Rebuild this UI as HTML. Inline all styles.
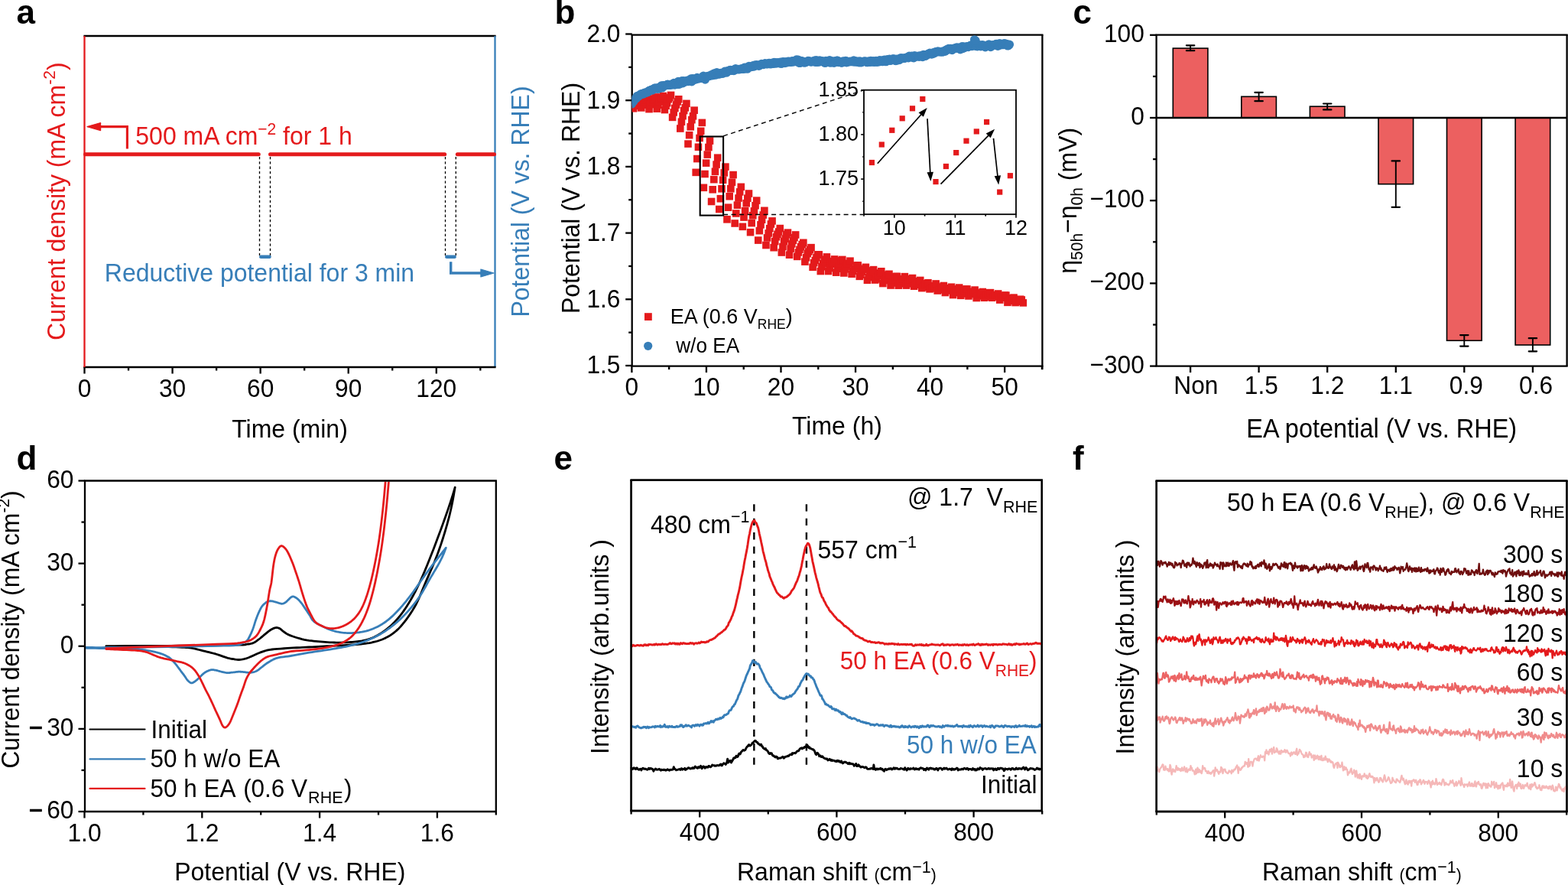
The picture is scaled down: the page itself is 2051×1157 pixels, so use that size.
<!DOCTYPE html>
<html><head><meta charset="utf-8"><title>Figure</title>
<style>html,body{margin:0;padding:0;background:#fff;}svg{display:block;}
text{font-family:'Liberation Sans', Arial, Helvetica, sans-serif;}</style></head>
<body>
<svg width="2051" height="1157" viewBox="0 0 2051 1157">
<rect x="0" y="0" width="2051" height="1157" fill="#fff"/>
<text x="21.5" y="31" font-size="44" font-weight="bold" >a</text>
<text x="725.5" y="31" font-size="44" font-weight="bold" >b</text>
<text x="1403.5" y="31" font-size="44" font-weight="bold" >c</text>
<text x="21.5" y="614" font-size="44" font-weight="bold" >d</text>
<text x="724.5" y="614" font-size="44" font-weight="bold" >e</text>
<text x="1403" y="614" font-size="44" font-weight="bold" >f</text>
<line x1="109.4" y1="47" x2="648.6" y2="47" stroke="#000" stroke-width="2.3" />
<line x1="647.5" y1="47" x2="647.5" y2="480" stroke="#377EB8" stroke-width="2.3" />
<line x1="109.4" y1="480" x2="648.6" y2="480" stroke="#000" stroke-width="2.3" />
<line x1="110.5" y1="47" x2="110.5" y2="480" stroke="#E41A1C" stroke-width="2.3" />
<line x1="110.5" y1="480" x2="110.5" y2="488.5" stroke="#000" stroke-width="2.3" />
<text transform="translate(110.5,519.4) scale(1,1.055)" font-size="31.7" text-anchor="middle" >0</text>
<line x1="168.04" y1="480" x2="168.04" y2="484.5" stroke="#000" stroke-width="2.3" />
<line x1="225.57" y1="480" x2="225.57" y2="488.5" stroke="#000" stroke-width="2.3" />
<text transform="translate(225.57,519.4) scale(1,1.055)" font-size="31.7" text-anchor="middle" >30</text>
<line x1="283.11" y1="480" x2="283.11" y2="484.5" stroke="#000" stroke-width="2.3" />
<line x1="340.64" y1="480" x2="340.64" y2="488.5" stroke="#000" stroke-width="2.3" />
<text transform="translate(340.64,519.4) scale(1,1.055)" font-size="31.7" text-anchor="middle" >60</text>
<line x1="398.18" y1="480" x2="398.18" y2="484.5" stroke="#000" stroke-width="2.3" />
<line x1="455.71" y1="480" x2="455.71" y2="488.5" stroke="#000" stroke-width="2.3" />
<text transform="translate(455.71,519.4) scale(1,1.055)" font-size="31.7" text-anchor="middle" >90</text>
<line x1="513.25" y1="480" x2="513.25" y2="484.5" stroke="#000" stroke-width="2.3" />
<line x1="570.79" y1="480" x2="570.79" y2="488.5" stroke="#000" stroke-width="2.3" />
<text transform="translate(570.79,519.4) scale(1,1.055)" font-size="31.7" text-anchor="middle" >120</text>
<line x1="628.32" y1="480" x2="628.32" y2="484.5" stroke="#000" stroke-width="2.3" />
<line x1="111.5" y1="201.7" x2="338.3" y2="201.7" stroke="#E41A1C" stroke-width="5" stroke-linecap="round"/>
<line x1="353.5" y1="201.7" x2="581.7" y2="201.7" stroke="#E41A1C" stroke-width="5" stroke-linecap="round"/>
<line x1="598.3" y1="201.7" x2="646.5" y2="201.7" stroke="#E41A1C" stroke-width="5" stroke-linecap="round"/>
<line x1="339.5" y1="205" x2="339.5" y2="334" stroke="#000" stroke-width="1.3" stroke-dasharray="3.3 3"/>
<line x1="353.5" y1="205" x2="353.5" y2="334" stroke="#000" stroke-width="1.3" stroke-dasharray="3.3 3"/>
<line x1="582.5" y1="205" x2="582.5" y2="334" stroke="#000" stroke-width="1.3" stroke-dasharray="3.3 3"/>
<line x1="596.3" y1="205" x2="596.3" y2="334" stroke="#000" stroke-width="1.3" stroke-dasharray="3.3 3"/>
<line x1="341.3" y1="335.8" x2="352.5" y2="335.8" stroke="#377EB8" stroke-width="4.6" stroke-linecap="round"/>
<line x1="584.3" y1="335.8" x2="594.6" y2="335.8" stroke="#377EB8" stroke-width="4.6" stroke-linecap="round"/>
<polyline points="166.4,194.5 166.4,165.6 128,165.6" fill="none" stroke="#E41A1C" stroke-width="3.1"/>
<polygon points="114,165.6 131.6,160.6 131.6,170.6" fill="#E41A1C" stroke="#E41A1C" stroke-width="1.2" stroke-linejoin="round"/>
<polyline points="589.7,342.3 589.7,357 632,357" fill="none" stroke="#377EB8" stroke-width="3.4"/>
<polygon points="646,357 628.9,352 628.9,362" fill="#377EB8" stroke="#377EB8" stroke-width="1.2" stroke-linejoin="round"/>
<text transform="translate(177.3,189.1) scale(1,1.055)" font-size="32" fill="#E41A1C" >500 mA cm<tspan dy="-12" font-size="21">−2</tspan><tspan dy="12"> for 1 h</tspan></text>
<text transform="translate(136.8,368.2) scale(1,1.055)" font-size="32" fill="#377EB8" >Reductive potential for 3 min</text>
<text transform="translate(379,571.6) scale(1,1.055)" font-size="32" text-anchor="middle" >Time (min)</text>
<text transform="translate(85,263.2) rotate(-90) scale(1,1.055)" text-anchor="middle" font-size="32" fill="#E41A1C">Current density (mA cm<tspan dy="-12" font-size="21">-2</tspan><tspan dy="12">)</tspan></text>
<text transform="translate(691.5,263.5) rotate(-90) scale(1,1.055)" text-anchor="middle" font-size="32" fill="#377EB8">Potential (V vs. RHE)</text>
<line x1="825.6" y1="45.6" x2="1364.5" y2="45.6" stroke="#000" stroke-width="2.3" />
<line x1="1363.4" y1="45.6" x2="1363.4" y2="478.6" stroke="#000" stroke-width="2.3" />
<line x1="825.6" y1="478.6" x2="1364.5" y2="478.6" stroke="#000" stroke-width="2.3" />
<line x1="826.7" y1="45.6" x2="826.7" y2="478.6" stroke="#000" stroke-width="2.3" />
<line x1="826.4" y1="478.6" x2="826.4" y2="487.1" stroke="#000" stroke-width="2.3" />
<text transform="translate(826.4,517.1) scale(1,1.055)" font-size="31.7" text-anchor="middle" >0</text>
<line x1="875.17" y1="478.6" x2="875.17" y2="483.1" stroke="#000" stroke-width="2.3" />
<line x1="923.95" y1="478.6" x2="923.95" y2="487.1" stroke="#000" stroke-width="2.3" />
<text transform="translate(923.95,517.1) scale(1,1.055)" font-size="31.7" text-anchor="middle" >10</text>
<line x1="972.73" y1="478.6" x2="972.73" y2="483.1" stroke="#000" stroke-width="2.3" />
<line x1="1021.5" y1="478.6" x2="1021.5" y2="487.1" stroke="#000" stroke-width="2.3" />
<text transform="translate(1021.5,517.1) scale(1,1.055)" font-size="31.7" text-anchor="middle" >20</text>
<line x1="1070.28" y1="478.6" x2="1070.28" y2="483.1" stroke="#000" stroke-width="2.3" />
<line x1="1119.05" y1="478.6" x2="1119.05" y2="487.1" stroke="#000" stroke-width="2.3" />
<text transform="translate(1119.05,517.1) scale(1,1.055)" font-size="31.7" text-anchor="middle" >30</text>
<line x1="1167.83" y1="478.6" x2="1167.83" y2="483.1" stroke="#000" stroke-width="2.3" />
<line x1="1216.6" y1="478.6" x2="1216.6" y2="487.1" stroke="#000" stroke-width="2.3" />
<text transform="translate(1216.6,517.1) scale(1,1.055)" font-size="31.7" text-anchor="middle" >40</text>
<line x1="1265.38" y1="478.6" x2="1265.38" y2="483.1" stroke="#000" stroke-width="2.3" />
<line x1="1314.15" y1="478.6" x2="1314.15" y2="487.1" stroke="#000" stroke-width="2.3" />
<text transform="translate(1314.15,517.1) scale(1,1.055)" font-size="31.7" text-anchor="middle" >50</text>
<line x1="1362.93" y1="478.6" x2="1362.93" y2="483.1" stroke="#000" stroke-width="2.3" />
<line x1="1363.4" y1="478.6" x2="1363.4" y2="483.1" stroke="#000" stroke-width="2.3" />
<line x1="818.2" y1="478" x2="826.7" y2="478" stroke="#000" stroke-width="2.3" />
<text transform="translate(811.5,488.4) scale(1,1.055)" font-size="31.7" text-anchor="end" >1.5</text>
<line x1="822.2" y1="434.65" x2="826.7" y2="434.65" stroke="#000" stroke-width="2.3" />
<line x1="818.2" y1="391.3" x2="826.7" y2="391.3" stroke="#000" stroke-width="2.3" />
<text transform="translate(811.5,401.7) scale(1,1.055)" font-size="31.7" text-anchor="end" >1.6</text>
<line x1="822.2" y1="347.95" x2="826.7" y2="347.95" stroke="#000" stroke-width="2.3" />
<line x1="818.2" y1="304.6" x2="826.7" y2="304.6" stroke="#000" stroke-width="2.3" />
<text transform="translate(811.5,315) scale(1,1.055)" font-size="31.7" text-anchor="end" >1.7</text>
<line x1="822.2" y1="261.25" x2="826.7" y2="261.25" stroke="#000" stroke-width="2.3" />
<line x1="818.2" y1="217.9" x2="826.7" y2="217.9" stroke="#000" stroke-width="2.3" />
<text transform="translate(811.5,228.3) scale(1,1.055)" font-size="31.7" text-anchor="end" >1.8</text>
<line x1="822.2" y1="174.55" x2="826.7" y2="174.55" stroke="#000" stroke-width="2.3" />
<line x1="818.2" y1="131.2" x2="826.7" y2="131.2" stroke="#000" stroke-width="2.3" />
<text transform="translate(811.5,141.6) scale(1,1.055)" font-size="31.7" text-anchor="end" >1.9</text>
<line x1="822.2" y1="87.85" x2="826.7" y2="87.85" stroke="#000" stroke-width="2.3" />
<line x1="818.2" y1="44.5" x2="826.7" y2="44.5" stroke="#000" stroke-width="2.3" />
<text transform="translate(811.5,54.9) scale(1,1.055)" font-size="31.7" text-anchor="end" >2.0</text>
<defs><clipPath id="clipb"><rect x="826.7" y="45.6" width="536.7" height="433.0"/></clipPath></defs>
<g fill="#E41A1C" clip-path="url(#clipb)">
<rect x="823.84" y="136.96" width="9.6" height="9.6"/><rect x="825.47" y="133.67" width="9.6" height="9.6"/><rect x="827.1" y="131.87" width="9.6" height="9.6"/><rect x="828.72" y="130.05" width="9.6" height="9.6"/><rect x="830.35" y="128.87" width="9.6" height="9.6"/><rect x="831.97" y="126.95" width="9.6" height="9.6"/><rect x="834.04" y="136.13" width="9.6" height="9.6"/><rect x="835.66" y="132.35" width="9.6" height="9.6"/><rect x="837.29" y="128.64" width="9.6" height="9.6"/><rect x="838.92" y="126.33" width="9.6" height="9.6"/><rect x="840.54" y="123.94" width="9.6" height="9.6"/><rect x="842.17" y="121.86" width="9.6" height="9.6"/><rect x="844.23" y="137.82" width="9.6" height="9.6"/><rect x="845.86" y="131.83" width="9.6" height="9.6"/><rect x="847.48" y="128.5" width="9.6" height="9.6"/><rect x="849.11" y="125.55" width="9.6" height="9.6"/><rect x="850.73" y="124.44" width="9.6" height="9.6"/><rect x="852.36" y="122.13" width="9.6" height="9.6"/><rect x="854.43" y="137.34" width="9.6" height="9.6"/><rect x="856.05" y="132.43" width="9.6" height="9.6"/><rect x="857.68" y="128.25" width="9.6" height="9.6"/><rect x="859.3" y="125.37" width="9.6" height="9.6"/><rect x="860.93" y="122.47" width="9.6" height="9.6"/><rect x="862.55" y="120.72" width="9.6" height="9.6"/><rect x="864.62" y="138.75" width="9.6" height="9.6"/><rect x="866.25" y="133.43" width="9.6" height="9.6"/><rect x="867.87" y="129.89" width="9.6" height="9.6"/><rect x="869.5" y="124.94" width="9.6" height="9.6"/><rect x="871.12" y="122.77" width="9.6" height="9.6"/><rect x="872.75" y="119.6" width="9.6" height="9.6"/><rect x="874.81" y="148.58" width="9.6" height="9.6"/><rect x="876.44" y="142.11" width="9.6" height="9.6"/><rect x="878.07" y="136.67" width="9.6" height="9.6"/><rect x="879.69" y="132.19" width="9.6" height="9.6"/><rect x="881.32" y="128.15" width="9.6" height="9.6"/><rect x="882.94" y="124.94" width="9.6" height="9.6"/><rect x="885.01" y="163.24" width="9.6" height="9.6"/><rect x="886.63" y="154.42" width="9.6" height="9.6"/><rect x="888.26" y="146.9" width="9.6" height="9.6"/><rect x="889.88" y="139.78" width="9.6" height="9.6"/><rect x="891.51" y="136.01" width="9.6" height="9.6"/><rect x="893.14" y="130.57" width="9.6" height="9.6"/><rect x="895.2" y="183.29" width="9.6" height="9.6"/><rect x="896.83" y="171.9" width="9.6" height="9.6"/><rect x="898.45" y="160.98" width="9.6" height="9.6"/><rect x="900.08" y="151.88" width="9.6" height="9.6"/><rect x="901.7" y="147.02" width="9.6" height="9.6"/><rect x="903.33" y="139.38" width="9.6" height="9.6"/><rect x="905.4" y="220.56" width="9.6" height="9.6"/><rect x="907.02" y="202.76" width="9.6" height="9.6"/><rect x="908.65" y="187.47" width="9.6" height="9.6"/><rect x="910.27" y="175.69" width="9.6" height="9.6"/><rect x="911.9" y="166.56" width="9.6" height="9.6"/><rect x="913.52" y="155.57" width="9.6" height="9.6"/><rect x="915.59" y="240.52" width="9.6" height="9.6"/><rect x="917.22" y="222.7" width="9.6" height="9.6"/><rect x="918.84" y="208.36" width="9.6" height="9.6"/><rect x="920.47" y="197.28" width="9.6" height="9.6"/><rect x="922.09" y="187.75" width="9.6" height="9.6"/><rect x="923.72" y="179.32" width="9.6" height="9.6"/><rect x="925.78" y="258.68" width="9.6" height="9.6"/><rect x="927.41" y="243.02" width="9.6" height="9.6"/><rect x="929.04" y="229.88" width="9.6" height="9.6"/><rect x="930.66" y="219.47" width="9.6" height="9.6"/><rect x="932.29" y="210.31" width="9.6" height="9.6"/><rect x="933.91" y="201.41" width="9.6" height="9.6"/><rect x="935.98" y="268.73" width="9.6" height="9.6"/><rect x="937.6" y="254.94" width="9.6" height="9.6"/><rect x="939.23" y="242.02" width="9.6" height="9.6"/><rect x="940.85" y="230.5" width="9.6" height="9.6"/><rect x="942.48" y="221.11" width="9.6" height="9.6"/><rect x="944.11" y="213.31" width="9.6" height="9.6"/><rect x="946.17" y="282.02" width="9.6" height="9.6"/><rect x="947.8" y="266.4" width="9.6" height="9.6"/><rect x="949.42" y="251.95" width="9.6" height="9.6"/><rect x="951.05" y="241.99" width="9.6" height="9.6"/><rect x="952.67" y="233.47" width="9.6" height="9.6"/><rect x="954.3" y="223.78" width="9.6" height="9.6"/><rect x="956.37" y="287.2" width="9.6" height="9.6"/><rect x="957.99" y="274.2" width="9.6" height="9.6"/><rect x="959.62" y="263.36" width="9.6" height="9.6"/><rect x="961.24" y="254.23" width="9.6" height="9.6"/><rect x="962.87" y="246.09" width="9.6" height="9.6"/><rect x="964.49" y="239.54" width="9.6" height="9.6"/><rect x="966.56" y="291.53" width="9.6" height="9.6"/><rect x="968.19" y="279.26" width="9.6" height="9.6"/><rect x="969.81" y="270.81" width="9.6" height="9.6"/><rect x="971.44" y="260.94" width="9.6" height="9.6"/><rect x="973.06" y="254.43" width="9.6" height="9.6"/><rect x="974.69" y="248.24" width="9.6" height="9.6"/><rect x="976.75" y="298.88" width="9.6" height="9.6"/><rect x="978.38" y="286.82" width="9.6" height="9.6"/><rect x="980" y="276.99" width="9.6" height="9.6"/><rect x="981.63" y="271.13" width="9.6" height="9.6"/><rect x="983.26" y="263.98" width="9.6" height="9.6"/><rect x="984.88" y="257.33" width="9.6" height="9.6"/><rect x="986.95" y="309.27" width="9.6" height="9.6"/><rect x="988.57" y="296.86" width="9.6" height="9.6"/><rect x="990.2" y="289.05" width="9.6" height="9.6"/><rect x="991.82" y="282.41" width="9.6" height="9.6"/><rect x="993.45" y="276.29" width="9.6" height="9.6"/><rect x="995.08" y="270.5" width="9.6" height="9.6"/><rect x="997.14" y="315.74" width="9.6" height="9.6"/><rect x="998.77" y="306.15" width="9.6" height="9.6"/><rect x="1000.39" y="300.11" width="9.6" height="9.6"/><rect x="1002.02" y="294" width="9.6" height="9.6"/><rect x="1003.64" y="288.2" width="9.6" height="9.6"/><rect x="1005.27" y="284.1" width="9.6" height="9.6"/><rect x="1007.34" y="318.91" width="9.6" height="9.6"/><rect x="1008.96" y="310.82" width="9.6" height="9.6"/><rect x="1010.59" y="304.95" width="9.6" height="9.6"/><rect x="1012.21" y="301.47" width="9.6" height="9.6"/><rect x="1013.84" y="298.22" width="9.6" height="9.6"/><rect x="1015.46" y="293.78" width="9.6" height="9.6"/><rect x="1017.53" y="325.22" width="9.6" height="9.6"/><rect x="1019.16" y="317.8" width="9.6" height="9.6"/><rect x="1020.78" y="310.79" width="9.6" height="9.6"/><rect x="1022.41" y="307.28" width="9.6" height="9.6"/><rect x="1024.03" y="301.78" width="9.6" height="9.6"/><rect x="1025.66" y="299.36" width="9.6" height="9.6"/><rect x="1027.72" y="328.39" width="9.6" height="9.6"/><rect x="1029.35" y="320.27" width="9.6" height="9.6"/><rect x="1030.97" y="314.2" width="9.6" height="9.6"/><rect x="1032.6" y="309.54" width="9.6" height="9.6"/><rect x="1034.23" y="305.87" width="9.6" height="9.6"/><rect x="1035.85" y="302.18" width="9.6" height="9.6"/><rect x="1037.92" y="330.58" width="9.6" height="9.6"/><rect x="1039.54" y="325.18" width="9.6" height="9.6"/><rect x="1041.17" y="321.54" width="9.6" height="9.6"/><rect x="1042.79" y="317.85" width="9.6" height="9.6"/><rect x="1044.42" y="314.85" width="9.6" height="9.6"/><rect x="1046.05" y="312.49" width="9.6" height="9.6"/><rect x="1048.11" y="337.33" width="9.6" height="9.6"/><rect x="1049.74" y="332.02" width="9.6" height="9.6"/><rect x="1051.36" y="326.83" width="9.6" height="9.6"/><rect x="1052.99" y="324.25" width="9.6" height="9.6"/><rect x="1054.61" y="321.74" width="9.6" height="9.6"/><rect x="1056.24" y="318.85" width="9.6" height="9.6"/><rect x="1058.31" y="344.5" width="9.6" height="9.6"/><rect x="1059.93" y="338.84" width="9.6" height="9.6"/><rect x="1061.56" y="335.57" width="9.6" height="9.6"/><rect x="1063.18" y="331.75" width="9.6" height="9.6"/><rect x="1064.81" y="328.08" width="9.6" height="9.6"/><rect x="1066.43" y="328.08" width="9.6" height="9.6"/><rect x="1068.5" y="349.73" width="9.6" height="9.6"/><rect x="1070.12" y="343.94" width="9.6" height="9.6"/><rect x="1071.75" y="339.9" width="9.6" height="9.6"/><rect x="1073.38" y="336.7" width="9.6" height="9.6"/><rect x="1075" y="334.39" width="9.6" height="9.6"/><rect x="1076.63" y="331.12" width="9.6" height="9.6"/><rect x="1078.69" y="349.73" width="9.6" height="9.6"/><rect x="1080.32" y="345.73" width="9.6" height="9.6"/><rect x="1081.94" y="340.38" width="9.6" height="9.6"/><rect x="1083.57" y="338.66" width="9.6" height="9.6"/><rect x="1085.2" y="336.76" width="9.6" height="9.6"/><rect x="1086.82" y="334.13" width="9.6" height="9.6"/><rect x="1088.89" y="351.35" width="9.6" height="9.6"/><rect x="1090.51" y="346.35" width="9.6" height="9.6"/><rect x="1092.14" y="344.08" width="9.6" height="9.6"/><rect x="1093.76" y="339.46" width="9.6" height="9.6"/><rect x="1095.39" y="335.87" width="9.6" height="9.6"/><rect x="1097.02" y="334.61" width="9.6" height="9.6"/><rect x="1099.08" y="352.15" width="9.6" height="9.6"/><rect x="1100.71" y="347.02" width="9.6" height="9.6"/><rect x="1102.33" y="343.5" width="9.6" height="9.6"/><rect x="1103.96" y="340.12" width="9.6" height="9.6"/><rect x="1105.58" y="339.58" width="9.6" height="9.6"/><rect x="1107.21" y="336.39" width="9.6" height="9.6"/><rect x="1109.27" y="353.39" width="9.6" height="9.6"/><rect x="1110.9" y="349.41" width="9.6" height="9.6"/><rect x="1112.53" y="346.42" width="9.6" height="9.6"/><rect x="1114.15" y="346.46" width="9.6" height="9.6"/><rect x="1115.78" y="342.31" width="9.6" height="9.6"/><rect x="1117.4" y="342.07" width="9.6" height="9.6"/><rect x="1119.47" y="356.53" width="9.6" height="9.6"/><rect x="1121.09" y="354.37" width="9.6" height="9.6"/><rect x="1122.72" y="350.6" width="9.6" height="9.6"/><rect x="1124.35" y="347.67" width="9.6" height="9.6"/><rect x="1125.97" y="346.58" width="9.6" height="9.6"/><rect x="1127.6" y="344.54" width="9.6" height="9.6"/><rect x="1129.66" y="361.46" width="9.6" height="9.6"/><rect x="1131.29" y="357.81" width="9.6" height="9.6"/><rect x="1132.91" y="354.73" width="9.6" height="9.6"/><rect x="1134.54" y="351.06" width="9.6" height="9.6"/><rect x="1136.17" y="349.13" width="9.6" height="9.6"/><rect x="1137.79" y="347.82" width="9.6" height="9.6"/><rect x="1139.86" y="361.24" width="9.6" height="9.6"/><rect x="1141.48" y="360.06" width="9.6" height="9.6"/><rect x="1143.11" y="356" width="9.6" height="9.6"/><rect x="1144.73" y="354.36" width="9.6" height="9.6"/><rect x="1146.36" y="352.18" width="9.6" height="9.6"/><rect x="1147.99" y="349.97" width="9.6" height="9.6"/><rect x="1150.05" y="365.76" width="9.6" height="9.6"/><rect x="1151.68" y="361.83" width="9.6" height="9.6"/><rect x="1153.3" y="360.22" width="9.6" height="9.6"/><rect x="1154.93" y="357.77" width="9.6" height="9.6"/><rect x="1156.55" y="354.47" width="9.6" height="9.6"/><rect x="1158.18" y="353.49" width="9.6" height="9.6"/><rect x="1160.24" y="368.23" width="9.6" height="9.6"/><rect x="1161.87" y="365.21" width="9.6" height="9.6"/><rect x="1163.5" y="360.93" width="9.6" height="9.6"/><rect x="1165.12" y="359.06" width="9.6" height="9.6"/><rect x="1166.75" y="356.82" width="9.6" height="9.6"/><rect x="1168.37" y="356.55" width="9.6" height="9.6"/><rect x="1170.44" y="368.35" width="9.6" height="9.6"/><rect x="1172.06" y="366.05" width="9.6" height="9.6"/><rect x="1173.69" y="362.52" width="9.6" height="9.6"/><rect x="1175.32" y="360.04" width="9.6" height="9.6"/><rect x="1176.94" y="359.9" width="9.6" height="9.6"/><rect x="1178.57" y="356.84" width="9.6" height="9.6"/><rect x="1180.63" y="368.3" width="9.6" height="9.6"/><rect x="1182.26" y="366.04" width="9.6" height="9.6"/><rect x="1183.88" y="364.76" width="9.6" height="9.6"/><rect x="1185.51" y="360.73" width="9.6" height="9.6"/><rect x="1187.14" y="360.02" width="9.6" height="9.6"/><rect x="1188.76" y="358.76" width="9.6" height="9.6"/><rect x="1190.83" y="369.4" width="9.6" height="9.6"/><rect x="1192.45" y="367.39" width="9.6" height="9.6"/><rect x="1194.08" y="365.13" width="9.6" height="9.6"/><rect x="1195.7" y="365.33" width="9.6" height="9.6"/><rect x="1197.33" y="362.92" width="9.6" height="9.6"/><rect x="1198.96" y="361.65" width="9.6" height="9.6"/><rect x="1201.02" y="371.82" width="9.6" height="9.6"/><rect x="1202.65" y="370.62" width="9.6" height="9.6"/><rect x="1204.27" y="369.22" width="9.6" height="9.6"/><rect x="1205.9" y="366.7" width="9.6" height="9.6"/><rect x="1207.52" y="366.05" width="9.6" height="9.6"/><rect x="1209.15" y="364.89" width="9.6" height="9.6"/><rect x="1211.21" y="373.05" width="9.6" height="9.6"/><rect x="1212.84" y="372.02" width="9.6" height="9.6"/><rect x="1214.47" y="371.63" width="9.6" height="9.6"/><rect x="1216.09" y="369.1" width="9.6" height="9.6"/><rect x="1217.72" y="368.87" width="9.6" height="9.6"/><rect x="1219.34" y="366.17" width="9.6" height="9.6"/><rect x="1221.41" y="375.22" width="9.6" height="9.6"/><rect x="1223.03" y="374.11" width="9.6" height="9.6"/><rect x="1224.66" y="372.41" width="9.6" height="9.6"/><rect x="1226.29" y="370.79" width="9.6" height="9.6"/><rect x="1227.91" y="370.33" width="9.6" height="9.6"/><rect x="1229.54" y="368.69" width="9.6" height="9.6"/><rect x="1231.6" y="377.72" width="9.6" height="9.6"/><rect x="1233.23" y="375.15" width="9.6" height="9.6"/><rect x="1234.85" y="373.36" width="9.6" height="9.6"/><rect x="1236.48" y="372.03" width="9.6" height="9.6"/><rect x="1238.11" y="372.38" width="9.6" height="9.6"/><rect x="1239.73" y="370.44" width="9.6" height="9.6"/><rect x="1241.8" y="380.75" width="9.6" height="9.6"/><rect x="1243.42" y="377.91" width="9.6" height="9.6"/><rect x="1245.05" y="376.56" width="9.6" height="9.6"/><rect x="1246.67" y="373.16" width="9.6" height="9.6"/><rect x="1248.3" y="373.26" width="9.6" height="9.6"/><rect x="1249.93" y="371.28" width="9.6" height="9.6"/><rect x="1251.99" y="381.52" width="9.6" height="9.6"/><rect x="1253.62" y="379.09" width="9.6" height="9.6"/><rect x="1255.24" y="377.58" width="9.6" height="9.6"/><rect x="1256.87" y="375.53" width="9.6" height="9.6"/><rect x="1258.49" y="373.31" width="9.6" height="9.6"/><rect x="1260.12" y="373.14" width="9.6" height="9.6"/><rect x="1262.18" y="382.14" width="9.6" height="9.6"/><rect x="1263.81" y="379.73" width="9.6" height="9.6"/><rect x="1265.44" y="378.77" width="9.6" height="9.6"/><rect x="1267.06" y="378" width="9.6" height="9.6"/><rect x="1268.69" y="376.41" width="9.6" height="9.6"/><rect x="1270.31" y="374.3" width="9.6" height="9.6"/><rect x="1272.38" y="384.7" width="9.6" height="9.6"/><rect x="1274" y="382.23" width="9.6" height="9.6"/><rect x="1275.63" y="379.79" width="9.6" height="9.6"/><rect x="1277.26" y="378.69" width="9.6" height="9.6"/><rect x="1278.88" y="378.16" width="9.6" height="9.6"/><rect x="1280.51" y="376.71" width="9.6" height="9.6"/><rect x="1282.57" y="384.46" width="9.6" height="9.6"/><rect x="1284.2" y="383.27" width="9.6" height="9.6"/><rect x="1285.82" y="381.92" width="9.6" height="9.6"/><rect x="1287.45" y="380.03" width="9.6" height="9.6"/><rect x="1289.08" y="377.98" width="9.6" height="9.6"/><rect x="1290.7" y="377.83" width="9.6" height="9.6"/><rect x="1292.77" y="384.45" width="9.6" height="9.6"/><rect x="1294.39" y="383.11" width="9.6" height="9.6"/><rect x="1296.02" y="382.57" width="9.6" height="9.6"/><rect x="1297.64" y="380.88" width="9.6" height="9.6"/><rect x="1299.27" y="380.83" width="9.6" height="9.6"/><rect x="1300.9" y="379.23" width="9.6" height="9.6"/><rect x="1302.96" y="387.27" width="9.6" height="9.6"/><rect x="1304.59" y="384.31" width="9.6" height="9.6"/><rect x="1306.21" y="383.83" width="9.6" height="9.6"/><rect x="1307.84" y="383.74" width="9.6" height="9.6"/><rect x="1309.46" y="381.39" width="9.6" height="9.6"/><rect x="1311.09" y="381.29" width="9.6" height="9.6"/><rect x="1313.15" y="390.55" width="9.6" height="9.6"/><rect x="1314.78" y="388.48" width="9.6" height="9.6"/><rect x="1316.41" y="386.78" width="9.6" height="9.6"/><rect x="1318.03" y="386.4" width="9.6" height="9.6"/><rect x="1319.66" y="384.97" width="9.6" height="9.6"/><rect x="1321.28" y="384.33" width="9.6" height="9.6"/><rect x="1323.35" y="390.77" width="9.6" height="9.6"/><rect x="1324.97" y="389.49" width="9.6" height="9.6"/><rect x="1326.6" y="387.71" width="9.6" height="9.6"/><rect x="1328.23" y="387.13" width="9.6" height="9.6"/><rect x="1329.85" y="386.45" width="9.6" height="9.6"/><rect x="1331.48" y="387.2" width="9.6" height="9.6"/><rect x="1333.54" y="391.12" width="9.6" height="9.6"/>
</g>
<g fill="#377EB8" clip-path="url(#clipb)">
<circle cx="826.4" cy="135.88" r="5.7"/><circle cx="827.57" cy="132.7" r="5.7"/><circle cx="828.74" cy="132.7" r="5.7"/><circle cx="829.91" cy="129.34" r="5.7"/><circle cx="831.08" cy="129.56" r="5.7"/><circle cx="832.25" cy="128.6" r="5.7"/><circle cx="833.42" cy="125.57" r="5.7"/><circle cx="834.59" cy="126.27" r="5.7"/><circle cx="835.76" cy="125.49" r="5.7"/><circle cx="836.94" cy="123.98" r="5.7"/><circle cx="838.11" cy="122.93" r="5.7"/><circle cx="839.28" cy="123.36" r="5.7"/><circle cx="840.45" cy="122.09" r="5.7"/><circle cx="841.62" cy="122.9" r="5.7"/><circle cx="842.79" cy="121.65" r="5.7"/><circle cx="843.96" cy="121.04" r="5.7"/><circle cx="845.13" cy="121.22" r="5.7"/><circle cx="846.3" cy="120.79" r="5.7"/><circle cx="847.47" cy="120.48" r="5.7"/><circle cx="848.64" cy="118.74" r="5.7"/><circle cx="849.81" cy="118.25" r="5.7"/><circle cx="850.98" cy="117.97" r="5.7"/><circle cx="852.15" cy="117.18" r="5.7"/><circle cx="853.32" cy="118.09" r="5.7"/><circle cx="854.49" cy="116.47" r="5.7"/><circle cx="855.66" cy="115.75" r="5.7"/><circle cx="856.84" cy="114.83" r="5.7"/><circle cx="858.01" cy="115.94" r="5.7"/><circle cx="859.18" cy="115.09" r="5.7"/><circle cx="860.35" cy="116.2" r="5.7"/><circle cx="861.52" cy="114.34" r="5.7"/><circle cx="862.69" cy="115.69" r="5.7"/><circle cx="863.86" cy="114.69" r="5.7"/><circle cx="865.03" cy="112.03" r="5.7"/><circle cx="866.2" cy="114.92" r="5.7"/><circle cx="867.37" cy="111.8" r="5.7"/><circle cx="868.54" cy="111.99" r="5.7"/><circle cx="869.71" cy="112.34" r="5.7"/><circle cx="870.88" cy="111.34" r="5.7"/><circle cx="872.05" cy="111.02" r="5.7"/><circle cx="873.22" cy="110.26" r="5.7"/><circle cx="874.39" cy="111.22" r="5.7"/><circle cx="875.57" cy="111.3" r="5.7"/><circle cx="876.74" cy="111.06" r="5.7"/><circle cx="877.91" cy="111.16" r="5.7"/><circle cx="879.08" cy="110" r="5.7"/><circle cx="880.25" cy="110.45" r="5.7"/><circle cx="881.42" cy="108.42" r="5.7"/><circle cx="882.59" cy="110.96" r="5.7"/><circle cx="883.76" cy="109.96" r="5.7"/><circle cx="884.93" cy="109.57" r="5.7"/><circle cx="886.1" cy="110.41" r="5.7"/><circle cx="887.27" cy="106.36" r="5.7"/><circle cx="888.44" cy="110.22" r="5.7"/><circle cx="889.61" cy="107.95" r="5.7"/><circle cx="890.78" cy="107.94" r="5.7"/><circle cx="891.95" cy="105.62" r="5.7"/><circle cx="893.12" cy="108.84" r="5.7"/><circle cx="894.29" cy="105.69" r="5.7"/><circle cx="895.47" cy="107.16" r="5.7"/><circle cx="896.64" cy="106.37" r="5.7"/><circle cx="897.81" cy="106.62" r="5.7"/><circle cx="898.98" cy="105.12" r="5.7"/><circle cx="900.15" cy="106.57" r="5.7"/><circle cx="901.32" cy="105.32" r="5.7"/><circle cx="902.49" cy="104.66" r="5.7"/><circle cx="903.66" cy="103" r="5.7"/><circle cx="904.83" cy="106.81" r="5.7"/><circle cx="906" cy="102.81" r="5.7"/><circle cx="907.17" cy="103.12" r="5.7"/><circle cx="908.34" cy="104.24" r="5.7"/><circle cx="909.51" cy="103.25" r="5.7"/><circle cx="910.68" cy="103.74" r="5.7"/><circle cx="911.85" cy="101.48" r="5.7"/><circle cx="913.02" cy="102.61" r="5.7"/><circle cx="914.19" cy="102.77" r="5.7"/><circle cx="915.37" cy="102.54" r="5.7"/><circle cx="916.54" cy="102.25" r="5.7"/><circle cx="917.71" cy="101.94" r="5.7"/><circle cx="918.88" cy="102.32" r="5.7"/><circle cx="920.05" cy="99.23" r="5.7"/><circle cx="921.22" cy="102.72" r="5.7"/><circle cx="922.39" cy="104.05" r="5.7"/><circle cx="923.56" cy="100.44" r="5.7"/><circle cx="924.73" cy="100.17" r="5.7"/><circle cx="925.9" cy="99.39" r="5.7"/><circle cx="927.07" cy="99.65" r="5.7"/><circle cx="928.24" cy="99.3" r="5.7"/><circle cx="929.41" cy="98.55" r="5.7"/><circle cx="930.58" cy="97.66" r="5.7"/><circle cx="931.75" cy="98.72" r="5.7"/><circle cx="932.92" cy="98.36" r="5.7"/><circle cx="934.1" cy="95.86" r="5.7"/><circle cx="935.27" cy="96.92" r="5.7"/><circle cx="936.44" cy="98.07" r="5.7"/><circle cx="937.61" cy="94.63" r="5.7"/><circle cx="938.78" cy="95.81" r="5.7"/><circle cx="939.95" cy="96.82" r="5.7"/><circle cx="941.12" cy="97.09" r="5.7"/><circle cx="942.29" cy="95.4" r="5.7"/><circle cx="943.46" cy="96.19" r="5.7"/><circle cx="944.63" cy="96.11" r="5.7"/><circle cx="945.8" cy="96.05" r="5.7"/><circle cx="946.97" cy="95.01" r="5.7"/><circle cx="948.14" cy="93.18" r="5.7"/><circle cx="949.31" cy="94.36" r="5.7"/><circle cx="950.48" cy="95.04" r="5.7"/><circle cx="951.65" cy="92.73" r="5.7"/><circle cx="952.82" cy="93.01" r="5.7"/><circle cx="954" cy="91.98" r="5.7"/><circle cx="955.17" cy="91.35" r="5.7"/><circle cx="956.34" cy="92.37" r="5.7"/><circle cx="957.51" cy="92.07" r="5.7"/><circle cx="958.68" cy="91.74" r="5.7"/><circle cx="959.85" cy="92.54" r="5.7"/><circle cx="961.02" cy="90.59" r="5.7"/><circle cx="962.19" cy="89.68" r="5.7"/><circle cx="963.36" cy="90.59" r="5.7"/><circle cx="964.53" cy="90.74" r="5.7"/><circle cx="965.7" cy="90.53" r="5.7"/><circle cx="966.87" cy="90.79" r="5.7"/><circle cx="968.04" cy="90.58" r="5.7"/><circle cx="969.21" cy="89.96" r="5.7"/><circle cx="970.38" cy="90.14" r="5.7"/><circle cx="971.55" cy="89.52" r="5.7"/><circle cx="972.72" cy="90.37" r="5.7"/><circle cx="973.9" cy="88.3" r="5.7"/><circle cx="975.07" cy="88.35" r="5.7"/><circle cx="976.24" cy="89.26" r="5.7"/><circle cx="977.41" cy="90.11" r="5.7"/><circle cx="978.58" cy="87.69" r="5.7"/><circle cx="979.75" cy="86.4" r="5.7"/><circle cx="980.92" cy="87.91" r="5.7"/><circle cx="982.09" cy="87.44" r="5.7"/><circle cx="983.26" cy="87.28" r="5.7"/><circle cx="984.43" cy="85.88" r="5.7"/><circle cx="985.6" cy="87.14" r="5.7"/><circle cx="986.77" cy="85.09" r="5.7"/><circle cx="987.94" cy="86.09" r="5.7"/><circle cx="989.11" cy="84.68" r="5.7"/><circle cx="990.28" cy="85.29" r="5.7"/><circle cx="991.45" cy="85.31" r="5.7"/><circle cx="992.63" cy="86.26" r="5.7"/><circle cx="993.8" cy="85.27" r="5.7"/><circle cx="994.97" cy="84.63" r="5.7"/><circle cx="996.14" cy="83.52" r="5.7"/><circle cx="997.31" cy="83.7" r="5.7"/><circle cx="998.48" cy="84.49" r="5.7"/><circle cx="999.65" cy="83.33" r="5.7"/><circle cx="1000.82" cy="82.67" r="5.7"/><circle cx="1001.99" cy="83.65" r="5.7"/><circle cx="1003.16" cy="83.82" r="5.7"/><circle cx="1004.33" cy="83.67" r="5.7"/><circle cx="1005.5" cy="82.41" r="5.7"/><circle cx="1006.67" cy="82.57" r="5.7"/><circle cx="1007.84" cy="83.86" r="5.7"/><circle cx="1009.01" cy="82.51" r="5.7"/><circle cx="1010.18" cy="83.22" r="5.7"/><circle cx="1011.35" cy="83.37" r="5.7"/><circle cx="1012.53" cy="81.36" r="5.7"/><circle cx="1013.7" cy="81.66" r="5.7"/><circle cx="1014.87" cy="83.02" r="5.7"/><circle cx="1016.04" cy="82.15" r="5.7"/><circle cx="1017.21" cy="81.64" r="5.7"/><circle cx="1018.38" cy="82.62" r="5.7"/><circle cx="1019.55" cy="82.02" r="5.7"/><circle cx="1020.72" cy="81.16" r="5.7"/><circle cx="1021.89" cy="83.4" r="5.7"/><circle cx="1023.06" cy="81.28" r="5.7"/><circle cx="1024.23" cy="80.78" r="5.7"/><circle cx="1025.4" cy="80.89" r="5.7"/><circle cx="1026.57" cy="82.55" r="5.7"/><circle cx="1027.74" cy="80.86" r="5.7"/><circle cx="1028.91" cy="81.88" r="5.7"/><circle cx="1030.08" cy="80.4" r="5.7"/><circle cx="1031.25" cy="80.27" r="5.7"/><circle cx="1032.43" cy="80.53" r="5.7"/><circle cx="1033.6" cy="81.36" r="5.7"/><circle cx="1034.77" cy="81.09" r="5.7"/><circle cx="1035.94" cy="79.6" r="5.7"/><circle cx="1037.11" cy="81.17" r="5.7"/><circle cx="1038.28" cy="79.75" r="5.7"/><circle cx="1039.45" cy="79.74" r="5.7"/><circle cx="1040.62" cy="80.5" r="5.7"/><circle cx="1041.79" cy="77.96" r="5.7"/><circle cx="1042.96" cy="80.18" r="5.7"/><circle cx="1044.13" cy="78.21" r="5.7"/><circle cx="1045.3" cy="82.19" r="5.7"/><circle cx="1046.47" cy="82.41" r="5.7"/><circle cx="1047.64" cy="79.34" r="5.7"/><circle cx="1048.81" cy="79.68" r="5.7"/><circle cx="1049.98" cy="80.59" r="5.7"/><circle cx="1051.16" cy="80.35" r="5.7"/><circle cx="1052.33" cy="82.13" r="5.7"/><circle cx="1053.5" cy="80.92" r="5.7"/><circle cx="1054.67" cy="81.31" r="5.7"/><circle cx="1055.84" cy="80.54" r="5.7"/><circle cx="1057.01" cy="79.5" r="5.7"/><circle cx="1058.18" cy="80.3" r="5.7"/><circle cx="1059.35" cy="80" r="5.7"/><circle cx="1060.52" cy="81.03" r="5.7"/><circle cx="1061.69" cy="80.79" r="5.7"/><circle cx="1062.86" cy="80.27" r="5.7"/><circle cx="1064.03" cy="80.65" r="5.7"/><circle cx="1065.2" cy="79.19" r="5.7"/><circle cx="1066.37" cy="81.24" r="5.7"/><circle cx="1067.54" cy="78.6" r="5.7"/><circle cx="1068.71" cy="81.35" r="5.7"/><circle cx="1069.88" cy="79.41" r="5.7"/><circle cx="1071.06" cy="81.17" r="5.7"/><circle cx="1072.23" cy="78.87" r="5.7"/><circle cx="1073.4" cy="80.31" r="5.7"/><circle cx="1074.57" cy="80.07" r="5.7"/><circle cx="1075.74" cy="79.75" r="5.7"/><circle cx="1076.91" cy="81.07" r="5.7"/><circle cx="1078.08" cy="81.47" r="5.7"/><circle cx="1079.25" cy="82.41" r="5.7"/><circle cx="1080.42" cy="79.33" r="5.7"/><circle cx="1081.59" cy="81.16" r="5.7"/><circle cx="1082.76" cy="81.07" r="5.7"/><circle cx="1083.93" cy="80.54" r="5.7"/><circle cx="1085.1" cy="78.62" r="5.7"/><circle cx="1086.27" cy="82.17" r="5.7"/><circle cx="1087.44" cy="80.3" r="5.7"/><circle cx="1088.61" cy="80.92" r="5.7"/><circle cx="1089.79" cy="80.04" r="5.7"/><circle cx="1090.96" cy="82.27" r="5.7"/><circle cx="1092.13" cy="80.94" r="5.7"/><circle cx="1093.3" cy="79.77" r="5.7"/><circle cx="1094.47" cy="79.1" r="5.7"/><circle cx="1095.64" cy="79.08" r="5.7"/><circle cx="1096.81" cy="81.43" r="5.7"/><circle cx="1097.98" cy="80.58" r="5.7"/><circle cx="1099.15" cy="80.75" r="5.7"/><circle cx="1100.32" cy="81.97" r="5.7"/><circle cx="1101.49" cy="82.04" r="5.7"/><circle cx="1102.66" cy="79.96" r="5.7"/><circle cx="1103.83" cy="80.46" r="5.7"/><circle cx="1105" cy="80.84" r="5.7"/><circle cx="1106.17" cy="79.56" r="5.7"/><circle cx="1107.34" cy="81.69" r="5.7"/><circle cx="1108.51" cy="80.25" r="5.7"/><circle cx="1109.69" cy="80.75" r="5.7"/><circle cx="1110.86" cy="80.83" r="5.7"/><circle cx="1112.03" cy="80.32" r="5.7"/><circle cx="1113.2" cy="80.63" r="5.7"/><circle cx="1114.37" cy="80.56" r="5.7"/><circle cx="1115.54" cy="80.57" r="5.7"/><circle cx="1116.71" cy="78.99" r="5.7"/><circle cx="1117.88" cy="81.15" r="5.7"/><circle cx="1119.05" cy="79.9" r="5.7"/><circle cx="1120.22" cy="80.3" r="5.7"/><circle cx="1121.39" cy="81.23" r="5.7"/><circle cx="1122.56" cy="80.15" r="5.7"/><circle cx="1123.73" cy="81.74" r="5.7"/><circle cx="1124.9" cy="79.83" r="5.7"/><circle cx="1126.07" cy="81.72" r="5.7"/><circle cx="1127.24" cy="81.43" r="5.7"/><circle cx="1128.41" cy="80.67" r="5.7"/><circle cx="1129.59" cy="80.19" r="5.7"/><circle cx="1130.76" cy="80.14" r="5.7"/><circle cx="1131.93" cy="80.06" r="5.7"/><circle cx="1133.1" cy="81.02" r="5.7"/><circle cx="1134.27" cy="81.64" r="5.7"/><circle cx="1135.44" cy="80.12" r="5.7"/><circle cx="1136.61" cy="80.27" r="5.7"/><circle cx="1137.78" cy="81.37" r="5.7"/><circle cx="1138.95" cy="79.45" r="5.7"/><circle cx="1140.12" cy="80.1" r="5.7"/><circle cx="1141.29" cy="81.11" r="5.7"/><circle cx="1142.46" cy="79.69" r="5.7"/><circle cx="1143.63" cy="81.28" r="5.7"/><circle cx="1144.8" cy="80.77" r="5.7"/><circle cx="1145.97" cy="79.46" r="5.7"/><circle cx="1147.14" cy="81.24" r="5.7"/><circle cx="1148.32" cy="79.63" r="5.7"/><circle cx="1149.49" cy="80.86" r="5.7"/><circle cx="1150.66" cy="78.78" r="5.7"/><circle cx="1151.83" cy="80.09" r="5.7"/><circle cx="1153" cy="79.13" r="5.7"/><circle cx="1154.17" cy="80.65" r="5.7"/><circle cx="1155.34" cy="79.46" r="5.7"/><circle cx="1156.51" cy="78.14" r="5.7"/><circle cx="1157.68" cy="78.51" r="5.7"/><circle cx="1158.85" cy="80.61" r="5.7"/><circle cx="1160.02" cy="77.89" r="5.7"/><circle cx="1161.19" cy="77.83" r="5.7"/><circle cx="1162.36" cy="78.95" r="5.7"/><circle cx="1163.53" cy="77.15" r="5.7"/><circle cx="1164.7" cy="79.42" r="5.7"/><circle cx="1165.87" cy="78.41" r="5.7"/><circle cx="1167.04" cy="77.17" r="5.7"/><circle cx="1168.22" cy="76.9" r="5.7"/><circle cx="1169.39" cy="76.84" r="5.7"/><circle cx="1170.56" cy="79.01" r="5.7"/><circle cx="1171.73" cy="79.58" r="5.7"/><circle cx="1172.9" cy="77.32" r="5.7"/><circle cx="1174.07" cy="78.87" r="5.7"/><circle cx="1175.24" cy="77.45" r="5.7"/><circle cx="1176.41" cy="78.36" r="5.7"/><circle cx="1177.58" cy="75.94" r="5.7"/><circle cx="1178.75" cy="76" r="5.7"/><circle cx="1179.92" cy="76.05" r="5.7"/><circle cx="1181.09" cy="76.38" r="5.7"/><circle cx="1182.26" cy="76.16" r="5.7"/><circle cx="1183.43" cy="76.31" r="5.7"/><circle cx="1184.6" cy="75.47" r="5.7"/><circle cx="1185.77" cy="75.41" r="5.7"/><circle cx="1186.94" cy="75.03" r="5.7"/><circle cx="1188.12" cy="75.69" r="5.7"/><circle cx="1189.29" cy="73.28" r="5.7"/><circle cx="1190.46" cy="74.64" r="5.7"/><circle cx="1191.63" cy="73.39" r="5.7"/><circle cx="1192.8" cy="73.27" r="5.7"/><circle cx="1193.97" cy="75.19" r="5.7"/><circle cx="1195.14" cy="75.77" r="5.7"/><circle cx="1196.31" cy="72.78" r="5.7"/><circle cx="1197.48" cy="74.16" r="5.7"/><circle cx="1198.65" cy="73.53" r="5.7"/><circle cx="1199.82" cy="73.67" r="5.7"/><circle cx="1200.99" cy="73.11" r="5.7"/><circle cx="1202.16" cy="74.18" r="5.7"/><circle cx="1203.33" cy="72.96" r="5.7"/><circle cx="1204.5" cy="73.12" r="5.7"/><circle cx="1205.67" cy="72.51" r="5.7"/><circle cx="1206.84" cy="74.53" r="5.7"/><circle cx="1208.02" cy="71.34" r="5.7"/><circle cx="1209.19" cy="71.62" r="5.7"/><circle cx="1210.36" cy="73.4" r="5.7"/><circle cx="1211.53" cy="72.26" r="5.7"/><circle cx="1212.7" cy="71.35" r="5.7"/><circle cx="1213.87" cy="70.5" r="5.7"/><circle cx="1215.04" cy="70.82" r="5.7"/><circle cx="1216.21" cy="69.22" r="5.7"/><circle cx="1217.38" cy="70.24" r="5.7"/><circle cx="1218.55" cy="70.94" r="5.7"/><circle cx="1219.72" cy="70.35" r="5.7"/><circle cx="1220.89" cy="68.72" r="5.7"/><circle cx="1222.06" cy="69.73" r="5.7"/><circle cx="1223.23" cy="68.07" r="5.7"/><circle cx="1224.4" cy="67.62" r="5.7"/><circle cx="1225.57" cy="67.75" r="5.7"/><circle cx="1226.75" cy="67.06" r="5.7"/><circle cx="1227.92" cy="67.92" r="5.7"/><circle cx="1229.09" cy="67.48" r="5.7"/><circle cx="1230.26" cy="67.76" r="5.7"/><circle cx="1231.43" cy="67.5" r="5.7"/><circle cx="1232.6" cy="68.13" r="5.7"/><circle cx="1233.77" cy="66.89" r="5.7"/><circle cx="1234.94" cy="67.1" r="5.7"/><circle cx="1236.11" cy="67.17" r="5.7"/><circle cx="1237.28" cy="65.38" r="5.7"/><circle cx="1238.45" cy="64.81" r="5.7"/><circle cx="1239.62" cy="65.29" r="5.7"/><circle cx="1240.79" cy="63.45" r="5.7"/><circle cx="1241.96" cy="63.69" r="5.7"/><circle cx="1243.13" cy="63.42" r="5.7"/><circle cx="1244.3" cy="64.81" r="5.7"/><circle cx="1245.47" cy="65.49" r="5.7"/><circle cx="1246.65" cy="63.36" r="5.7"/><circle cx="1247.82" cy="63.42" r="5.7"/><circle cx="1248.99" cy="62.85" r="5.7"/><circle cx="1250.16" cy="62.97" r="5.7"/><circle cx="1251.33" cy="62" r="5.7"/><circle cx="1252.5" cy="63.3" r="5.7"/><circle cx="1253.67" cy="62.21" r="5.7"/><circle cx="1254.84" cy="63.53" r="5.7"/><circle cx="1256.01" cy="64.71" r="5.7"/><circle cx="1257.18" cy="62.76" r="5.7"/><circle cx="1258.35" cy="60.73" r="5.7"/><circle cx="1259.52" cy="63.58" r="5.7"/><circle cx="1260.69" cy="60.83" r="5.7"/><circle cx="1261.86" cy="62.22" r="5.7"/><circle cx="1263.03" cy="61.73" r="5.7"/><circle cx="1264.2" cy="61.07" r="5.7"/><circle cx="1265.37" cy="60.68" r="5.7"/><circle cx="1266.55" cy="61.59" r="5.7"/><circle cx="1267.72" cy="60.31" r="5.7"/><circle cx="1268.89" cy="59.78" r="5.7"/><circle cx="1270.06" cy="59.17" r="5.7"/><circle cx="1271.23" cy="60.46" r="5.7"/><circle cx="1272.4" cy="58.03" r="5.7"/><circle cx="1273.57" cy="57.47" r="5.7"/><circle cx="1274.74" cy="56.75" r="5.7"/><circle cx="1275.91" cy="60.28" r="5.7"/><circle cx="1277.08" cy="58.87" r="5.7"/><circle cx="1278.25" cy="60.84" r="5.7"/><circle cx="1279.42" cy="58.73" r="5.7"/><circle cx="1280.59" cy="58.6" r="5.7"/><circle cx="1281.76" cy="60.25" r="5.7"/><circle cx="1282.93" cy="60.7" r="5.7"/><circle cx="1284.1" cy="59.04" r="5.7"/><circle cx="1285.28" cy="58.65" r="5.7"/><circle cx="1286.45" cy="60.04" r="5.7"/><circle cx="1287.62" cy="59.56" r="5.7"/><circle cx="1288.79" cy="61.75" r="5.7"/><circle cx="1289.96" cy="60.05" r="5.7"/><circle cx="1291.13" cy="59.27" r="5.7"/><circle cx="1292.3" cy="59.29" r="5.7"/><circle cx="1293.47" cy="57.96" r="5.7"/><circle cx="1294.64" cy="60.59" r="5.7"/><circle cx="1295.81" cy="61.56" r="5.7"/><circle cx="1296.98" cy="58.9" r="5.7"/><circle cx="1298.15" cy="59.81" r="5.7"/><circle cx="1299.32" cy="58.89" r="5.7"/><circle cx="1300.49" cy="58.39" r="5.7"/><circle cx="1301.66" cy="58.42" r="5.7"/><circle cx="1302.83" cy="57.53" r="5.7"/><circle cx="1304" cy="57.54" r="5.7"/><circle cx="1305.18" cy="60.33" r="5.7"/><circle cx="1306.35" cy="58.72" r="5.7"/><circle cx="1307.52" cy="56.66" r="5.7"/><circle cx="1308.69" cy="58.88" r="5.7"/><circle cx="1309.86" cy="57.48" r="5.7"/><circle cx="1311.03" cy="58.37" r="5.7"/><circle cx="1312.2" cy="58.64" r="5.7"/><circle cx="1313.37" cy="56.64" r="5.7"/><circle cx="1314.54" cy="57.07" r="5.7"/><circle cx="1315.71" cy="58.38" r="5.7"/><circle cx="1316.88" cy="57.52" r="5.7"/><circle cx="1318.05" cy="59.88" r="5.7"/><circle cx="1319.22" cy="59.57" r="5.7"/><circle cx="1320.39" cy="58.26" r="5.7"/><circle cx="1274.64" cy="51.87" r="5.7"/><circle cx="1276.11" cy="53.17" r="5.7"/>
</g>
<rect x="843" y="409.2" width="9.8" height="9.8" fill="#E41A1C"/>
<circle cx="847.7" cy="452.3" r="5.6" fill="#377EB8"/>
<text transform="translate(876.8,422.8) scale(1,1.055)" font-size="27" >EA (0.6 V<tspan dy="7" font-size="17.5">RHE</tspan><tspan dy="-7">)</tspan></text>
<text transform="translate(884.2,461.4) scale(1,1.055)" font-size="27" textLength="83" lengthAdjust="spacingAndGlyphs">w/o EA</text>
<rect x="915.7" y="178.5" width="30.4" height="103.1" fill="none" stroke="#000" stroke-width="2.1"/>
<line x1="946.1" y1="177.8" x2="1130" y2="117.8" stroke="#000" stroke-width="1.4" stroke-dasharray="6 4.5"/>
<line x1="946.1" y1="280.5" x2="1129" y2="280.5" stroke="#000" stroke-width="1.4" stroke-dasharray="6 4.5"/>
<rect x="1130" y="117.7" width="199" height="162.5" fill="#fff" stroke="#000" stroke-width="1.8"/>
<line x1="1126.2" y1="117.7" x2="1130" y2="117.7" stroke="#000" stroke-width="1.6" />
<text transform="translate(1123,125.5) scale(1,1.055)" font-size="27" text-anchor="end" >1.85</text>
<line x1="1128.2" y1="146.8" x2="1130" y2="146.8" stroke="#000" stroke-width="1.6" />
<line x1="1126.2" y1="175.9" x2="1130" y2="175.9" stroke="#000" stroke-width="1.6" />
<text transform="translate(1123,183.7) scale(1,1.055)" font-size="27" text-anchor="end" >1.80</text>
<line x1="1128.2" y1="205" x2="1130" y2="205" stroke="#000" stroke-width="1.6" />
<line x1="1126.2" y1="234.1" x2="1130" y2="234.1" stroke="#000" stroke-width="1.6" />
<text transform="translate(1123,241.9) scale(1,1.055)" font-size="27" text-anchor="end" >1.75</text>
<line x1="1128.2" y1="263.2" x2="1130" y2="263.2" stroke="#000" stroke-width="1.6" />
<line x1="1130" y1="280.2" x2="1130" y2="282.7" stroke="#000" stroke-width="1.6" />
<line x1="1169.8" y1="280.2" x2="1169.8" y2="284.7" stroke="#000" stroke-width="1.6" />
<text transform="translate(1169.8,307.3) scale(1,1.055)" font-size="27" text-anchor="middle" >10</text>
<line x1="1209.6" y1="280.2" x2="1209.6" y2="282.7" stroke="#000" stroke-width="1.6" />
<line x1="1249.4" y1="280.2" x2="1249.4" y2="284.7" stroke="#000" stroke-width="1.6" />
<text transform="translate(1249.4,307.3) scale(1,1.055)" font-size="27" text-anchor="middle" >11</text>
<line x1="1289.2" y1="280.2" x2="1289.2" y2="282.7" stroke="#000" stroke-width="1.6" />
<line x1="1329" y1="280.2" x2="1329" y2="284.7" stroke="#000" stroke-width="1.6" />
<text transform="translate(1329,307.3) scale(1,1.055)" font-size="27" text-anchor="middle" >12</text>
<g fill="#E41A1C">
<rect x="1136.8" y="208.9" width="7.2" height="7.2"/><rect x="1149.7" y="185.4" width="7.2" height="7.2"/><rect x="1163.2" y="166.7" width="7.2" height="7.2"/><rect x="1176.6" y="151.2" width="7.2" height="7.2"/><rect x="1189.9" y="138.2" width="7.2" height="7.2"/><rect x="1203.2" y="125.9" width="7.2" height="7.2"/><rect x="1220.4" y="234" width="7.2" height="7.2"/><rect x="1233.8" y="213.9" width="7.2" height="7.2"/><rect x="1247.1" y="196" width="7.2" height="7.2"/><rect x="1260.4" y="180.6" width="7.2" height="7.2"/><rect x="1273.7" y="168.3" width="7.2" height="7.2"/><rect x="1287" y="155.9" width="7.2" height="7.2"/><rect x="1304.1" y="247.5" width="7.2" height="7.2"/><rect x="1317.8" y="226.1" width="7.2" height="7.2"/>
</g>
<line x1="1147.8" y1="213.7" x2="1207.11" y2="147.27" stroke="#000" stroke-width="1.7" />
<polygon points="1212.7,141 1207.84,152.75 1201.58,147.15" fill="#000"/>
<line x1="1213" y1="155.1" x2="1216.95" y2="228.51" stroke="#000" stroke-width="1.7" />
<polygon points="1217.4,236.9 1212.56,225.14 1220.95,224.69" fill="#000"/>
<line x1="1230.5" y1="240.7" x2="1295.21" y2="174.79" stroke="#000" stroke-width="1.7" />
<polygon points="1301.1,168.8 1295.69,180.3 1289.7,174.42" fill="#000"/>
<line x1="1299.5" y1="180.8" x2="1305.28" y2="233.25" stroke="#000" stroke-width="1.7" />
<polygon points="1306.2,241.6 1300.71,230.13 1309.06,229.21" fill="#000"/>
<text transform="translate(1094.9,568) scale(1,1.055)" font-size="32" text-anchor="middle" >Time (h)</text>
<text transform="translate(757.6,259) rotate(-90) scale(1,1.055)" text-anchor="middle" font-size="32">Potential (V vs. RHE)</text>
<line x1="1511.5" y1="45.6" x2="2050.7" y2="45.6" stroke="#000" stroke-width="2.3" />
<line x1="2049.6" y1="45.6" x2="2049.6" y2="478.6" stroke="#000" stroke-width="2.3" />
<line x1="1511.5" y1="478.6" x2="2050.7" y2="478.6" stroke="#000" stroke-width="2.3" />
<line x1="1512.6" y1="45.6" x2="1512.6" y2="478.6" stroke="#000" stroke-width="2.3" />
<rect x="1534.3" y="63.11" width="45.6" height="90.89" fill="#EC6060" stroke="#000" stroke-width="1.6"/>
<rect x="1623.8" y="126.3" width="45.6" height="27.7" fill="#EC6060" stroke="#000" stroke-width="1.6"/>
<rect x="1713.4" y="139.18" width="45.6" height="14.82" fill="#EC6060" stroke="#000" stroke-width="1.6"/>
<rect x="1803" y="154" width="45.6" height="86.67" fill="#EC6060" stroke="#000" stroke-width="1.6"/>
<rect x="1892.5" y="154" width="45.6" height="291.27" fill="#EC6060" stroke="#000" stroke-width="1.6"/>
<rect x="1982.1" y="154" width="45.6" height="297.01" fill="#EC6060" stroke="#000" stroke-width="1.6"/>
<line x1="1512.6" y1="154" x2="2049.6" y2="154" stroke="#000" stroke-width="2.4" />
<line x1="1557.1" y1="59.3" x2="1557.1" y2="66.2" stroke="#000" stroke-width="1.9" />
<line x1="1551.9" y1="59.3" x2="1562.3" y2="59.3" stroke="#000" stroke-width="2.2" stroke-linecap="round"/>
<line x1="1551.9" y1="66.2" x2="1562.3" y2="66.2" stroke="#000" stroke-width="2.2" stroke-linecap="round"/>
<line x1="1557.1" y1="478.6" x2="1557.1" y2="487.1" stroke="#000" stroke-width="2.3" />
<line x1="1646.6" y1="120.8" x2="1646.6" y2="132.2" stroke="#000" stroke-width="1.9" />
<line x1="1641.4" y1="120.8" x2="1651.8" y2="120.8" stroke="#000" stroke-width="2.2" stroke-linecap="round"/>
<line x1="1641.4" y1="132.2" x2="1651.8" y2="132.2" stroke="#000" stroke-width="2.2" stroke-linecap="round"/>
<line x1="1646.6" y1="478.6" x2="1646.6" y2="487.1" stroke="#000" stroke-width="2.3" />
<line x1="1736.2" y1="135.5" x2="1736.2" y2="143.4" stroke="#000" stroke-width="1.9" />
<line x1="1731" y1="135.5" x2="1741.4" y2="135.5" stroke="#000" stroke-width="2.2" stroke-linecap="round"/>
<line x1="1731" y1="143.4" x2="1741.4" y2="143.4" stroke="#000" stroke-width="2.2" stroke-linecap="round"/>
<line x1="1736.2" y1="478.6" x2="1736.2" y2="487.1" stroke="#000" stroke-width="2.3" />
<line x1="1825.8" y1="210.4" x2="1825.8" y2="270.8" stroke="#000" stroke-width="1.9" />
<line x1="1820.6" y1="210.4" x2="1831" y2="210.4" stroke="#000" stroke-width="2.2" stroke-linecap="round"/>
<line x1="1820.6" y1="270.8" x2="1831" y2="270.8" stroke="#000" stroke-width="2.2" stroke-linecap="round"/>
<line x1="1825.8" y1="478.6" x2="1825.8" y2="487.1" stroke="#000" stroke-width="2.3" />
<line x1="1915.3" y1="438.1" x2="1915.3" y2="452.6" stroke="#000" stroke-width="1.9" />
<line x1="1910.1" y1="438.1" x2="1920.5" y2="438.1" stroke="#000" stroke-width="2.2" stroke-linecap="round"/>
<line x1="1910.1" y1="452.6" x2="1920.5" y2="452.6" stroke="#000" stroke-width="2.2" stroke-linecap="round"/>
<line x1="1915.3" y1="478.6" x2="1915.3" y2="487.1" stroke="#000" stroke-width="2.3" />
<line x1="2004.9" y1="442.2" x2="2004.9" y2="459.3" stroke="#000" stroke-width="1.9" />
<line x1="1999.7" y1="442.2" x2="2010.1" y2="442.2" stroke="#000" stroke-width="2.2" stroke-linecap="round"/>
<line x1="1999.7" y1="459.3" x2="2010.1" y2="459.3" stroke="#000" stroke-width="2.2" stroke-linecap="round"/>
<line x1="2004.9" y1="478.6" x2="2004.9" y2="487.1" stroke="#000" stroke-width="2.3" />
<line x1="1504.1" y1="478.6" x2="1512.6" y2="478.6" stroke="#000" stroke-width="2.3" />
<text transform="translate(1496.8,487.6) scale(1,1.055)" font-size="31.7" text-anchor="end" >−300</text>
<line x1="1508.1" y1="424.5" x2="1512.6" y2="424.5" stroke="#000" stroke-width="2.3" />
<line x1="1504.1" y1="370.4" x2="1512.6" y2="370.4" stroke="#000" stroke-width="2.3" />
<text transform="translate(1496.8,379.4) scale(1,1.055)" font-size="31.7" text-anchor="end" >−200</text>
<line x1="1508.1" y1="316.3" x2="1512.6" y2="316.3" stroke="#000" stroke-width="2.3" />
<line x1="1504.1" y1="262.2" x2="1512.6" y2="262.2" stroke="#000" stroke-width="2.3" />
<text transform="translate(1496.8,271.2) scale(1,1.055)" font-size="31.7" text-anchor="end" >−100</text>
<line x1="1508.1" y1="208.1" x2="1512.6" y2="208.1" stroke="#000" stroke-width="2.3" />
<line x1="1504.1" y1="154" x2="1512.6" y2="154" stroke="#000" stroke-width="2.3" />
<text transform="translate(1496.8,163) scale(1,1.055)" font-size="31.7" text-anchor="end" >0</text>
<line x1="1508.1" y1="99.9" x2="1512.6" y2="99.9" stroke="#000" stroke-width="2.3" />
<line x1="1504.1" y1="45.8" x2="1512.6" y2="45.8" stroke="#000" stroke-width="2.3" />
<text transform="translate(1496.8,54.8) scale(1,1.055)" font-size="31.7" text-anchor="end" >100</text>
<text transform="translate(1564.4,515.2) scale(1,1.055)" font-size="31.7" text-anchor="middle" >Non</text>
<text transform="translate(1649.8,515.2) scale(1,1.055)" font-size="31.7" text-anchor="middle" >1.5</text>
<text transform="translate(1736.4,515.2) scale(1,1.055)" font-size="31.7" text-anchor="middle" >1.2</text>
<text transform="translate(1825.8,515.2) scale(1,1.055)" font-size="31.7" text-anchor="middle" >1.1</text>
<text transform="translate(1917.8,515.2) scale(1,1.055)" font-size="31.7" text-anchor="middle" >0.9</text>
<text transform="translate(2009.1,515.2) scale(1,1.055)" font-size="31.7" text-anchor="middle" >0.6</text>
<text transform="translate(1630.3,571.8) scale(1,1.055)" font-size="32.5" >EA potential (V vs. RHE)</text>
<text transform="translate(1407.7,262.3) rotate(-90) scale(1,1.055)" text-anchor="middle" font-size="32">η<tspan dy="8" font-size="21">50h</tspan><tspan dy="-8">−η</tspan><tspan dy="8" font-size="21">0h</tspan><tspan dy="-8"> (mV)</tspan></text>
<defs><clipPath id="clipd"><rect x="111.0" y="629.5" width="537.8" height="431.5"/></clipPath></defs>
<polyline points="138.8,844.6 149.42,844.56 164.28,844.52 181.79,844.46 200.39,844.39 218.48,844.31 234.5,844.2 249.28,844.07 264.25,843.9 278.72,843.73 292,843.54 303.39,843.36 312.2,843.2 317.77,843.07 320.52,842.96 321.39,842.85 321.3,842.73 321.19,842.59 322,842.4 323.57,842.2 325.13,842 326.67,841.77 328.18,841.48 329.66,841.1 331.1,840.6 332.49,839.96 333.83,839.19 335.14,838.34 336.43,837.42 337.71,836.46 339,835.5 340.3,834.5 341.6,833.43 342.89,832.33 344.17,831.22 345.44,830.14 346.7,829.1 347.95,828.09 349.19,827.07 350.41,826.08 351.63,825.14 352.82,824.27 354,823.5 355.17,822.81 356.33,822.18 357.47,821.62 358.59,821.16 359.67,820.81 360.7,820.6 361.66,820.52 362.54,820.57 363.39,820.72 364.23,820.99 365.09,821.35 366,821.8 366.94,822.38 367.87,823.12 368.83,823.95 369.83,824.83 370.88,825.69 372,826.5 373.1,827.24 374.14,827.95 375.24,828.66 376.51,829.37 378.06,830.11 380,830.9 382.43,831.78 385.28,832.74 388.41,833.73 391.69,834.69 394.96,835.57 398.1,836.3 401.13,836.88 404.16,837.34 407.19,837.72 410.22,838.04 413.25,838.33 416.27,838.62 419.29,838.92 422.32,839.19 425.34,839.43 428.34,839.64 431.31,839.81 434.24,839.94 437.14,840.02 440.03,840.06 442.89,840.06 445.69,840.03 448.43,839.97 451.07,839.89 453.64,839.79 456.13,839.66 458.55,839.5 460.9,839.31 463.17,839.1 465.37,838.88 467.47,838.63 469.48,838.38 471.41,838.1 473.29,837.8 475.14,837.45 476.98,837.04 478.78,836.6 480.53,836.13 482.26,835.61 483.96,835.04 485.67,834.41 487.39,833.71 489.13,832.94 490.87,832.11 492.61,831.21 494.35,830.26 496.08,829.25 497.81,828.19 499.54,827.07 501.27,825.88 503,824.64 504.72,823.36 506.4,822.04 508.05,820.7 509.66,819.33 511.25,817.93 512.81,816.49 514.33,815.02 515.82,813.54 517.26,812.04 518.66,810.52 520.01,808.99 521.33,807.43 522.61,805.85 523.88,804.25 525.12,802.62 526.35,800.99 527.54,799.34 528.71,797.67 529.87,795.96 531.03,794.21 532.2,792.41 533.38,790.58 534.54,788.73 535.71,786.83 536.89,784.86 538.09,782.8 539.31,780.62 540.57,778.34 541.84,775.96 543.13,773.49 544.44,770.92 545.77,768.24 547.12,765.45 548.49,762.52 549.89,759.46 551.31,756.3 552.74,753.05 554.16,749.76 555.57,746.46 556.98,743.11 558.39,739.7 559.79,736.24 561.19,732.76 562.57,729.27 563.94,725.81 565.3,722.35 566.64,718.9 567.97,715.44 569.28,711.98 570.59,708.52 571.89,705.06 573.19,701.6 574.49,698.11 575.77,694.63 577.04,691.18 578.29,687.76 579.51,684.39 580.7,681.06 581.89,677.74 583.05,674.46 584.18,671.24 585.27,668.13 586.29,665.14 587.27,662.28 588.19,659.53 589.07,656.87 589.91,654.3 590.71,651.83 591.47,649.45 592.22,647.06 592.96,644.63 593.66,642.29 594.29,640.18 594.81,638.4 595.2,637.1 594.86,639.08 594.41,641.81 593.86,645.05 593.26,648.54 592.64,652.03 592.03,655.26 591.43,658.27 590.8,661.27 590.16,664.27 589.49,667.27 588.79,670.28 588.06,673.3 587.29,676.34 586.49,679.39 585.66,682.46 584.81,685.53 583.93,688.6 583.04,691.66 582.14,694.74 581.21,697.82 580.26,700.91 579.29,703.99 578.31,707.05 577.31,710.08 576.3,713.08 575.27,716.07 574.22,719.04 573.16,721.98 572.09,724.89 571,727.76 569.89,730.59 568.76,733.4 567.61,736.18 566.46,738.92 565.32,741.59 564.21,744.21 563.12,746.76 562.02,749.25 560.94,751.69 559.88,754.07 558.85,756.4 557.86,758.67 556.92,760.87 556.02,763.01 555.15,765.08 554.31,767.12 553.48,769.11 552.65,771.09 551.84,773.03 551.06,774.94 550.3,776.82 549.53,778.66 548.76,780.47 547.96,782.26 547.15,784.01 546.34,785.73 545.51,787.42 544.67,789.08 543.81,790.73 542.92,792.37 542,793.99 541.07,795.57 540.12,797.14 539.14,798.71 538.12,800.29 537.08,801.88 535.99,803.5 534.89,805.13 533.75,806.77 532.57,808.42 531.36,810.06 530.11,811.69 528.81,813.33 527.49,814.98 526.12,816.63 524.71,818.26 523.26,819.86 521.76,821.39 520.22,822.89 518.64,824.35 517.02,825.77 515.34,827.15 513.62,828.47 511.83,829.72 509.99,830.9 508.1,832.03 506.16,833.1 504.16,834.11 502.1,835.07 499.97,835.96 497.77,836.78 495.52,837.54 493.2,838.24 490.82,838.89 488.37,839.48 485.85,840.03 483.27,840.52 480.62,840.95 477.91,841.33 475.12,841.67 472.26,841.99 469.32,842.29 466.3,842.56 463.2,842.8 460.03,843.01 456.78,843.2 453.45,843.39 450.04,843.59 446.55,843.79 442.96,843.98 439.29,844.17 435.56,844.36 431.78,844.55 427.98,844.75 424.12,844.95 420.19,845.16 416.22,845.37 412.22,845.58 408.21,845.79 404.2,846 400.19,846.2 396.16,846.38 392.11,846.57 388.07,846.76 384.03,846.97 380,847.2 375.82,847.46 371.44,847.75 367.07,848.06 362.9,848.37 359.15,848.69 356,849 353.59,849.3 351.79,849.58 350.39,849.87 349.21,850.17 348.05,850.51 346.7,850.9 345.19,851.35 343.69,851.84 342.2,852.37 340.74,852.92 339.34,853.47 338,854 336.77,854.51 335.65,855.01 334.58,855.51 333.5,856.02 332.36,856.55 331.1,857.1 329.71,857.71 328.23,858.36 326.68,859.04 325.11,859.69 323.54,860.29 322,860.8 320.49,861.23 318.99,861.61 317.49,861.94 316,862.21 314.5,862.4 313,862.5 311.48,862.5 309.94,862.39 308.39,862.21 306.87,861.99 305.4,861.74 304,861.5 302.78,861.3 301.75,861.11 300.76,860.91 299.69,860.64 298.38,860.29 296.7,859.8 294.58,859.13 292.11,858.31 289.41,857.39 286.6,856.44 283.79,855.52 281.1,854.7 278.51,853.98 275.93,853.3 273.35,852.66 270.77,852.03 268.19,851.42 265.6,850.8 263,850.15 260.4,849.49 257.8,848.82 255.2,848.2 252.6,847.65 250,847.2 247.63,846.87 245.53,846.64 243.43,846.48 241.07,846.35 238.18,846.24 234.5,846.1 230.16,845.95 225.4,845.8 220.11,845.66 214.18,845.53 207.52,845.41 200,845.3 190.64,845.19 179.31,845.09 167.24,845 155.66,844.92 145.77,844.85 138.8,844.8" fill="none" stroke="#000" stroke-width="2.8" stroke-linejoin="round" stroke-linecap="round" clip-path="url(#clipd)"/>
<polyline points="111.2,846.3 113.72,846.34 116.6,846.4 120.31,846.47 125.32,846.53 132.1,846.55 141.1,846.5 153.31,846.38 168.56,846.21 185.57,845.99 203.08,845.76 219.81,845.52 234.5,845.3 247.65,845.09 260.37,844.87 272.33,844.65 283.15,844.43 292.49,844.21 300,844 305.19,843.81 308.25,843.63 309.83,843.46 310.58,843.28 311.15,843.06 312.2,842.8 313.55,842.49 314.63,842.14 315.54,841.76 316.36,841.35 317.15,840.93 318,840.5 318.9,840.09 319.8,839.71 320.67,839.32 321.51,838.86 322.33,838.3 323.1,837.6 323.82,836.74 324.49,835.76 325.12,834.68 325.74,833.51 326.36,832.28 327,831 327.65,829.67 328.3,828.29 328.95,826.84 329.6,825.31 330.25,823.7 330.9,822 331.55,820.15 332.2,818.14 332.85,816.05 333.5,813.95 334.15,811.91 334.8,810 335.45,808.21 336.1,806.47 336.76,804.8 337.41,803.19 338.06,801.66 338.7,800.2 339.33,798.82 339.96,797.5 340.58,796.26 341.21,795.09 341.84,794 342.5,793 343.18,792.09 343.89,791.28 344.6,790.55 345.31,789.89 346.02,789.27 346.7,788.7 347.35,788.17 347.97,787.69 348.58,787.26 349.2,786.89 349.83,786.57 350.5,786.3 351.18,786.08 351.86,785.91 352.55,785.79 353.29,785.73 354.1,785.73 355,785.8 356.02,785.95 357.16,786.2 358.36,786.51 359.59,786.84 360.82,787.19 362,787.5 363.16,787.84 364.34,788.24 365.51,788.64 366.66,788.99 367.76,789.23 368.8,789.3 369.73,789.22 370.56,789.04 371.34,788.74 372.13,788.33 373,787.78 374,787.1 375.17,786.12 376.47,784.83 377.85,783.41 379.24,782.04 380.57,780.91 381.8,780.2 382.9,779.93 383.93,779.97 384.91,780.24 385.86,780.69 386.82,781.26 387.8,781.9 388.82,782.64 389.84,783.54 390.88,784.56 391.9,785.66 392.91,786.82 393.9,788 394.86,789.22 395.8,790.51 396.73,791.86 397.65,793.23 398.57,794.62 399.5,796 400.44,797.38 401.39,798.8 402.33,800.22 403.27,801.64 404.2,803.04 405.1,804.4 405.9,805.73 406.58,807.05 407.24,808.34 408,809.61 408.95,810.87 410.2,812.1 411.81,813.32 413.71,814.54 415.81,815.74 418.01,816.91 420.2,818.02 422.3,819.06 424.32,820.05 426.33,820.99 428.35,821.88 430.37,822.7 432.38,823.47 434.4,824.16 436.42,824.77 438.44,825.31 440.46,825.78 442.48,826.2 444.49,826.55 446.5,826.86 448.5,827.11 450.51,827.3 452.51,827.44 454.5,827.53 456.47,827.57 458.43,827.58 460.35,827.54 462.27,827.46 464.16,827.34 466.04,827.18 467.9,826.98 469.74,826.75 471.55,826.48 473.33,826.18 475.09,825.84 476.85,825.46 478.59,825.04 480.33,824.57 482.07,824.06 483.8,823.51 485.52,822.92 487.23,822.29 488.95,821.59 490.67,820.84 492.41,820.04 494.14,819.18 495.87,818.28 497.61,817.31 499.34,816.28 501.07,815.17 502.81,814 504.55,812.76 506.28,811.45 508.02,810.09 509.75,808.66 511.47,807.17 513.19,805.62 514.91,803.98 516.63,802.29 518.33,800.56 520.01,798.8 521.67,797.03 523.3,795.24 524.93,793.42 526.53,791.56 528.1,789.7 529.65,787.85 531.15,786.02 532.61,784.22 534.03,782.43 535.42,780.65 536.78,778.86 538.13,777.07 539.47,775.27 540.8,773.46 542.09,771.66 543.37,769.84 544.65,768.01 545.95,766.14 547.29,764.23 548.66,762.27 550.05,760.26 551.46,758.23 552.89,756.16 554.35,754.09 555.84,752 557.37,749.89 558.94,747.75 560.54,745.59 562.14,743.43 563.75,741.3 565.34,739.2 566.92,737.14 568.5,735.09 570.08,733.07 571.65,731.07 573.2,729.1 574.71,727.17 576.29,725.15 577.95,723.03 579.59,720.93 581.1,719 582.37,717.38 583.3,716.2 582.89,717.28 582.33,718.77 581.67,720.54 580.93,722.46 580.14,724.42 579.34,726.28 578.52,728.07 577.65,729.89 576.73,731.75 575.77,733.63 574.77,735.53 573.75,737.42 572.68,739.34 571.55,741.29 570.38,743.25 569.21,745.21 568.04,747.15 566.91,749.06 565.8,750.94 564.69,752.8 563.6,754.65 562.52,756.48 561.47,758.29 560.44,760.07 559.45,761.83 558.5,763.56 557.57,765.27 556.65,766.97 555.7,768.66 554.73,770.35 553.74,772.04 552.74,773.73 551.72,775.41 550.68,777.09 549.6,778.77 548.48,780.46 547.31,782.15 546.09,783.84 544.83,785.54 543.55,787.23 542.25,788.9 540.94,790.56 539.61,792.19 538.26,793.82 536.9,795.43 535.52,797.02 534.12,798.6 532.73,800.14 531.32,801.67 529.92,803.16 528.5,804.64 527.07,806.1 525.61,807.54 524.12,808.96 522.61,810.38 521.07,811.77 519.52,813.16 517.93,814.52 516.33,815.86 514.71,817.17 513.07,818.47 511.41,819.75 509.72,821 508.02,822.23 506.3,823.43 504.57,824.6 502.83,825.73 501.09,826.84 499.33,827.91 497.54,828.96 495.71,829.98 493.84,830.99 491.93,831.99 489.99,832.95 488.02,833.9 486,834.83 483.9,835.75 481.73,836.64 479.48,837.53 477.17,838.4 474.8,839.26 472.35,840.09 469.8,840.91 467.15,841.69 464.4,842.45 461.56,843.19 458.63,843.9 455.6,844.6 452.48,845.28 449.25,845.94 445.91,846.59 442.45,847.22 438.9,847.83 435.27,848.43 431.57,849.02 427.83,849.62 424.03,850.22 420.14,850.8 416.19,851.37 412.2,851.96 408.2,852.56 404.2,853.2 400.13,853.89 395.94,854.64 391.74,855.4 387.61,856.15 383.67,856.86 380,857.5 376.6,858.01 373.39,858.42 370.35,858.78 367.48,859.17 364.77,859.65 362.2,860.3 359.79,861.14 357.56,862.12 355.49,863.2 353.55,864.32 351.73,865.44 350,866.5 348.41,867.53 346.96,868.56 345.64,869.59 344.39,870.6 343.19,871.58 342,872.5 340.86,873.39 339.8,874.26 338.79,875.09 337.78,875.87 336.73,876.58 335.6,877.2 334.38,877.74 333.1,878.23 331.79,878.64 330.45,878.97 329.12,879.23 327.8,879.4 326.5,879.45 325.2,879.37 323.9,879.22 322.6,879.03 321.3,878.84 320,878.7 318.7,878.59 317.41,878.47 316.13,878.35 314.83,878.26 313.52,878.2 312.2,878.2 310.85,878.27 309.46,878.41 308.07,878.59 306.68,878.78 305.32,878.96 304,879.1 302.74,879.23 301.52,879.37 300.33,879.51 299.14,879.6 297.94,879.64 296.7,879.6 295.42,879.46 294.1,879.23 292.77,878.94 291.45,878.63 290.15,878.3 288.9,878 287.68,877.7 286.48,877.37 285.31,877.03 284.16,876.71 283.06,876.43 282,876.2 281.01,876.01 280.08,875.84 279.19,875.71 278.32,875.63 277.43,875.62 276.5,875.7 275.52,875.89 274.5,876.16 273.46,876.51 272.44,876.91 271.44,877.35 270.5,877.8 269.64,878.25 268.84,878.7 268.07,879.19 267.3,879.74 266.48,880.37 265.6,881.1 264.62,881.99 263.57,883.03 262.48,884.14 261.38,885.27 260.31,886.35 259.3,887.3 258.34,888.15 257.41,888.96 256.51,889.71 255.63,890.39 254.8,890.99 254,891.5 253.26,891.94 252.59,892.32 251.95,892.62 251.32,892.81 250.68,892.88 250,892.8 249.28,892.56 248.55,892.17 247.8,891.66 247.04,891.03 246.27,890.31 245.5,889.5 244.72,888.56 243.92,887.47 243.11,886.28 242.3,885.05 241.5,883.84 240.7,882.7 239.91,881.63 239.13,880.59 238.34,879.57 237.56,878.55 236.78,877.53 236,876.5 235.22,875.45 234.44,874.39 233.66,873.32 232.87,872.26 232.09,871.22 231.3,870.2 230.5,869.2 229.7,868.21 228.89,867.23 228.08,866.28 227.28,865.37 226.5,864.5 225.74,863.68 225.01,862.89 224.29,862.14 223.56,861.42 222.8,860.74 222,860.1 221.14,859.5 220.24,858.94 219.31,858.42 218.36,857.93 217.42,857.46 216.5,857 215.63,856.57 214.79,856.17 213.96,855.8 213.1,855.44 212.16,855.07 211.1,854.7 209.9,854.31 208.57,853.91 207.18,853.51 205.75,853.11 204.34,852.74 203,852.4 201.77,852.09 200.64,851.81 199.52,851.55 198.35,851.3 197.07,851.05 195.6,850.8 193.91,850.54 192.05,850.27 190.07,850 188.04,849.74 185.99,849.51 184,849.3 182.27,849.13 180.8,848.98 179.32,848.86 177.57,848.74 175.29,848.63 172.2,848.5 168.12,848.36 163.2,848.22 157.76,848.08 152.06,847.94 146.41,847.82 141.1,847.7 135.75,847.59 130.06,847.49 124.41,847.4 119.19,847.32 114.79,847.25 111.6,847.2" fill="none" stroke="#377EB8" stroke-width="2.8" stroke-linejoin="round" stroke-linecap="round" clip-path="url(#clipd)"/>
<polyline points="138.8,847.7 149.56,847.28 164.73,846.69 182.56,846 201.29,845.27 219.19,844.58 234.5,844 247.78,843.51 260.54,843.05 272.47,842.62 283.23,842.24 292.52,841.9 300,841.6 305.13,841.38 308.06,841.24 309.5,841.14 310.19,841.04 310.85,840.91 312.2,840.7 314.16,840.42 316.14,840.09 318.09,839.73 319.97,839.34 321.72,838.93 323.3,838.5 324.68,838.07 325.89,837.63 326.98,837.16 328,836.66 328.99,836.11 330,835.5 331.03,834.84 332.04,834.14 333.03,833.39 333.98,832.58 334.91,831.69 335.8,830.7 336.65,829.62 337.45,828.47 338.23,827.24 338.98,825.92 339.74,824.51 340.5,823 341.28,821.45 342.06,819.87 342.84,818.21 343.61,816.38 344.36,814.33 345.1,812 345.82,809.32 346.53,806.33 347.23,803.12 347.9,799.78 348.56,796.38 349.2,793 349.82,789.5 350.42,785.77 351.01,781.99 351.57,778.32 352.1,774.93 352.6,772 353.06,769.73 353.47,768.04 353.85,766.64 354.22,765.22 354.6,763.51 355,761.2 355.42,758.13 355.85,754.48 356.29,750.54 356.73,746.56 357.16,742.83 357.6,739.6 358.02,736.88 358.44,734.47 358.85,732.29 359.27,730.29 359.72,728.41 360.2,726.6 360.71,724.86 361.24,723.25 361.79,721.76 362.36,720.39 362.97,719.14 363.6,718 364.27,716.93 364.96,715.93 365.69,715.04 366.44,714.33 367.21,713.83 368,713.6 368.83,713.69 369.71,714.06 370.61,714.64 371.5,715.39 372.38,716.23 373.2,717.1 373.96,717.99 374.67,718.96 375.35,720.01 376.03,721.19 376.74,722.51 377.5,724 378.33,725.72 379.2,727.65 380.1,729.72 381,731.87 381.88,734.02 382.7,736.1 383.47,738.11 384.2,740.1 384.91,742.09 385.6,744.1 386.29,746.13 387,748.2 387.72,750.29 388.43,752.4 389.15,754.54 389.87,756.71 390.58,758.92 391.3,761.2 392.01,763.54 392.7,765.94 393.39,768.39 394.1,770.88 394.83,773.38 395.6,775.9 396.41,778.48 397.26,781.16 398.13,783.86 399.01,786.51 399.91,789.04 400.8,791.4 401.69,793.55 402.59,795.54 403.49,797.42 404.4,799.23 405.34,801.01 406.3,802.8 407.27,804.66 408.26,806.55 409.26,808.41 410.29,810.19 411.37,811.8 412.5,813.2 413.7,814.34 414.97,815.28 416.28,816.05 417.62,816.73 418.96,817.35 420.27,817.98 421.57,818.61 422.87,819.21 424.17,819.75 425.47,820.23 426.8,820.65 428.14,820.99 429.49,821.26 430.86,821.47 432.24,821.6 433.64,821.67 435.06,821.67 436.53,821.59 438.03,821.45 439.56,821.24 441.12,820.95 442.71,820.59 444.3,820.15 445.91,819.63 447.55,819.03 449.21,818.35 450.89,817.59 452.57,816.75 454.23,815.82 455.86,814.8 457.46,813.7 459.05,812.54 460.62,811.28 462.17,809.93 463.68,808.46 465.15,806.87 466.57,805.19 467.95,803.43 469.3,801.57 470.62,799.55 471.92,797.35 473.21,794.91 474.49,792.28 475.74,789.49 476.97,786.52 478.2,783.31 479.43,779.84 480.66,776.06 481.91,771.96 483.17,767.58 484.43,762.94 485.69,758.03 486.93,752.89 488.14,747.51 489.35,741.86 490.56,735.93 491.76,729.75 492.93,723.37 494.05,716.83 495.13,710.16 496.16,703.34 497.14,696.32 498.08,689.14 498.99,681.82 499.86,674.4 500.7,666.91 501.54,658.76 502.39,649.81 503.2,640.75 503.93,632.3 504.55,625.15 505,620 508.85,625.22 508.22,632.48 507.48,641.07 506.68,650.22 505.85,659.22 505.05,667.32 504.27,674.67 503.48,681.87 502.66,688.92 501.83,695.78 500.97,702.44 500.1,708.88 499.2,715.08 498.28,721.07 497.34,726.86 496.38,732.45 495.42,737.87 494.45,743.12 493.48,748.2 492.49,753.09 491.5,757.8 490.5,762.34 489.49,766.72 488.47,770.96 487.44,775.03 486.42,778.92 485.38,782.66 484.33,786.25 483.26,789.72 482.16,793.06 481.03,796.28 479.89,799.34 478.73,802.28 477.54,805.1 476.33,807.82 475.07,810.46 473.78,813 472.47,815.44 471.13,817.78 469.75,820.02 468.32,822.17 466.84,824.24 465.32,826.22 463.77,828.1 462.17,829.9 460.5,831.6 458.74,833.22 456.88,834.75 454.91,836.19 452.88,837.54 450.75,838.79 448.52,839.97 446.15,841.07 443.64,842.1 440.97,843.05 438.15,843.9 435.21,844.68 432.15,845.4 428.99,846.07 425.74,846.71 422.39,847.3 418.93,847.83 415.36,848.31 411.71,848.76 407.99,849.18 404.2,849.6 400.25,849.98 396.09,850.29 391.87,850.59 387.69,850.9 383.69,851.26 380,851.7 376.6,852.26 373.39,852.9 370.35,853.59 367.48,854.3 364.77,854.98 362.2,855.6 359.79,856.13 357.56,856.6 355.49,857.04 353.55,857.49 351.73,858 350,858.6 348.41,859.29 346.96,860.05 345.64,860.86 344.39,861.71 343.19,862.6 342,863.5 340.82,864.45 339.68,865.46 338.59,866.49 337.54,867.53 336.54,868.55 335.6,869.5 334.73,870.38 333.94,871.21 333.2,872.01 332.48,872.81 331.76,873.63 331,874.5 330.2,875.4 329.39,876.3 328.57,877.23 327.76,878.2 326.97,879.21 326.2,880.3 325.46,881.44 324.73,882.63 324.02,883.88 323.33,885.18 322.65,886.55 322,888 321.38,889.55 320.8,891.19 320.24,892.91 319.68,894.66 319.1,896.44 318.5,898.2 317.86,899.96 317.2,901.75 316.52,903.55 315.84,905.36 315.16,907.18 314.5,909 313.87,910.81 313.25,912.61 312.64,914.42 312.03,916.25 311.38,918.11 310.7,920 309.97,921.95 309.2,923.95 308.41,925.98 307.6,928.01 306.79,930.03 306,932 305.2,933.99 304.38,936.04 303.56,938.08 302.76,940.01 302,941.78 301.3,943.3 300.67,944.55 300.11,945.58 299.59,946.44 299.08,947.19 298.56,947.85 298,948.5 297.4,949.14 296.78,949.75 296.15,950.29 295.52,950.71 294.9,951 294.3,951.1 293.73,951.03 293.19,950.83 292.65,950.48 292.11,949.98 291.57,949.32 291,948.5 290.42,947.47 289.84,946.23 289.24,944.82 288.63,943.32 287.98,941.76 287.3,940.2 286.56,938.61 285.77,936.93 284.95,935.21 284.12,933.46 283.3,931.71 282.5,930 281.73,928.32 280.98,926.63 280.23,924.96 279.49,923.29 278.75,921.64 278,920 277.25,918.38 276.51,916.79 275.77,915.2 275.02,913.63 274.27,912.06 273.5,910.5 272.72,908.96 271.92,907.43 271.11,905.92 270.3,904.4 269.5,902.86 268.7,901.3 267.91,899.69 267.13,898.04 266.34,896.38 265.56,894.71 264.78,893.08 264,891.5 263.22,889.95 262.44,888.41 261.66,886.91 260.87,885.44 260.09,884.03 259.3,882.7 258.5,881.43 257.7,880.22 256.89,879.06 256.08,877.97 255.28,876.95 254.5,876 253.74,875.14 253.01,874.38 252.29,873.69 251.56,873.04 250.8,872.42 250,871.8 249.14,871.19 248.24,870.59 247.31,870.02 246.36,869.49 245.42,868.98 244.5,868.5 243.63,868.07 242.79,867.67 241.96,867.31 241.1,866.96 240.16,866.63 239.1,866.3 237.92,865.98 236.63,865.68 235.27,865.39 233.87,865.1 232.43,864.81 231,864.5 229.54,864.17 228.03,863.84 226.49,863.49 224.96,863.15 223.45,862.82 222,862.5 220.6,862.21 219.24,861.93 217.91,861.66 216.59,861.39 215.29,861.11 214,860.8 212.73,860.47 211.48,860.14 210.25,859.8 209.02,859.43 207.77,859.04 206.5,858.6 205.19,858.11 203.86,857.57 202.51,857 201.16,856.42 199.82,855.85 198.5,855.3 197.25,854.77 196.06,854.23 194.88,853.71 193.66,853.2 192.35,852.73 190.9,852.3 189.24,851.92 187.4,851.56 185.46,851.24 183.53,850.96 181.68,850.71 180,850.5 178.69,850.35 177.7,850.26 176.81,850.2 175.75,850.16 174.3,850.1 172.2,850 169.21,849.86 165.46,849.69 161.31,849.5 157.12,849.31 153.23,849.14 150,849 147.37,848.88 145.04,848.78 143.01,848.69 141.3,848.61 139.89,848.55 138.8,848.5" fill="none" stroke="#E41A1C" stroke-width="2.8" stroke-linejoin="round" stroke-linecap="round" clip-path="url(#clipd)"/>
<line x1="109.9" y1="628.5" x2="649.9" y2="628.5" stroke="#000" stroke-width="2.3" />
<line x1="648.8" y1="628.5" x2="648.8" y2="1061" stroke="#000" stroke-width="2.3" />
<line x1="109.9" y1="1061" x2="649.9" y2="1061" stroke="#000" stroke-width="2.3" />
<line x1="111" y1="628.5" x2="111" y2="1061" stroke="#000" stroke-width="2.3" />
<line x1="110.5" y1="1061" x2="110.5" y2="1069.5" stroke="#000" stroke-width="2.3" />
<text transform="translate(110.5,1099.9) scale(1,1.055)" font-size="31.7" text-anchor="middle" >1.0</text>
<line x1="187.4" y1="1061" x2="187.4" y2="1065.5" stroke="#000" stroke-width="2.3" />
<line x1="264.3" y1="1061" x2="264.3" y2="1069.5" stroke="#000" stroke-width="2.3" />
<text transform="translate(264.3,1099.9) scale(1,1.055)" font-size="31.7" text-anchor="middle" >1.2</text>
<line x1="341.2" y1="1061" x2="341.2" y2="1065.5" stroke="#000" stroke-width="2.3" />
<line x1="418.1" y1="1061" x2="418.1" y2="1069.5" stroke="#000" stroke-width="2.3" />
<text transform="translate(418.1,1099.9) scale(1,1.055)" font-size="31.7" text-anchor="middle" >1.4</text>
<line x1="495" y1="1061" x2="495" y2="1065.5" stroke="#000" stroke-width="2.3" />
<line x1="571.9" y1="1061" x2="571.9" y2="1069.5" stroke="#000" stroke-width="2.3" />
<text transform="translate(571.9,1099.9) scale(1,1.055)" font-size="31.7" text-anchor="middle" >1.6</text>
<line x1="648.8" y1="1061" x2="648.8" y2="1065.5" stroke="#000" stroke-width="2.3" />
<line x1="102.5" y1="1060.99" x2="111" y2="1060.99" stroke="#000" stroke-width="2.3" />
<text transform="translate(96.5,1069.99) scale(1,1.055)" font-size="31.7" text-anchor="end" >60</text>
<text x="47" y="1069.99" font-size="31.7" text-anchor="middle" font-weight="bold" >−</text>
<line x1="106.5" y1="1006.93" x2="111" y2="1006.93" stroke="#000" stroke-width="2.3" />
<line x1="102.5" y1="952.87" x2="111" y2="952.87" stroke="#000" stroke-width="2.3" />
<text transform="translate(96.5,961.87) scale(1,1.055)" font-size="31.7" text-anchor="end" >30</text>
<text x="47" y="961.87" font-size="31.7" text-anchor="middle" font-weight="bold" >−</text>
<line x1="106.5" y1="898.81" x2="111" y2="898.81" stroke="#000" stroke-width="2.3" />
<line x1="102.5" y1="844.75" x2="111" y2="844.75" stroke="#000" stroke-width="2.3" />
<text transform="translate(96.5,853.75) scale(1,1.055)" font-size="31.7" text-anchor="end" >0</text>
<line x1="106.5" y1="790.69" x2="111" y2="790.69" stroke="#000" stroke-width="2.3" />
<line x1="102.5" y1="736.63" x2="111" y2="736.63" stroke="#000" stroke-width="2.3" />
<text transform="translate(96.5,745.63) scale(1,1.055)" font-size="31.7" text-anchor="end" >30</text>
<line x1="106.5" y1="682.57" x2="111" y2="682.57" stroke="#000" stroke-width="2.3" />
<line x1="102.5" y1="628.51" x2="111" y2="628.51" stroke="#000" stroke-width="2.3" />
<text transform="translate(96.5,637.51) scale(1,1.055)" font-size="31.7" text-anchor="end" >60</text>
<line x1="117.5" y1="953.5" x2="189.5" y2="953.5" stroke="#000" stroke-width="2.2" stroke-linecap="round"/>
<line x1="117.5" y1="992.4" x2="189.5" y2="992.4" stroke="#377EB8" stroke-width="2.2" stroke-linecap="round"/>
<line x1="117.5" y1="1030.9" x2="189.5" y2="1030.9" stroke="#E41A1C" stroke-width="2.2" stroke-linecap="round"/>
<text transform="translate(197.5,964.5) scale(1,1.055)" font-size="31.5" >Initial</text>
<text transform="translate(196.5,1003.1) scale(1,1.055)" font-size="31.5" >50 h w/o EA</text>
<text transform="translate(196.5,1041.7) scale(1,1.055)" font-size="31.5" >50 h EA <tspan dx="2.6">(0.6 V</tspan><tspan dy="8" dx="1" font-size="21.5">RHE</tspan><tspan dy="-8" dx="1.5">)</tspan></text>
<text transform="translate(379.3,1150.9) scale(1,1.055)" font-size="32" text-anchor="middle" >Potential (V vs. RHE)</text>
<text transform="translate(25,823) rotate(-90) scale(1,1.055)" text-anchor="middle" font-size="32">Current density (mA cm<tspan dy="-12" font-size="21">-2</tspan><tspan dy="12">)</tspan></text>
<line x1="824.5" y1="627.6" x2="1363.9" y2="627.6" stroke="#000" stroke-width="2.3" />
<line x1="1362.8" y1="627.6" x2="1362.8" y2="1060" stroke="#000" stroke-width="2.3" />
<line x1="824.5" y1="1060" x2="1363.9" y2="1060" stroke="#000" stroke-width="2.3" />
<line x1="825.6" y1="627.6" x2="825.6" y2="1060" stroke="#000" stroke-width="2.3" />
<line x1="825.6" y1="1060" x2="825.6" y2="1064.5" stroke="#000" stroke-width="2.3" />
<line x1="915.2" y1="1060" x2="915.2" y2="1068.5" stroke="#000" stroke-width="2.3" />
<text transform="translate(915.2,1099.4) scale(1,1.055)" font-size="31.7" text-anchor="middle" >400</text>
<line x1="1004.8" y1="1060" x2="1004.8" y2="1064.5" stroke="#000" stroke-width="2.3" />
<line x1="1094.4" y1="1060" x2="1094.4" y2="1068.5" stroke="#000" stroke-width="2.3" />
<text transform="translate(1094.4,1099.4) scale(1,1.055)" font-size="31.7" text-anchor="middle" >600</text>
<line x1="1184" y1="1060" x2="1184" y2="1064.5" stroke="#000" stroke-width="2.3" />
<line x1="1273.6" y1="1060" x2="1273.6" y2="1068.5" stroke="#000" stroke-width="2.3" />
<text transform="translate(1273.6,1099.4) scale(1,1.055)" font-size="31.7" text-anchor="middle" >800</text>
<line x1="1363.2" y1="1060" x2="1363.2" y2="1064.5" stroke="#000" stroke-width="2.3" />
<line x1="986.35" y1="999.8" x2="986.35" y2="659.3" stroke="#000" stroke-width="2.4" stroke-dasharray="9.3 9.1"/>
<line x1="1054.9" y1="999.8" x2="1054.9" y2="659.3" stroke="#000" stroke-width="2.4" stroke-dasharray="9.3 9.1"/>
<polyline points="826.1,1003.88 826.9,1004.98 827.7,1005.48 828.5,1004.37 829.3,1003.75 830.1,1004.67 830.9,1005.39 831.7,1005.59 832.5,1004 833.3,1003.92 834.1,1005.37 834.9,1005.71 835.7,1006.39 836.5,1006.01 837.3,1005.12 838.1,1005.3 838.9,1006.94 839.7,1005.23 840.5,1004.39 841.3,1004.27 842.1,1005.16 842.9,1005.34 843.7,1005.05 844.5,1005.26 845.3,1005.65 846.1,1006.1 846.9,1006.35 847.7,1005.47 848.5,1004.28 849.3,1005.49 850.1,1004.54 850.9,1004.95 851.7,1004.45 852.5,1005.24 853.3,1005.09 854.1,1006.21 854.9,1008.14 855.7,1006.34 856.5,1006.16 857.3,1004.91 858.1,1005.52 858.9,1006.3 859.7,1006 860.5,1006.21 861.3,1005.95 862.1,1005.37 862.9,1006.17 863.7,1005.86 864.5,1007.27 865.3,1006.15 866.1,1006.57 866.9,1006.43 867.7,1006.79 868.5,1006.06 869.3,1006.82 870.1,1006.47 870.9,1007.21 871.7,1006.88 872.5,1006.27 873.3,1005.74 874.1,1006.66 874.9,1006.84 875.7,1007.3 876.5,1006.11 877.3,1006.42 878.1,1006.45 878.9,1006.21 879.7,1006.06 880.5,1005.85 881.3,1002.64 882.1,1004.75 882.9,1005.22 883.7,1006.12 884.5,1006.8 885.3,1006.5 886.1,1006.36 886.9,1006.09 887.7,1005.84 888.5,1005.48 889.3,1005.93 890.1,1006.37 890.9,1004.87 891.7,1004.63 892.5,1006.2 893.3,1005.42 894.1,1005.61 894.9,1005.28 895.7,1004.3 896.5,1006.44 897.3,1006.22 898.1,1004.97 898.9,1004.99 899.7,1004.4 900.5,1003.62 901.3,1004.05 902.1,1004.58 902.9,1005.08 903.7,1004.73 904.5,1004.33 905.3,1004.78 906.1,1003.6 906.9,1004.39 907.7,1004.58 908.5,1003.29 909.3,1002.04 910.1,1002.56 910.9,1003.51 911.7,1003.99 912.5,1004.31 913.3,1002.68 914.1,1003.04 914.9,1003.47 915.7,1002.55 916.5,1001.22 917.3,1003.37 918.1,1004.69 918.9,1003.58 919.7,1001.96 920.5,1002.05 921.3,1002.87 922.1,1004.26 922.9,1003.08 923.7,1002.56 924.5,1003.2 925.3,1002.45 926.1,1003.14 926.9,1001.52 927.7,1001.39 928.5,1002.33 929.3,1002.84 930.1,1002.25 930.9,1001.46 931.7,999.94 932.5,1000.36 933.3,1000.54 934.1,1000.71 934.9,1001.31 935.7,1000.9 936.5,1001.38 937.3,1000.88 938.1,1000.43 938.9,1000.63 939.7,1000.88 940.5,1000.91 941.3,999.89 942.1,999.53 942.9,999.03 943.7,1000.83 944.5,1000.72 945.3,999.22 946.1,998.37 946.9,997.72 947.7,998.35 948.5,998.6 949.3,999.45 950.1,997.86 950.9,996.23 951.7,992.12 952.5,997.16 953.3,996.24 954.1,994.64 954.9,995.01 955.7,994.38 956.5,997.04 957.3,995.56 958.1,994.19 958.9,992.73 959.7,990.92 960.5,991.25 961.3,990.2 962.1,990.44 962.9,988.26 963.7,988.35 964.5,989.45 965.3,988.95 966.1,986.16 966.9,985.1 967.7,986.06 968.5,985.37 969.3,983.3 970.1,982.47 970.9,981.69 971.7,980.67 972.5,980.55 973.3,981.25 974.1,980.65 974.9,980.53 975.7,978.47 976.5,977.28 977.3,976.12 978.1,975.77 978.9,974.32 979.7,973.54 980.5,974.77 981.3,974.99 982.1,974.12 982.9,973.62 983.7,972.17 984.5,970.86 985.3,970.73 986.1,969.97 986.9,968.94 987.7,968.27 988.5,968.61 989.3,969.94 990.1,970.41 990.9,970.67 991.7,972.34 992.5,972.41 993.3,973.25 994.1,974.13 994.9,973.23 995.7,973.19 996.5,975.49 997.3,975.89 998.1,977.69 998.9,978.12 999.7,979.14 1000.5,979.35 1001.3,978.42 1002.1,980.59 1002.9,980.78 1003.7,981.34 1004.5,982.52 1005.3,984.23 1006.1,985.23 1006.9,985.58 1007.7,984.42 1008.5,985.09 1009.3,984.85 1010.1,986.86 1010.9,987.98 1011.7,987.67 1012.5,988.6 1013.3,989.25 1014.1,989.91 1014.9,989.05 1015.7,989.1 1016.5,989.85 1017.3,991.85 1018.1,991.77 1018.9,990.96 1019.7,991.08 1020.5,991.06 1021.3,990.98 1022.1,990.55 1022.9,990.1 1023.7,989.31 1024.5,989.77 1025.3,991.16 1026.1,990.41 1026.9,989.63 1027.7,989.18 1028.5,989.17 1029.3,989.05 1030.1,988.26 1030.9,988.49 1031.7,988.25 1032.5,987.26 1033.3,986.76 1034.1,986.29 1034.9,986.19 1035.7,986.75 1036.5,984.62 1037.3,985.17 1038.1,984.8 1038.9,984.38 1039.7,984.57 1040.5,984.77 1041.3,983.61 1042.1,982.69 1042.9,981.85 1043.7,981.78 1044.5,981.9 1045.3,980.49 1046.1,979.21 1046.9,978.52 1047.7,978.06 1048.5,977.75 1049.3,978.92 1050.1,978.19 1050.9,977.46 1051.7,977.86 1052.5,976.38 1053.3,976.7 1054.1,976.25 1054.9,974.31 1055.7,973.97 1056.5,974.89 1057.3,976.89 1058.1,977.71 1058.9,976.89 1059.7,978.53 1060.5,978.45 1061.3,978.82 1062.1,979.37 1062.9,979.92 1063.7,979.62 1064.5,980.58 1065.3,981.43 1066.1,983.54 1066.9,985.72 1067.7,986.59 1068.5,984.84 1069.3,984.17 1070.1,985.44 1070.9,986.3 1071.7,988.7 1072.5,988.45 1073.3,988.07 1074.1,989.54 1074.9,989.68 1075.7,988.69 1076.5,989.67 1077.3,990.54 1078.1,991.2 1078.9,991.61 1079.7,991.7 1080.5,992.19 1081.3,991.91 1082.1,992.18 1082.9,993.93 1083.7,993.67 1084.5,993.41 1085.3,992.32 1086.1,993.37 1086.9,994.15 1087.7,993.28 1088.5,994.58 1089.3,994.08 1090.1,994.41 1090.9,994.27 1091.7,994.68 1092.5,995.3 1093.3,994.7 1094.1,995.66 1094.9,994.37 1095.7,994.3 1096.5,995.35 1097.3,994.57 1098.1,995.16 1098.9,996.41 1099.7,996.53 1100.5,994.9 1101.3,996.49 1102.1,997.91 1102.9,997.57 1103.7,996.51 1104.5,996.24 1105.3,996.44 1106.1,996.18 1106.9,996.88 1107.7,997.26 1108.5,997.7 1109.3,998.64 1110.1,997.81 1110.9,997.28 1111.7,998.8 1112.5,997.94 1113.3,998.32 1114.1,998.83 1114.9,998.83 1115.7,998.65 1116.5,999.69 1117.3,1001.36 1118.1,999.97 1118.9,1000.27 1119.7,998.41 1120.5,1001.51 1121.3,1001.67 1122.1,1001.48 1122.9,999.77 1123.7,1000.47 1124.5,1001.63 1125.3,1002.38 1126.1,1003.1 1126.9,1002.72 1127.7,1002.32 1128.5,1002.58 1129.3,1002.72 1130.1,1003.29 1130.9,1003.71 1131.7,1003.15 1132.5,1002.82 1133.3,1003.21 1134.1,1004.83 1134.9,1005.39 1135.7,1005.34 1136.5,1005.33 1137.3,1005.3 1138.1,1004.91 1138.9,1005.12 1139.7,1004.2 1140.5,1004.57 1141.3,1004.64 1142.1,1005.49 1142.9,999.91 1143.7,1005.2 1144.5,1005.86 1145.3,1006.36 1146.1,1004.97 1146.9,1004.85 1147.7,1005.86 1148.5,1004.99 1149.3,1005.67 1150.1,1005.23 1150.9,1005.12 1151.7,1004.31 1152.5,1005.69 1153.3,1005.11 1154.1,1005.08 1154.9,1006.97 1155.7,1006.86 1156.5,1008.2 1157.3,1006.23 1158.1,1005.25 1158.9,1005.68 1159.7,1006.59 1160.5,1005.69 1161.3,1005.79 1162.1,1005.68 1162.9,1004.8 1163.7,1005.23 1164.5,1004.8 1165.3,1004.49 1166.1,1005.89 1166.9,1005.97 1167.7,1005.35 1168.5,1004.36 1169.3,1003.78 1170.1,1005.34 1170.9,1005.05 1171.7,1004.05 1172.5,1004.76 1173.3,1004.18 1174.1,1005.07 1174.9,1005.46 1175.7,1005.62 1176.5,1005.55 1177.3,1005.28 1178.1,1004.43 1178.9,1004.76 1179.7,1004.83 1180.5,1005.09 1181.3,1005.56 1182.1,1006.06 1182.9,1006.19 1183.7,1003.73 1184.5,1005.16 1185.3,1005.58 1186.1,1007.09 1186.9,1006.08 1187.7,1004.3 1188.5,1005.25 1189.3,1005.14 1190.1,1005.78 1190.9,1004.66 1191.7,1005.04 1192.5,1005.17 1193.3,1005.12 1194.1,1004.57 1194.9,1003.93 1195.7,1005.51 1196.5,1006.1 1197.3,1005.25 1198.1,1004.57 1198.9,1005.38 1199.7,1005.72 1200.5,1005.26 1201.3,1005.48 1202.1,1006.16 1202.9,1004.61 1203.7,1004.41 1204.5,1003.7 1205.3,1004.37 1206.1,1004.49 1206.9,1004.37 1207.7,1004.92 1208.5,1006.48 1209.3,1005.42 1210.1,1005.53 1210.9,1006.89 1211.7,1005.33 1212.5,1004.08 1213.3,1005.18 1214.1,1004.93 1214.9,1006.16 1215.7,1004.55 1216.5,1004.42 1217.3,1004.04 1218.1,1004.96 1218.9,1004.56 1219.7,1005.03 1220.5,1004.92 1221.3,1004.94 1222.1,1006.04 1222.9,1006.15 1223.7,1005.35 1224.5,1004.48 1225.3,1004.41 1226.1,1005.71 1226.9,1007.03 1227.7,1005.22 1228.5,1004.54 1229.3,1004.49 1230.1,1004.23 1230.9,1004.38 1231.7,1005.22 1232.5,1006.32 1233.3,1005.44 1234.1,1004.67 1234.9,1004.07 1235.7,1005.2 1236.5,1005.12 1237.3,1004.22 1238.1,1004.3 1238.9,1005.26 1239.7,1006.14 1240.5,1005.95 1241.3,1005.5 1242.1,1005.15 1242.9,1005.48 1243.7,1005.68 1244.5,1006.72 1245.3,1004.75 1246.1,1005.05 1246.9,1006.13 1247.7,1005.53 1248.5,1006.3 1249.3,1005.52 1250.1,1005.34 1250.9,1004.83 1251.7,1004.07 1252.5,1004.72 1253.3,1006.88 1254.1,1006.22 1254.9,1006 1255.7,1006.19 1256.5,1006.03 1257.3,1006.1 1258.1,1005.23 1258.9,1005.25 1259.7,1005.93 1260.5,1004.99 1261.3,1004.23 1262.1,1004.84 1262.9,1004.96 1263.7,1005.55 1264.5,1004.7 1265.3,1004.35 1266.1,1005.13 1266.9,1006.38 1267.7,1005.53 1268.5,1005.41 1269.3,1005.38 1270.1,1005.66 1270.9,1006.25 1271.7,1006.21 1272.5,1004.53 1273.3,1006.04 1274.1,1005.46 1274.9,1005.44 1275.7,1006.99 1276.5,1005.86 1277.3,1006.86 1278.1,1006.16 1278.9,1004.77 1279.7,1005.61 1280.5,1005.9 1281.3,1004.96 1282.1,1003.51 1282.9,1004.65 1283.7,1004.93 1284.5,1004.74 1285.3,1006.43 1286.1,1005.35 1286.9,1004.93 1287.7,1004.89 1288.5,1004.55 1289.3,1004.62 1290.1,1005.3 1290.9,1005.47 1291.7,1004.96 1292.5,1004.93 1293.3,1004.35 1294.1,1005.35 1294.9,1004.87 1295.7,1005.2 1296.5,1004.59 1297.3,1004.81 1298.1,1005.19 1298.9,1004.83 1299.7,1006.92 1300.5,1005.65 1301.3,1005.13 1302.1,1005 1302.9,1006.57 1303.7,1006.62 1304.5,1005.52 1305.3,1004.26 1306.1,1004.81 1306.9,1005.59 1307.7,1004.83 1308.5,1004.16 1309.3,1004.12 1310.1,1004.55 1310.9,1005.09 1311.7,1004.83 1312.5,1005.65 1313.3,1007.63 1314.1,1006.88 1314.9,1004.87 1315.7,1005.4 1316.5,1005.4 1317.3,1005.38 1318.1,1005.99 1318.9,1005.17 1319.7,1004.95 1320.5,1004.96 1321.3,1005.37 1322.1,1006.35 1322.9,1005.86 1323.7,1004.37 1324.5,1004.64 1325.3,1004.77 1326.1,1005.81 1326.9,1005.73 1327.7,1005.98 1328.5,1005.09 1329.3,1003.96 1330.1,1005.37 1330.9,1005.62 1331.7,1005.5 1332.5,1004.44 1333.3,1005.05 1334.1,1004.7 1334.9,1004.74 1335.7,1005.51 1336.5,1005.47 1337.3,1004.43 1338.1,1003.51 1338.9,1003.12 1339.7,1004.66 1340.5,1006.03 1341.3,1005.08 1342.1,1003.5 1342.9,1004.38 1343.7,1005.74 1344.5,1006.78 1345.3,1006.48 1346.1,1005.78 1346.9,1005.34 1347.7,1004.48 1348.5,1004.75 1349.3,1004.86 1350.1,1004.69 1350.9,1005.16 1351.7,1005.07 1352.5,1005.71 1353.3,1006.52 1354.1,1006.14 1354.9,1005.69 1355.7,1004.95 1356.5,1004.13 1357.3,1005.06 1358.1,1005.52 1358.9,1004.84 1359.7,1006.01 1360.5,1005.31 1361.3,1005.47 1362.1,1005.12" fill="none" stroke="#000" stroke-width="2.9" stroke-linejoin="round" stroke-linecap="round" />
<polyline points="826.1,949.27 826.9,950.11 827.7,949.99 828.5,949.99 829.3,950.8 830.1,950.36 830.9,950.3 831.7,951.31 832.5,949.98 833.3,949.13 834.1,949.07 834.9,949.79 835.7,950.73 836.5,951.07 837.3,951.39 838.1,951.89 838.9,951.76 839.7,951.14 840.5,951.35 841.3,950.83 842.1,950.13 842.9,950.78 843.7,950.43 844.5,950.46 845.3,951.72 846.1,951.04 846.9,950.08 847.7,950.52 848.5,951.82 849.3,950.57 850.1,950.84 850.9,950.88 851.7,950.8 852.5,950.67 853.3,949.96 854.1,949.85 854.9,950.02 855.7,950.09 856.5,950.94 857.3,949.24 858.1,949.91 858.9,950.29 859.7,949.5 860.5,949.53 861.3,949.91 862.1,950.12 862.9,949.48 863.7,948.5 864.5,950.63 865.3,950.02 866.1,949.71 866.9,950.35 867.7,949.54 868.5,949.06 869.3,947.21 870.1,950.24 870.9,949.61 871.7,950.47 872.5,950.16 873.3,949.48 874.1,950.97 874.9,950.17 875.7,949.22 876.5,950.02 877.3,950.13 878.1,950.3 878.9,949.18 879.7,950.42 880.5,950.64 881.3,950.42 882.1,950.41 882.9,950.76 883.7,950.35 884.5,949.7 885.3,949.21 886.1,950.34 886.9,950.41 887.7,949.87 888.5,949.73 889.3,949.59 890.1,947.86 890.9,948.86 891.7,947.73 892.5,949.26 893.3,950.29 894.1,950.6 894.9,949.21 895.7,949.37 896.5,948.82 897.3,947.68 898.1,949.21 898.9,949.11 899.7,948.87 900.5,948.29 901.3,948.72 902.1,949.06 902.9,949.7 903.7,949.62 904.5,951.01 905.3,948.82 906.1,948.32 906.9,948.31 907.7,948.11 908.5,949.37 909.3,948.78 910.1,947.48 910.9,948.2 911.7,948.65 912.5,947.2 913.3,947.74 914.1,947.98 914.9,949.27 915.7,948.11 916.5,947.13 917.3,947.13 918.1,948.28 918.9,947.29 919.7,948.09 920.5,945.92 921.3,946.1 922.1,946.01 922.9,945.57 923.7,945.76 924.5,946.03 925.3,944.92 926.1,944.38 926.9,945.93 927.7,945.86 928.5,944.33 929.3,944.02 930.1,942.5 930.9,943.92 931.7,942.71 932.5,943.03 933.3,944.22 934.1,942.21 934.9,942.13 935.7,941.15 936.5,940.22 937.3,940.41 938.1,940.85 938.9,939.69 939.7,939.73 940.5,940.18 941.3,939.21 942.1,938.32 942.9,939.46 943.7,938.73 944.5,938.65 945.3,937.17 946.1,937.8 946.9,935.64 947.7,934.64 948.5,934.96 949.3,934.7 950.1,934.37 950.9,933.35 951.7,933.34 952.5,932.82 953.3,930.54 954.1,928.92 954.9,928.62 955.7,928.54 956.5,927.51 957.3,925.59 958.1,924.05 958.9,923.63 959.7,923 960.5,921.05 961.3,920.66 962.1,918.78 962.9,916.95 963.7,914.94 964.5,914.18 965.3,911.53 966.1,908.77 966.9,908.05 967.7,905.89 968.5,904.66 969.3,902.2 970.1,899.66 970.9,897.97 971.7,895.55 972.5,893.27 973.3,891.77 974.1,890.14 974.9,887.52 975.7,885.04 976.5,882.74 977.3,881.33 978.1,879.37 978.9,877.71 979.7,875.69 980.5,874.3 981.3,870.28 982.1,868.81 982.9,867.71 983.7,866.22 984.5,863.81 985.3,863.7 986.1,864.92 986.9,866.22 987.7,866.5 988.5,865.5 989.3,866.89 990.1,868.15 990.9,867.92 991.7,867.78 992.5,868.69 993.3,869.96 994.1,872.97 994.9,874.15 995.7,875.66 996.5,877.29 997.3,879.31 998.1,880.54 998.9,882.15 999.7,884.35 1000.5,886.03 1001.3,887.96 1002.1,889.49 1002.9,891.42 1003.7,892.2 1004.5,893.6 1005.3,894.8 1006.1,895.68 1006.9,897.86 1007.7,898.03 1008.5,898.66 1009.3,901.45 1010.1,902.38 1010.9,902.75 1011.7,904.62 1012.5,905.8 1013.3,906.31 1014.1,906.13 1014.9,907.48 1015.7,907.81 1016.5,908.79 1017.3,909.64 1018.1,910.35 1018.9,911.59 1019.7,911.55 1020.5,912.55 1021.3,912.53 1022.1,912.18 1022.9,912.76 1023.7,913.33 1024.5,913.51 1025.3,912.86 1026.1,913.72 1026.9,913.17 1027.7,912.89 1028.5,911.06 1029.3,910.95 1030.1,912.02 1030.9,911.16 1031.7,911.17 1032.5,911 1033.3,909.21 1034.1,909.9 1034.9,910.57 1035.7,909.44 1036.5,908.34 1037.3,907.87 1038.1,906.95 1038.9,906.58 1039.7,905.8 1040.5,903.84 1041.3,902.94 1042.1,901.79 1042.9,900.92 1043.7,899.6 1044.5,897.45 1045.3,897.42 1046.1,896 1046.9,893.48 1047.7,892.23 1048.5,890.35 1049.3,889.67 1050.1,888.69 1050.9,886.53 1051.7,885.18 1052.5,883.74 1053.3,882.45 1054.1,881.24 1054.9,880.52 1055.7,881.21 1056.5,881.02 1057.3,881.26 1058.1,882.84 1058.9,883 1059.7,884.12 1060.5,883.92 1061.3,885.81 1062.1,885.68 1062.9,886.23 1063.7,887.98 1064.5,888.51 1065.3,890.33 1066.1,893 1066.9,894.75 1067.7,897.08 1068.5,898.84 1069.3,900.68 1070.1,902.53 1070.9,904.59 1071.7,906.07 1072.5,908.3 1073.3,909.45 1074.1,908.95 1074.9,910.52 1075.7,913.81 1076.5,914.33 1077.3,915.72 1078.1,916.99 1078.9,918.75 1079.7,920.82 1080.5,920.25 1081.3,921.17 1082.1,921.79 1082.9,921.7 1083.7,922.32 1084.5,923.29 1085.3,924.08 1086.1,924.5 1086.9,923.5 1087.7,924.32 1088.5,926.66 1089.3,926.4 1090.1,926.98 1090.9,926.59 1091.7,926.97 1092.5,928.69 1093.3,927.28 1094.1,927.65 1094.9,929.1 1095.7,929.11 1096.5,928.65 1097.3,930.18 1098.1,931 1098.9,930.21 1099.7,931.21 1100.5,932.88 1101.3,933.66 1102.1,931.65 1102.9,932.66 1103.7,933.66 1104.5,933.54 1105.3,933.87 1106.1,934.68 1106.9,935.58 1107.7,935.34 1108.5,936.77 1109.3,937.4 1110.1,937.87 1110.9,938.4 1111.7,937.54 1112.5,938.05 1113.3,939.19 1114.1,939.8 1114.9,939.74 1115.7,939.08 1116.5,939.05 1117.3,938.93 1118.1,939.64 1118.9,939.81 1119.7,940.32 1120.5,940.9 1121.3,942 1122.1,942.32 1122.9,941.82 1123.7,941.38 1124.5,942.29 1125.3,943.09 1126.1,943.61 1126.9,943.59 1127.7,943.95 1128.5,943.5 1129.3,944.43 1130.1,944.77 1130.9,944.24 1131.7,944.34 1132.5,945.52 1133.3,944.79 1134.1,945.68 1134.9,945.48 1135.7,945.51 1136.5,945.73 1137.3,945.85 1138.1,946.52 1138.9,947.9 1139.7,947.86 1140.5,946.98 1141.3,947.35 1142.1,947.66 1142.9,947.27 1143.7,948.44 1144.5,947.74 1145.3,947.75 1146.1,946.86 1146.9,946.64 1147.7,946.84 1148.5,947.43 1149.3,948.5 1150.1,948.11 1150.9,948.63 1151.7,947.96 1152.5,947.69 1153.3,948.38 1154.1,948.09 1154.9,947.52 1155.7,948.74 1156.5,949.63 1157.3,948.82 1158.1,948.1 1158.9,948.27 1159.7,948.24 1160.5,948.79 1161.3,948.64 1162.1,949.19 1162.9,949.71 1163.7,950.22 1164.5,948.64 1165.3,948.26 1166.1,950.45 1166.9,950.11 1167.7,949.57 1168.5,949.87 1169.3,949.16 1170.1,949.53 1170.9,950.18 1171.7,949.76 1172.5,950 1173.3,950.25 1174.1,950.06 1174.9,949.9 1175.7,950.5 1176.5,951.16 1177.3,950.96 1178.1,949.77 1178.9,950.2 1179.7,948.74 1180.5,948.97 1181.3,950.28 1182.1,950.76 1182.9,950.9 1183.7,949.38 1184.5,950.58 1185.3,949.92 1186.1,949.88 1186.9,950.64 1187.7,951.08 1188.5,949.55 1189.3,948.87 1190.1,949.57 1190.9,950.24 1191.7,951.06 1192.5,950.6 1193.3,950.01 1194.1,949.78 1194.9,949.98 1195.7,950.56 1196.5,949.16 1197.3,949.39 1198.1,949.69 1198.9,950.84 1199.7,950.34 1200.5,949.86 1201.3,950.86 1202.1,951.72 1202.9,950.93 1203.7,949.39 1204.5,949.97 1205.3,950.59 1206.1,948.89 1206.9,948.96 1207.7,949.71 1208.5,950.24 1209.3,949.6 1210.1,950 1210.9,949.99 1211.7,950.03 1212.5,948.93 1213.3,948.03 1214.1,948.25 1214.9,949.9 1215.7,950.68 1216.5,950.16 1217.3,948.67 1218.1,948.47 1218.9,949.31 1219.7,948.96 1220.5,948.42 1221.3,949.08 1222.1,949.2 1222.9,949.68 1223.7,950.06 1224.5,949.99 1225.3,950 1226.1,950.12 1226.9,949.69 1227.7,949.38 1228.5,949.6 1229.3,950.42 1230.1,949.8 1230.9,950.43 1231.7,951.15 1232.5,950.76 1233.3,948.51 1234.1,949.59 1234.9,950.25 1235.7,949.37 1236.5,948.89 1237.3,948.47 1238.1,948.96 1238.9,949.24 1239.7,948.34 1240.5,949.19 1241.3,949.02 1242.1,949.31 1242.9,948.86 1243.7,949.48 1244.5,949.57 1245.3,949.01 1246.1,949.13 1246.9,950.16 1247.7,949.97 1248.5,949.16 1249.3,949.53 1250.1,948.73 1250.9,948.58 1251.7,947.41 1252.5,948.81 1253.3,949.8 1254.1,949.35 1254.9,949.72 1255.7,949.19 1256.5,949.57 1257.3,949.29 1258.1,949.11 1258.9,950.61 1259.7,949.02 1260.5,948.47 1261.3,949.43 1262.1,949.85 1262.9,949.74 1263.7,949.5 1264.5,949.88 1265.3,950.23 1266.1,949.8 1266.9,948.86 1267.7,950.39 1268.5,949.38 1269.3,948.19 1270.1,949.68 1270.9,949.5 1271.7,949.89 1272.5,950.72 1273.3,949.27 1274.1,948.8 1274.9,948.71 1275.7,949.5 1276.5,949.94 1277.3,949.8 1278.1,949.29 1278.9,948.07 1279.7,949.44 1280.5,950.1 1281.3,949.15 1282.1,948.84 1282.9,948.7 1283.7,949.2 1284.5,948.68 1285.3,950.43 1286.1,949.46 1286.9,948.8 1287.7,948.58 1288.5,949.72 1289.3,950.04 1290.1,949.19 1290.9,949.47 1291.7,949.75 1292.5,950.17 1293.3,950.11 1294.1,950.1 1294.9,949 1295.7,950.85 1296.5,949.27 1297.3,948.44 1298.1,948.66 1298.9,949.62 1299.7,950.3 1300.5,951.28 1301.3,950.43 1302.1,949 1302.9,948.98 1303.7,948.93 1304.5,948.89 1305.3,949.09 1306.1,949.11 1306.9,950.11 1307.7,949.85 1308.5,949.81 1309.3,949.19 1310.1,948.64 1310.9,949.44 1311.7,949.45 1312.5,950.81 1313.3,950.3 1314.1,948.6 1314.9,948.46 1315.7,948.83 1316.5,949.31 1317.3,950.07 1318.1,949.47 1318.9,949.59 1319.7,949.18 1320.5,949.35 1321.3,950.15 1322.1,949.82 1322.9,950.66 1323.7,949.66 1324.5,949.66 1325.3,949.77 1326.1,950.13 1326.9,950.63 1327.7,949.1 1328.5,948.77 1329.3,948.91 1330.1,950.48 1330.9,949.98 1331.7,949.78 1332.5,949.45 1333.3,948.29 1334.1,949.62 1334.9,949.59 1335.7,949.58 1336.5,949.44 1337.3,949.29 1338.1,949.2 1338.9,948.92 1339.7,949.2 1340.5,949.43 1341.3,948.15 1342.1,949.68 1342.9,949.73 1343.7,948.79 1344.5,949.57 1345.3,949.54 1346.1,949.28 1346.9,950.41 1347.7,949.67 1348.5,949.09 1349.3,948.76 1350.1,950.62 1350.9,949.83 1351.7,949.54 1352.5,949.52 1353.3,950.65 1354.1,949.75 1354.9,950.5 1355.7,950.39 1356.5,950.22 1357.3,950.05 1358.1,950.17 1358.9,949.11 1359.7,947.54 1360.5,947.4 1361.3,949.38 1362.1,948.11" fill="none" stroke="#377EB8" stroke-width="2.9" stroke-linejoin="round" stroke-linecap="round" />
<polyline points="826.1,844.28 826.9,844.74 827.7,843.72 828.5,843.2 829.3,844.04 830.1,844.35 830.9,844.26 831.7,844.2 832.5,843.84 833.3,843.51 834.1,843.41 834.9,843.59 835.7,843.66 836.5,844.17 837.3,843.94 838.1,843.21 838.9,843.81 839.7,843.74 840.5,844.19 841.3,844.35 842.1,843.69 842.9,842.73 843.7,843.35 844.5,842.85 845.3,843.81 846.1,843.1 846.9,843.25 847.7,843.83 848.5,842.52 849.3,842.84 850.1,842.52 850.9,842.6 851.7,842.63 852.5,843.15 853.3,842.86 854.1,843.05 854.9,842.97 855.7,842.18 856.5,843.18 857.3,842.54 858.1,841.79 858.9,842.21 859.7,842.99 860.5,842.99 861.3,842.25 862.1,842.42 862.9,842.6 863.7,842.82 864.5,842.42 865.3,842.59 866.1,841.81 866.9,841.8 867.7,842.42 868.5,842.47 869.3,842.14 870.1,842.29 870.9,842.18 871.7,842.41 872.5,842.54 873.3,842.27 874.1,842.19 874.9,841.61 875.7,841.2 876.5,840.59 877.3,841.62 878.1,841.74 878.9,841.67 879.7,840.72 880.5,841.09 881.3,841.05 882.1,840.71 882.9,841.86 883.7,842.01 884.5,841.04 885.3,841.7 886.1,842.16 886.9,841.13 887.7,841.9 888.5,842.41 889.3,842.27 890.1,840.81 890.9,840.74 891.7,841.45 892.5,841.78 893.3,840.76 894.1,840.7 894.9,840.78 895.7,841.59 896.5,841.12 897.3,841.46 898.1,841.63 898.9,841.77 899.7,841.43 900.5,841.37 901.3,841.64 902.1,841.19 902.9,840.36 903.7,840.63 904.5,841.27 905.3,840.98 906.1,840.7 906.9,841.21 907.7,842.33 908.5,841.09 909.3,840.97 910.1,840.9 910.9,840.67 911.7,841.21 912.5,841.11 913.3,840.64 914.1,839.99 914.9,840.93 915.7,840.82 916.5,840.04 917.3,838.94 918.1,839.71 918.9,839.44 919.7,839.66 920.5,839.49 921.3,839.37 922.1,839.97 922.9,839.68 923.7,839.71 924.5,838.66 925.3,838.71 926.1,839.13 926.9,838.38 927.7,837.42 928.5,836.88 929.3,836.63 930.1,836.5 930.9,836.37 931.7,835.74 932.5,835.46 933.3,834.98 934.1,834.28 934.9,834.21 935.7,833.46 936.5,832.42 937.3,831.77 938.1,831.16 938.9,830.14 939.7,829.27 940.5,829.14 941.3,828.47 942.1,828.16 942.9,827.16 943.7,826.77 944.5,826.22 945.3,825.37 946.1,824.88 946.9,823.87 947.7,823.29 948.5,823.01 949.3,821.94 950.1,820.51 950.9,819 951.7,818.34 952.5,817.14 953.3,814.01 954.1,813.32 954.9,811.61 955.7,810.21 956.5,808.36 957.3,805.83 958.1,804.79 958.9,802.02 959.7,799.87 960.5,797.86 961.3,794.97 962.1,791.98 962.9,788.32 963.7,784.61 964.5,781.35 965.3,777.59 966.1,774.95 966.9,771.19 967.7,767.68 968.5,762.72 969.3,758.21 970.1,754.26 970.9,750.9 971.7,746.46 972.5,742.43 973.3,737.2 974.1,732.76 974.9,729.11 975.7,724.74 976.5,720.84 977.3,716.56 978.1,711.65 978.9,705.94 979.7,701.22 980.5,698.02 981.3,693.37 982.1,689.83 982.9,686.74 983.7,684.23 984.5,682.44 985.3,681.21 986.1,680.53 986.9,680.27 987.7,682.53 988.5,683.23 989.3,683.88 990.1,685.99 990.9,688.14 991.7,690.08 992.5,693.72 993.3,698.09 994.1,701.37 994.9,704.88 995.7,708.83 996.5,712.34 997.3,716.33 998.1,720.81 998.9,723.67 999.7,726.88 1000.5,730.29 1001.3,732.99 1002.1,735.61 1002.9,739.66 1003.7,742.13 1004.5,745.56 1005.3,747.86 1006.1,750.11 1006.9,753.61 1007.7,755.49 1008.5,757.38 1009.3,759.6 1010.1,760.9 1010.9,763.59 1011.7,765.09 1012.5,766.78 1013.3,768.29 1014.1,770.43 1014.9,771.93 1015.7,773.63 1016.5,775.11 1017.3,775.7 1018.1,776.62 1018.9,777.62 1019.7,778.06 1020.5,778.98 1021.3,780.13 1022.1,779.99 1022.9,780 1023.7,781.08 1024.5,781.86 1025.3,782.31 1026.1,781.28 1026.9,780.83 1027.7,780.95 1028.5,780.56 1029.3,780.14 1030.1,779.29 1030.9,778.76 1031.7,777.82 1032.5,777.5 1033.3,776.37 1034.1,775.29 1034.9,773.63 1035.7,772.03 1036.5,771.34 1037.3,770.24 1038.1,769.34 1038.9,767.8 1039.7,765.74 1040.5,763.92 1041.3,761.91 1042.1,760.53 1042.9,758.82 1043.7,756.46 1044.5,754.04 1045.3,752.26 1046.1,748.79 1046.9,746.51 1047.7,743.21 1048.5,739.61 1049.3,734.93 1050.1,731.29 1050.9,726.72 1051.7,723.18 1052.5,719.44 1053.3,716.58 1054.1,714.36 1054.9,713.15 1055.7,711.65 1056.5,710.18 1057.3,710.32 1058.1,711.41 1058.9,713.41 1059.7,716.08 1060.5,720.2 1061.3,724.96 1062.1,729.34 1062.9,734.04 1063.7,737.33 1064.5,740.88 1065.3,744.7 1066.1,748.63 1066.9,751.54 1067.7,755.12 1068.5,757.87 1069.3,760.54 1070.1,763.37 1070.9,767.01 1071.7,770.03 1072.5,773.48 1073.3,775.65 1074.1,777.04 1074.9,779.89 1075.7,781.42 1076.5,781.66 1077.3,783.91 1078.1,786.07 1078.9,786.88 1079.7,788.57 1080.5,790.49 1081.3,791.74 1082.1,793.04 1082.9,794.2 1083.7,795.03 1084.5,797.37 1085.3,798.12 1086.1,799.55 1086.9,799.76 1087.7,800.93 1088.5,801.88 1089.3,802.67 1090.1,803.8 1090.9,804.81 1091.7,805.93 1092.5,806.63 1093.3,807.39 1094.1,808.52 1094.9,809.73 1095.7,810.09 1096.5,810.99 1097.3,811.44 1098.1,811.33 1098.9,812.39 1099.7,813.21 1100.5,813.81 1101.3,814.72 1102.1,815.15 1102.9,816.55 1103.7,817.18 1104.5,818.45 1105.3,818.68 1106.1,818.55 1106.9,819.52 1107.7,820.3 1108.5,820.67 1109.3,821.35 1110.1,821.77 1110.9,822.65 1111.7,823.78 1112.5,824.45 1113.3,825.45 1114.1,824.88 1114.9,825.86 1115.7,827.01 1116.5,828.5 1117.3,829.11 1118.1,829.56 1118.9,830.31 1119.7,831.13 1120.5,831.27 1121.3,831.37 1122.1,831.93 1122.9,832.13 1123.7,832.83 1124.5,833.55 1125.3,833.73 1126.1,834.31 1126.9,834.46 1127.7,834.41 1128.5,834.86 1129.3,836.13 1130.1,836.47 1130.9,837.04 1131.7,837.04 1132.5,837.34 1133.3,837.7 1134.1,837.88 1134.9,838.8 1135.7,838.95 1136.5,838.69 1137.3,838.21 1138.1,838.54 1138.9,839.19 1139.7,839.74 1140.5,839.44 1141.3,839.53 1142.1,839.88 1142.9,839.86 1143.7,839.74 1144.5,839.63 1145.3,840.61 1146.1,840.33 1146.9,840.16 1147.7,840.29 1148.5,839.85 1149.3,839.67 1150.1,839.9 1150.9,840.8 1151.7,840.48 1152.5,840.95 1153.3,840.54 1154.1,840.35 1154.9,840.89 1155.7,841.03 1156.5,841.35 1157.3,842.36 1158.1,841.88 1158.9,841.56 1159.7,842.08 1160.5,841.87 1161.3,842.23 1162.1,841.41 1162.9,842.17 1163.7,841.51 1164.5,841.58 1165.3,841.95 1166.1,841.44 1166.9,841.21 1167.7,841.77 1168.5,841.84 1169.3,841.53 1170.1,842.45 1170.9,841.94 1171.7,841.93 1172.5,842.19 1173.3,842.48 1174.1,842.69 1174.9,841.57 1175.7,842.36 1176.5,842.94 1177.3,842.73 1178.1,842.46 1178.9,842.13 1179.7,842.63 1180.5,842.49 1181.3,842.61 1182.1,842.22 1182.9,842.49 1183.7,842.53 1184.5,842.21 1185.3,843.14 1186.1,842.77 1186.9,842.25 1187.7,842.66 1188.5,842.91 1189.3,842.69 1190.1,842.43 1190.9,842.64 1191.7,842.19 1192.5,842.23 1193.3,843.56 1194.1,844.11 1194.9,844.29 1195.7,844.41 1196.5,843.83 1197.3,842.75 1198.1,842.87 1198.9,843.52 1199.7,842.99 1200.5,842.93 1201.3,843.15 1202.1,843.22 1202.9,842.59 1203.7,843.1 1204.5,843.2 1205.3,842.41 1206.1,843.58 1206.9,843.58 1207.7,843.09 1208.5,844 1209.3,843.62 1210.1,843.62 1210.9,843.71 1211.7,842.2 1212.5,843.08 1213.3,843.85 1214.1,843.97 1214.9,843.33 1215.7,843.06 1216.5,842.82 1217.3,842.91 1218.1,842.57 1218.9,841.99 1219.7,842.63 1220.5,842.65 1221.3,842.81 1222.1,842.91 1222.9,842.96 1223.7,843.21 1224.5,843.16 1225.3,842.98 1226.1,842.89 1226.9,843.07 1227.7,843.04 1228.5,843.25 1229.3,843.84 1230.1,843.41 1230.9,842.84 1231.7,842.08 1232.5,842.04 1233.3,841.79 1234.1,843.41 1234.9,843.73 1235.7,843.06 1236.5,842.97 1237.3,843.4 1238.1,843.3 1238.9,842.4 1239.7,842.84 1240.5,842.87 1241.3,842.68 1242.1,843.74 1242.9,843.56 1243.7,842.93 1244.5,843 1245.3,842.82 1246.1,842.8 1246.9,842.99 1247.7,843.54 1248.5,843.16 1249.3,842.82 1250.1,842.77 1250.9,843.06 1251.7,842.56 1252.5,842.25 1253.3,843.01 1254.1,843.71 1254.9,842.92 1255.7,843.04 1256.5,843.1 1257.3,843.63 1258.1,843.25 1258.9,842.67 1259.7,843.7 1260.5,843.1 1261.3,842.55 1262.1,842.69 1262.9,843.08 1263.7,843.46 1264.5,842.89 1265.3,842.74 1266.1,843.66 1266.9,843.77 1267.7,842.96 1268.5,843.01 1269.3,843.1 1270.1,842.74 1270.9,842.58 1271.7,843.2 1272.5,842.34 1273.3,842.02 1274.1,843.1 1274.9,843.55 1275.7,843.29 1276.5,842.58 1277.3,842.57 1278.1,842.28 1278.9,842.26 1279.7,841.58 1280.5,842.33 1281.3,843.25 1282.1,842.58 1282.9,843.5 1283.7,842.85 1284.5,842 1285.3,842.92 1286.1,842.48 1286.9,842.9 1287.7,842.69 1288.5,842.55 1289.3,842.49 1290.1,842.03 1290.9,842.2 1291.7,842.62 1292.5,843.41 1293.3,842.63 1294.1,842.81 1294.9,843.02 1295.7,843.23 1296.5,842.67 1297.3,842.61 1298.1,842.46 1298.9,843.53 1299.7,842.19 1300.5,842.52 1301.3,842.45 1302.1,842.55 1302.9,842.28 1303.7,842.37 1304.5,843.02 1305.3,843.03 1306.1,842.54 1306.9,842.43 1307.7,842.53 1308.5,842.48 1309.3,842.7 1310.1,842.86 1310.9,842.54 1311.7,841.71 1312.5,842.1 1313.3,841.92 1314.1,842.42 1314.9,842.27 1315.7,842.42 1316.5,842.38 1317.3,842.84 1318.1,843 1318.9,842.32 1319.7,841.58 1320.5,842.27 1321.3,843.05 1322.1,842.06 1322.9,842.31 1323.7,843.43 1324.5,843.22 1325.3,842.61 1326.1,842.15 1326.9,841.67 1327.7,842.78 1328.5,842.47 1329.3,841.35 1330.1,841.79 1330.9,841.93 1331.7,841.88 1332.5,841.9 1333.3,842.93 1334.1,841.92 1334.9,842.56 1335.7,842.33 1336.5,841.99 1337.3,842.14 1338.1,842.15 1338.9,841.51 1339.7,841.68 1340.5,842.4 1341.3,842.36 1342.1,841.91 1342.9,841.07 1343.7,841 1344.5,842.36 1345.3,842.54 1346.1,842.08 1346.9,841.84 1347.7,841.56 1348.5,841.92 1349.3,842.26 1350.1,841.98 1350.9,841.41 1351.7,841.59 1352.5,841.3 1353.3,841.3 1354.1,840.74 1354.9,840.17 1355.7,840.75 1356.5,841.33 1357.3,841.12 1358.1,841.5 1358.9,841.2 1359.7,841.39 1360.5,841.29 1361.3,841.89 1362.1,841.27" fill="none" stroke="#E41A1C" stroke-width="2.9" stroke-linejoin="round" stroke-linecap="round" />
<line x1="824.5" y1="627.6" x2="1363.9" y2="627.6" stroke="#000" stroke-width="2.3" />
<line x1="1362.8" y1="627.6" x2="1362.8" y2="1060" stroke="#000" stroke-width="2.3" />
<line x1="824.5" y1="1060" x2="1363.9" y2="1060" stroke="#000" stroke-width="2.3" />
<line x1="825.6" y1="627.6" x2="825.6" y2="1060" stroke="#000" stroke-width="2.3" />
<text transform="translate(1187,661.2) scale(1,1.055)" font-size="32" xml:space="preserve">@ 1.7  V<tspan dy="8.3" font-size="21.5">RHE</tspan></text>
<text transform="translate(851,697.1) scale(1,1.055)" font-size="32" >480 cm<tspan dy="-13" font-size="21.5">−1</tspan></text>
<text transform="translate(1069.5,730) scale(1,1.055)" font-size="32" >557 cm<tspan dy="-13" font-size="21.5">−1</tspan></text>
<text transform="translate(1356.6,875.2) scale(1,1.055)" font-size="31.5" text-anchor="end" fill="#E41A1C" >50 h EA (0.6 V<tspan dy="8" font-size="21">RHE</tspan><tspan dy="-8">)</tspan></text>
<text transform="translate(1355.8,984.8) scale(1,1.055)" font-size="31.5" text-anchor="end" fill="#377EB8" >50 h w/o EA</text>
<text transform="translate(1356.4,1036.5) scale(1,1.055)" font-size="31.5" text-anchor="end" >Initial</text>
<text transform="translate(964,1151) scale(1,1.055)" font-size="32" >Raman shift <tspan font-size="21">(</tspan>cm<tspan dy="-9.5" font-size="21.5">−1</tspan><tspan dy="9.5" font-size="21">)</tspan></text>
<text transform="translate(796.2,845.5) rotate(-90) scale(1,1.055)" text-anchor="middle" font-size="32">Intensity (arb.units )</text>
<line x1="1511.6" y1="628.7" x2="2050.5" y2="628.7" stroke="#000" stroke-width="2.3" />
<line x1="2049.4" y1="628.7" x2="2049.4" y2="1061" stroke="#000" stroke-width="2.3" />
<line x1="1511.6" y1="1061" x2="2050.5" y2="1061" stroke="#000" stroke-width="2.3" />
<line x1="1512.7" y1="628.7" x2="1512.7" y2="1061" stroke="#000" stroke-width="2.3" />
<line x1="1512.8" y1="1061" x2="1512.8" y2="1065.5" stroke="#000" stroke-width="2.3" />
<line x1="1602.2" y1="1061" x2="1602.2" y2="1069.5" stroke="#000" stroke-width="2.3" />
<text transform="translate(1602.2,1100) scale(1,1.055)" font-size="31.7" text-anchor="middle" >400</text>
<line x1="1691.6" y1="1061" x2="1691.6" y2="1065.5" stroke="#000" stroke-width="2.3" />
<line x1="1781" y1="1061" x2="1781" y2="1069.5" stroke="#000" stroke-width="2.3" />
<text transform="translate(1781,1100) scale(1,1.055)" font-size="31.7" text-anchor="middle" >600</text>
<line x1="1870.4" y1="1061" x2="1870.4" y2="1065.5" stroke="#000" stroke-width="2.3" />
<line x1="1959.8" y1="1061" x2="1959.8" y2="1069.5" stroke="#000" stroke-width="2.3" />
<text transform="translate(1959.8,1100) scale(1,1.055)" font-size="31.7" text-anchor="middle" >800</text>
<line x1="2049.2" y1="1061" x2="2049.2" y2="1065.5" stroke="#000" stroke-width="2.3" />
<polyline points="1513.2,738.3 1513.95,739.17 1514.7,734.18 1515.45,733.63 1516.2,737.26 1516.95,740.67 1517.7,737.35 1518.45,733.15 1519.2,733.83 1519.95,736.19 1520.7,738.61 1521.45,736.54 1522.2,735.39 1522.95,735.78 1523.7,736.49 1524.45,734.73 1525.2,736.35 1525.95,737.86 1526.7,740.72 1527.45,737.52 1528.2,738.64 1528.95,734.9 1529.7,738.53 1530.45,737.32 1531.2,735.57 1531.95,736.96 1532.7,738.99 1533.45,736.91 1534.2,739.98 1534.95,741.8 1535.7,742.27 1536.45,741.22 1537.2,734.78 1537.95,737.26 1538.7,736.04 1539.45,739.34 1540.2,737.92 1540.95,738.08 1541.7,738.35 1542.45,736.16 1543.2,737.16 1543.95,736.54 1544.7,742.17 1545.45,737.23 1546.2,736.75 1546.95,732.7 1547.7,732.99 1548.45,735.35 1549.2,739.64 1549.95,740.05 1550.7,738.51 1551.45,737.05 1552.2,741.74 1552.95,735.72 1553.7,735.58 1554.45,738.4 1555.2,735.79 1555.95,738.62 1556.7,740.47 1557.45,738.4 1558.2,739.05 1558.95,738.08 1559.7,735.23 1560.45,729.58 1561.2,733.91 1561.95,737.04 1562.7,733.93 1563.45,736.27 1564.2,739.05 1564.95,741.09 1565.7,735.21 1566.45,736.53 1567.2,738.86 1567.95,739.16 1568.7,735.85 1569.45,742.07 1570.2,737.48 1570.95,740.65 1571.7,738.46 1572.45,739.96 1573.2,742.95 1573.95,740.85 1574.7,738.61 1575.45,735.72 1576.2,735.85 1576.95,735.43 1577.7,742.26 1578.45,734.37 1579.2,732.1 1579.95,742.01 1580.7,742.12 1581.45,738.39 1582.2,740.07 1582.95,736.52 1583.7,736.91 1584.45,739.64 1585.2,739.47 1585.95,738.13 1586.7,742.62 1587.45,741 1588.2,738.66 1588.95,735.67 1589.7,738.25 1590.45,737.74 1591.2,738.51 1591.95,740.25 1592.7,737.51 1593.45,739.28 1594.2,740.76 1594.95,740.64 1595.7,743.71 1596.45,735.1 1597.2,737.26 1597.95,735.58 1598.7,738.94 1599.45,744.18 1600.2,735.4 1600.95,737.5 1601.7,740.18 1602.45,739.48 1603.2,740.35 1603.95,735.53 1604.7,740.11 1605.45,736.2 1606.2,735.5 1606.95,739.82 1607.7,739.83 1608.45,736.77 1609.2,736.32 1609.95,737.91 1610.7,738.57 1611.45,737.93 1612.2,735.26 1612.95,733.11 1613.7,741.2 1614.45,745.79 1615.2,735.16 1615.95,734.14 1616.7,736.31 1617.45,736.68 1618.2,733.92 1618.95,741.66 1619.7,740.34 1620.45,738.37 1621.2,739.71 1621.95,740.02 1622.7,741.69 1623.45,740.2 1624.2,742.73 1624.95,743.15 1625.7,738.59 1626.45,737.35 1627.2,736.49 1627.95,737.76 1628.7,737.08 1629.45,738.85 1630.2,739.98 1630.95,740.02 1631.7,736.78 1632.45,741.16 1633.2,738.66 1633.95,738.46 1634.7,736.96 1635.45,733.99 1636.2,738.24 1636.95,735.22 1637.7,741.19 1638.45,740.28 1639.2,743.3 1639.95,741.66 1640.7,741.73 1641.45,742.93 1642.2,740.24 1642.95,742.98 1643.7,739.61 1644.45,739.56 1645.2,737.87 1645.95,740.61 1646.7,740.96 1647.45,737.79 1648.2,735.89 1648.95,738.88 1649.7,740.3 1650.45,734.67 1651.2,736.57 1651.95,737.08 1652.7,737.4 1653.45,732.51 1654.2,737.49 1654.95,742.28 1655.7,736.73 1656.45,739.08 1657.2,743.89 1657.95,742.3 1658.7,742.04 1659.45,739.01 1660.2,737.32 1660.95,746.36 1661.7,741.58 1662.45,740.98 1663.2,744.15 1663.95,742.35 1664.7,739.71 1665.45,736.91 1666.2,738.85 1666.95,739.05 1667.7,737.69 1668.45,736.98 1669.2,736.94 1669.95,738.93 1670.7,738.51 1671.45,741.09 1672.2,742.75 1672.95,741.16 1673.7,740.79 1674.45,744.19 1675.2,741.72 1675.95,736.38 1676.7,737.82 1677.45,740.01 1678.2,738.36 1678.95,741.07 1679.7,735.42 1680.45,735.21 1681.2,742.24 1681.95,741.55 1682.7,736.64 1683.45,740.5 1684.2,743.38 1684.95,737.75 1685.7,736.62 1686.45,736.64 1687.2,736.94 1687.95,735.68 1688.7,738.16 1689.45,736.87 1690.2,741.15 1690.95,745.9 1691.7,739.36 1692.45,743.08 1693.2,743.16 1693.95,735.56 1694.7,740.21 1695.45,740.75 1696.2,740.37 1696.95,742.61 1697.7,740.3 1698.45,741.52 1699.2,740.1 1699.95,740.2 1700.7,739.91 1701.45,746.4 1702.2,741.38 1702.95,739.04 1703.7,746.15 1704.45,745.75 1705.2,741.02 1705.95,739.16 1706.7,739.57 1707.45,743.86 1708.2,740.61 1708.95,739.66 1709.7,742.97 1710.45,740.91 1711.2,741.81 1711.95,746.47 1712.7,744.74 1713.45,744.96 1714.2,743.4 1714.95,744.69 1715.7,741.85 1716.45,744.16 1717.2,744.26 1717.95,740.32 1718.7,738.29 1719.45,742.26 1720.2,741.64 1720.95,742.74 1721.7,740.47 1722.45,743 1723.2,745.09 1723.95,748.56 1724.7,747.13 1725.45,743.84 1726.2,745.1 1726.95,741.09 1727.7,744.38 1728.45,742.99 1729.2,745.18 1729.95,742.95 1730.7,740.97 1731.45,740.34 1732.2,744.6 1732.95,742.66 1733.7,743.75 1734.45,742.44 1735.2,737.1 1735.95,742.35 1736.7,741.27 1737.45,742.84 1738.2,742.48 1738.95,737.4 1739.7,740.33 1740.45,741.74 1741.2,743.19 1741.95,744.12 1742.7,740.48 1743.45,741.31 1744.2,742.67 1744.95,738.34 1745.7,745.48 1746.45,740.85 1747.2,744.94 1747.95,743.6 1748.7,747.16 1749.45,745.33 1750.2,741.66 1750.95,737.82 1751.7,741.81 1752.45,743.1 1753.2,743.02 1753.95,738.77 1754.7,739.16 1755.45,739.87 1756.2,742.08 1756.95,739.92 1757.7,741.75 1758.45,744.12 1759.2,741.85 1759.95,745.3 1760.7,743.15 1761.45,741.9 1762.2,744.78 1762.95,743.49 1763.7,741.17 1764.45,740.31 1765.2,741.69 1765.95,743.18 1766.7,744.96 1767.45,742.74 1768.2,739.89 1768.95,738.39 1769.7,742.11 1770.45,743.37 1771.2,744.61 1771.95,734.44 1772.7,738.74 1773.45,743.36 1774.2,733.32 1774.95,739.43 1775.7,745.9 1776.45,744.8 1777.2,742.54 1777.95,742.38 1778.7,740.61 1779.45,744 1780.2,741.15 1780.95,740.63 1781.7,740.71 1782.45,739.55 1783.2,744.91 1783.95,747.03 1784.7,743.95 1785.45,737.3 1786.2,740.46 1786.95,740.75 1787.7,742.19 1788.45,736.36 1789.2,736.04 1789.95,740.87 1790.7,744.71 1791.45,743.35 1792.2,747.7 1792.95,741.42 1793.7,742.4 1794.45,742.06 1795.2,741.1 1795.95,744.76 1796.7,739.61 1797.45,739.63 1798.2,741.47 1798.95,742.13 1799.7,745.49 1800.45,742.45 1801.2,744.03 1801.95,742.75 1802.7,746.26 1803.45,743.87 1804.2,743.36 1804.95,739.72 1805.7,744.31 1806.45,742.52 1807.2,745.7 1807.95,745.42 1808.7,745.64 1809.45,746.85 1810.2,744.77 1810.95,741.79 1811.7,743.93 1812.45,743.89 1813.2,741.28 1813.95,745.6 1814.7,747.99 1815.45,745.26 1816.2,744.64 1816.95,745.75 1817.7,746.87 1818.45,743.66 1819.2,746.11 1819.95,743.01 1820.7,745.56 1821.45,745.35 1822.2,741.66 1822.95,745.65 1823.7,744.61 1824.45,740.26 1825.2,742.51 1825.95,742.48 1826.7,742.3 1827.45,745.01 1828.2,742.88 1828.95,744.09 1829.7,741.94 1830.45,744.4 1831.2,749.4 1831.95,745.96 1832.7,740.77 1833.45,741.88 1834.2,743.56 1834.95,741.22 1835.7,746.74 1836.45,745.25 1837.2,744.85 1837.95,744.89 1838.7,742.95 1839.45,740.77 1840.2,736.3 1840.95,739.99 1841.7,745.4 1842.45,746.93 1843.2,744.32 1843.95,740.49 1844.7,743.74 1845.45,744.76 1846.2,742.67 1846.95,747.82 1847.7,743.13 1848.45,744.54 1849.2,743.08 1849.95,746.79 1850.7,742.35 1851.45,743.21 1852.2,747.46 1852.95,742.65 1853.7,743.95 1854.45,746.88 1855.2,746.04 1855.95,741.67 1856.7,746.37 1857.45,745.69 1858.2,747.96 1858.95,742.21 1859.7,747.15 1860.45,746.95 1861.2,744.86 1861.95,744.79 1862.7,746.38 1863.45,744.18 1864.2,744.47 1864.95,743.93 1865.7,746.25 1866.45,747.08 1867.2,742.31 1867.95,745.57 1868.7,747.41 1869.45,749.63 1870.2,745.32 1870.95,748.77 1871.7,745.7 1872.45,747.28 1873.2,747.02 1873.95,746.82 1874.7,745.08 1875.45,744.25 1876.2,750.15 1876.95,750.44 1877.7,746.52 1878.45,745.78 1879.2,745.23 1879.95,742.53 1880.7,743.26 1881.45,747.38 1882.2,748.88 1882.95,745.9 1883.7,751.63 1884.45,743.21 1885.2,744.85 1885.95,748.06 1886.7,746.4 1887.45,742.6 1888.2,743.29 1888.95,747.11 1889.7,748.22 1890.45,751.74 1891.2,751.05 1891.95,747.49 1892.7,745.21 1893.45,746.57 1894.2,743.78 1894.95,745.06 1895.7,749.32 1896.45,749.15 1897.2,750.04 1897.95,751 1898.7,746.84 1899.45,748.83 1900.2,747.61 1900.95,747.92 1901.7,747.94 1902.45,747.95 1903.2,743.32 1903.95,743.2 1904.7,747.03 1905.45,748.22 1906.2,746.14 1906.95,746.22 1907.7,744.08 1908.45,749.28 1909.2,749.4 1909.95,751.07 1910.7,746.88 1911.45,746.99 1912.2,748.06 1912.95,751.07 1913.7,749.54 1914.45,748.02 1915.2,743.22 1915.95,744.16 1916.7,743.48 1917.45,746.87 1918.2,749.68 1918.95,747.73 1919.7,746.18 1920.45,751.94 1921.2,746.3 1921.95,751.19 1922.7,751.28 1923.45,749.4 1924.2,750.83 1924.95,745.43 1925.7,745.92 1926.45,747.05 1927.2,748.64 1927.95,748.3 1928.7,751.98 1929.45,747.62 1930.2,746.81 1930.95,745.11 1931.7,749.08 1932.45,749.95 1933.2,746.05 1933.95,744.16 1934.7,736.99 1935.45,750.85 1936.2,750.74 1936.95,749.54 1937.7,750.45 1938.45,749.97 1939.2,749 1939.95,744.69 1940.7,749.29 1941.45,750.79 1942.2,751.9 1942.95,751.02 1943.7,747.25 1944.45,748.32 1945.2,745.66 1945.95,751.02 1946.7,745.99 1947.45,749.49 1948.2,746.61 1948.95,745.94 1949.7,745.99 1950.45,747.67 1951.2,749.97 1951.95,751.55 1952.7,748.79 1953.45,751.13 1954.2,752.12 1954.95,754.06 1955.7,748.3 1956.45,749.68 1957.2,750.8 1957.95,749.79 1958.7,750.29 1959.45,747.41 1960.2,747.59 1960.95,747.06 1961.7,746.85 1962.45,746.55 1963.2,748 1963.95,745.78 1964.7,747.44 1965.45,749.74 1966.2,745.06 1966.95,745.77 1967.7,747.35 1968.45,746 1969.2,747.06 1969.95,753.66 1970.7,750.65 1971.45,747.99 1972.2,746.68 1972.95,744.7 1973.7,744.93 1974.45,743.36 1975.2,749.65 1975.95,748.69 1976.7,751.46 1977.45,748.97 1978.2,745.21 1978.95,753.6 1979.7,751.84 1980.45,751.68 1981.2,748.25 1981.95,747.83 1982.7,749.57 1983.45,753.45 1984.2,746.73 1984.95,746.63 1985.7,749.7 1986.45,745.5 1987.2,752.1 1987.95,747.83 1988.7,752.11 1989.45,749.64 1990.2,748.32 1990.95,747.31 1991.7,752.8 1992.45,749.13 1993.2,746.59 1993.95,750.81 1994.7,749.93 1995.45,750.92 1996.2,749.21 1996.95,750.82 1997.7,751.18 1998.45,749.51 1999.2,746.09 1999.95,751.1 2000.7,753.78 2001.45,752.01 2002.2,752.83 2002.95,752.26 2003.7,750.06 2004.45,752.53 2005.2,749.56 2005.95,751.35 2006.7,747.06 2007.45,752.55 2008.2,752.63 2008.95,751.87 2009.7,748.41 2010.45,745.86 2011.2,751.51 2011.95,750.18 2012.7,748.58 2013.45,748.41 2014.2,748.02 2014.95,745.85 2015.7,751.56 2016.45,752.83 2017.2,752.82 2017.95,749.5 2018.7,746.78 2019.45,746.58 2020.2,750 2020.95,755.22 2021.7,753.67 2022.45,751.31 2023.2,752.22 2023.95,752.97 2024.7,751.32 2025.45,751.47 2026.2,751.2 2026.95,749.03 2027.7,747.58 2028.45,749.5 2029.2,752.94 2029.95,747.3 2030.7,749.1 2031.45,749.8 2032.2,750.77 2032.95,750.25 2033.7,752.71 2034.45,750.49 2035.2,751.24 2035.95,752.36 2036.7,748.37 2037.45,753.76 2038.2,753.7 2038.95,748.35 2039.7,750.24 2040.45,749.28 2041.2,750.43 2041.95,752.42 2042.7,747.36 2043.45,752.93 2044.2,752.82 2044.95,752.48 2045.7,756.78 2046.45,750.56 2047.2,747.76 2047.95,751.98 2048.7,752.09" fill="none" stroke="#6E0E0E" stroke-width="2.3" stroke-linejoin="round" stroke-linecap="round" />
<polyline points="1513.2,785.9 1513.95,785.93 1514.7,793.86 1515.45,787.59 1516.2,785.68 1516.95,785.85 1517.7,783.4 1518.45,783.02 1519.2,785.85 1519.95,784.37 1520.7,786.87 1521.45,784.1 1522.2,779.78 1522.95,780.58 1523.7,781.55 1524.45,779.6 1525.2,784.1 1525.95,784.88 1526.7,787.31 1527.45,783.39 1528.2,784.68 1528.95,787.17 1529.7,787.25 1530.45,783.78 1531.2,788.88 1531.95,785.09 1532.7,788.41 1533.45,785.22 1534.2,783.98 1534.95,782.26 1535.7,785.94 1536.45,791.8 1537.2,785.83 1537.95,790.24 1538.7,789.92 1539.45,785.98 1540.2,789.38 1540.95,790.06 1541.7,785.67 1542.45,785.09 1543.2,789.06 1543.95,788.51 1544.7,792.18 1545.45,787.85 1546.2,783.47 1546.95,785.29 1547.7,783.6 1548.45,788.24 1549.2,788.49 1549.95,785.37 1550.7,784.44 1551.45,788.44 1552.2,786.53 1552.95,789.33 1553.7,784.53 1554.45,779.04 1555.2,784.81 1555.95,785 1556.7,794.29 1557.45,792.19 1558.2,786.31 1558.95,788.04 1559.7,783.11 1560.45,790.04 1561.2,790.31 1561.95,786.51 1562.7,786.17 1563.45,787.87 1564.2,788.37 1564.95,786.14 1565.7,784.79 1566.45,786.11 1567.2,786.46 1567.95,789.33 1568.7,788.1 1569.45,787.46 1570.2,783.09 1570.95,793.55 1571.7,786.2 1572.45,786.07 1573.2,787.04 1573.95,786.26 1574.7,784.03 1575.45,790.04 1576.2,790.45 1576.95,787.18 1577.7,788.98 1578.45,785.25 1579.2,784.21 1579.95,787.63 1580.7,792.04 1581.45,787.86 1582.2,784.18 1582.95,787.94 1583.7,786.51 1584.45,786.27 1585.2,788.19 1585.95,783.12 1586.7,782.28 1587.45,784.23 1588.2,790.69 1588.95,788.89 1589.7,786.61 1590.45,786.7 1591.2,797.64 1591.95,791.79 1592.7,787.25 1593.45,789.93 1594.2,795.16 1594.95,791.03 1595.7,788.13 1596.45,789.42 1597.2,789.34 1597.95,790.59 1598.7,789.66 1599.45,787.45 1600.2,788.3 1600.95,789.32 1601.7,787.04 1602.45,788.19 1603.2,786.8 1603.95,792.2 1604.7,792.92 1605.45,787.37 1606.2,790.6 1606.95,789.49 1607.7,788.85 1608.45,788.12 1609.2,789.65 1609.95,790.86 1610.7,786.22 1611.45,790.65 1612.2,787.85 1612.95,785.55 1613.7,788.24 1614.45,790.16 1615.2,788.68 1615.95,789.11 1616.7,787.51 1617.45,787.35 1618.2,790.49 1618.95,786.82 1619.7,790.8 1620.45,789.6 1621.2,787.71 1621.95,787.55 1622.7,787.49 1623.45,788.11 1624.2,788.13 1624.95,787.12 1625.7,782.28 1626.45,782.08 1627.2,788.02 1627.95,786.49 1628.7,786.4 1629.45,787.06 1630.2,785.86 1630.95,791.75 1631.7,788.7 1632.45,787.23 1633.2,785.64 1633.95,790.26 1634.7,790.94 1635.45,792.6 1636.2,790.65 1636.95,785.74 1637.7,784.92 1638.45,790.74 1639.2,786.72 1639.95,787.32 1640.7,787.68 1641.45,789.38 1642.2,789.11 1642.95,785.15 1643.7,785.06 1644.45,783.3 1645.2,788.51 1645.95,786.94 1646.7,783.78 1647.45,789.81 1648.2,787.83 1648.95,784.98 1649.7,786.03 1650.45,786.1 1651.2,787.86 1651.95,788.08 1652.7,786.5 1653.45,787.53 1654.2,781.01 1654.95,786.02 1655.7,789.64 1656.45,790.77 1657.2,789.75 1657.95,784.64 1658.7,782.76 1659.45,787.06 1660.2,793.58 1660.95,789.02 1661.7,785.22 1662.45,783.14 1663.2,787.23 1663.95,786.83 1664.7,788.93 1665.45,787.5 1666.2,781.73 1666.95,786.82 1667.7,789.54 1668.45,786.11 1669.2,784.01 1669.95,783.81 1670.7,784.85 1671.45,793.57 1672.2,792.19 1672.95,787.49 1673.7,790.81 1674.45,785.58 1675.2,785.88 1675.95,785.82 1676.7,787.55 1677.45,790.55 1678.2,793.94 1678.95,790.86 1679.7,788.29 1680.45,788.52 1681.2,787.91 1681.95,788.83 1682.7,786.37 1683.45,788.88 1684.2,790.09 1684.95,790.75 1685.7,786.93 1686.45,789.41 1687.2,789.14 1687.95,785.84 1688.7,783.01 1689.45,786.81 1690.2,790.62 1690.95,789.31 1691.7,794.75 1692.45,790.89 1693.2,779.46 1693.95,788.52 1694.7,790.25 1695.45,790.28 1696.2,788.75 1696.95,791.28 1697.7,797.19 1698.45,792.68 1699.2,789.7 1699.95,787.26 1700.7,784.46 1701.45,788.74 1702.2,788.22 1702.95,788.73 1703.7,788.15 1704.45,791.49 1705.2,792.11 1705.95,787.44 1706.7,785.71 1707.45,790.22 1708.2,793.28 1708.95,791.27 1709.7,790.33 1710.45,785.91 1711.2,787.8 1711.95,790.99 1712.7,790.78 1713.45,789.99 1714.2,791.46 1714.95,792.14 1715.7,789.99 1716.45,787.39 1717.2,785.97 1717.95,789.69 1718.7,789.4 1719.45,789.77 1720.2,792.38 1720.95,788.57 1721.7,789.24 1722.45,791.16 1723.2,787.12 1723.95,783.95 1724.7,788.1 1725.45,791.68 1726.2,788.79 1726.95,788.51 1727.7,785.8 1728.45,791.78 1729.2,785.97 1729.95,787.77 1730.7,790.33 1731.45,795.23 1732.2,791.1 1732.95,787.96 1733.7,786.16 1734.45,788.52 1735.2,786.93 1735.95,788.41 1736.7,790.86 1737.45,793.2 1738.2,788.77 1738.95,792.83 1739.7,786.99 1740.45,794.53 1741.2,789.64 1741.95,789.29 1742.7,789.46 1743.45,791.13 1744.2,790.6 1744.95,789.66 1745.7,788.71 1746.45,789.22 1747.2,790.61 1747.95,789.31 1748.7,788.41 1749.45,787.05 1750.2,790.7 1750.95,791.89 1751.7,789.07 1752.45,793.21 1753.2,791.47 1753.95,790.72 1754.7,787.15 1755.45,792.61 1756.2,795.46 1756.95,796.45 1757.7,790.51 1758.45,791.24 1759.2,793.44 1759.95,792.79 1760.7,790.05 1761.45,791.75 1762.2,794.22 1762.95,793.31 1763.7,792.05 1764.45,793.61 1765.2,788.44 1765.95,791.89 1766.7,790.03 1767.45,790.84 1768.2,794.33 1768.95,796.68 1769.7,793.69 1770.45,792.99 1771.2,796.39 1771.95,793.59 1772.7,786.41 1773.45,789.29 1774.2,789.81 1774.95,789.47 1775.7,788.28 1776.45,793.21 1777.2,793.53 1777.95,796.52 1778.7,792.24 1779.45,792.14 1780.2,790.85 1780.95,795.09 1781.7,796.61 1782.45,797.53 1783.2,795.43 1783.95,791.89 1784.7,794.96 1785.45,790.49 1786.2,790.59 1786.95,792.72 1787.7,797.55 1788.45,791.35 1789.2,790.05 1789.95,793.44 1790.7,796.1 1791.45,794.95 1792.2,794.15 1792.95,790.87 1793.7,792.15 1794.45,796.09 1795.2,793.55 1795.95,791.35 1796.7,792.51 1797.45,797.06 1798.2,798.19 1798.95,794.61 1799.7,792.04 1800.45,796.91 1801.2,792.44 1801.95,793.56 1802.7,794.52 1803.45,793.54 1804.2,793.7 1804.95,797.64 1805.7,794.45 1806.45,789.93 1807.2,792.14 1807.95,796.69 1808.7,793.42 1809.45,791.51 1810.2,795.89 1810.95,795.44 1811.7,794.41 1812.45,795.22 1813.2,793.32 1813.95,794.54 1814.7,795.35 1815.45,793.41 1816.2,796.6 1816.95,792.85 1817.7,799 1818.45,795.39 1819.2,794.76 1819.95,791.74 1820.7,795.5 1821.45,792.81 1822.2,795.34 1822.95,794.39 1823.7,793.19 1824.45,798.71 1825.2,795.5 1825.95,793.26 1826.7,793.68 1827.45,795.38 1828.2,795.33 1828.95,796.7 1829.7,793.82 1830.45,794.98 1831.2,793.49 1831.95,793.3 1832.7,796.39 1833.45,792.66 1834.2,790.93 1834.95,795.87 1835.7,794.31 1836.45,796.56 1837.2,796.92 1837.95,796.73 1838.7,796.27 1839.45,798.79 1840.2,793.8 1840.95,797.81 1841.7,795.63 1842.45,800.69 1843.2,794.88 1843.95,797.69 1844.7,796.92 1845.45,794.69 1846.2,795.77 1846.95,796.82 1847.7,796.5 1848.45,802.04 1849.2,797.99 1849.95,795.44 1850.7,798.3 1851.45,796.72 1852.2,794.58 1852.95,794.24 1853.7,792.14 1854.45,797.83 1855.2,800.03 1855.95,796.12 1856.7,793.37 1857.45,791.02 1858.2,792.42 1858.95,795.41 1859.7,794.53 1860.45,795.23 1861.2,794.01 1861.95,795.43 1862.7,795.72 1863.45,796.69 1864.2,796.69 1864.95,796.54 1865.7,794.31 1866.45,794.89 1867.2,793.08 1867.95,794.69 1868.7,796.33 1869.45,797 1870.2,792.95 1870.95,793.41 1871.7,794.36 1872.45,793.22 1873.2,795.3 1873.95,795.7 1874.7,795.37 1875.45,800.18 1876.2,796.3 1876.95,796.4 1877.7,792.7 1878.45,798.17 1879.2,804.73 1879.95,796.51 1880.7,791.5 1881.45,795.5 1882.2,795.24 1882.95,797.51 1883.7,796.68 1884.45,795.32 1885.2,795.97 1885.95,800.16 1886.7,799.41 1887.45,792.91 1888.2,795.39 1888.95,798.16 1889.7,796.29 1890.45,797.46 1891.2,796.95 1891.95,801.21 1892.7,799.38 1893.45,797.44 1894.2,800.76 1894.95,799.93 1895.7,801.36 1896.45,796.08 1897.2,793.57 1897.95,798.58 1898.7,796.92 1899.45,791.43 1900.2,787.13 1900.95,796.04 1901.7,797.19 1902.45,795.18 1903.2,795.91 1903.95,796.91 1904.7,794.48 1905.45,799.46 1906.2,794.72 1906.95,797.04 1907.7,797.32 1908.45,795.98 1909.2,795.75 1909.95,798.74 1910.7,793.93 1911.45,797.58 1912.2,801.31 1912.95,795.77 1913.7,793.36 1914.45,794.71 1915.2,789.93 1915.95,794.21 1916.7,794.21 1917.45,794.9 1918.2,795.48 1918.95,798.93 1919.7,797.75 1920.45,795.84 1921.2,800.3 1921.95,796.56 1922.7,801 1923.45,796.95 1924.2,795.32 1924.95,797.06 1925.7,801.44 1926.45,798.9 1927.2,797.39 1927.95,793.94 1928.7,797.27 1929.45,797.2 1930.2,796.81 1930.95,795.45 1931.7,794.44 1932.45,800.38 1933.2,796.57 1933.95,799.61 1934.7,800.02 1935.45,799.01 1936.2,799.01 1936.95,799.9 1937.7,797.76 1938.45,798.22 1939.2,799.31 1939.95,798.96 1940.7,796.74 1941.45,791.68 1942.2,796.91 1942.95,795.92 1943.7,801.51 1944.45,802.3 1945.2,799.84 1945.95,798.61 1946.7,793.66 1947.45,797.17 1948.2,797.45 1948.95,802.5 1949.7,797.08 1950.45,803.82 1951.2,798.48 1951.95,794.41 1952.7,802.51 1953.45,799.23 1954.2,800.2 1954.95,801.24 1955.7,795.28 1956.45,797.23 1957.2,799.67 1957.95,802.21 1958.7,799.38 1959.45,799.81 1960.2,795.18 1960.95,799.41 1961.7,796.94 1962.45,798 1963.2,799.7 1963.95,801.26 1964.7,798.09 1965.45,799.99 1966.2,798.96 1966.95,800.61 1967.7,799.04 1968.45,802.3 1969.2,796.96 1969.95,796.93 1970.7,801.95 1971.45,798.43 1972.2,801.13 1972.95,800.87 1973.7,795.49 1974.45,797.98 1975.2,798.23 1975.95,798.52 1976.7,795.93 1977.45,799.58 1978.2,799.8 1978.95,797.01 1979.7,799.41 1980.45,799.6 1981.2,795.53 1981.95,799.27 1982.7,802.3 1983.45,801.59 1984.2,797.09 1984.95,797.49 1985.7,799.76 1986.45,801.22 1987.2,802.13 1987.95,800.76 1988.7,801.71 1989.45,799.34 1990.2,804.23 1990.95,799.88 1991.7,797.31 1992.45,797.51 1993.2,795.02 1993.95,797.33 1994.7,799.17 1995.45,801.62 1996.2,802.76 1996.95,798.12 1997.7,798.21 1998.45,801.99 1999.2,803.32 1999.95,802.59 2000.7,800.68 2001.45,797.21 2002.2,797.81 2002.95,795.86 2003.7,798.39 2004.45,803.74 2005.2,804.59 2005.95,800.48 2006.7,802.27 2007.45,803.55 2008.2,797.71 2008.95,796.3 2009.7,797.4 2010.45,795.16 2011.2,801.29 2011.95,800.37 2012.7,799.72 2013.45,800.69 2014.2,801.73 2014.95,800.16 2015.7,797.71 2016.45,801.45 2017.2,799.59 2017.95,800.81 2018.7,794.02 2019.45,799.76 2020.2,796.78 2020.95,800.22 2021.7,800.37 2022.45,802.91 2023.2,798.76 2023.95,798.47 2024.7,801.34 2025.45,796.33 2026.2,801.51 2026.95,800.62 2027.7,799.64 2028.45,800.75 2029.2,799.8 2029.95,798.73 2030.7,801.94 2031.45,798.98 2032.2,800.77 2032.95,800.18 2033.7,798.76 2034.45,799.2 2035.2,801.28 2035.95,800.73 2036.7,804.57 2037.45,803.53 2038.2,800.67 2038.95,802.46 2039.7,796.27 2040.45,803.92 2041.2,798.04 2041.95,797.87 2042.7,802.78 2043.45,797.26 2044.2,798.86 2044.95,800.93 2045.7,796.15 2046.45,800.43 2047.2,803.2 2047.95,800.46 2048.7,804.74" fill="none" stroke="#9B1014" stroke-width="2.3" stroke-linejoin="round" stroke-linecap="round" />
<polyline points="1513.2,840.52 1513.95,833.76 1514.7,835.86 1515.45,834.74 1516.2,833.12 1516.95,833.69 1517.7,834.15 1518.45,835.45 1519.2,837.12 1519.95,838.6 1520.7,837.19 1521.45,838.86 1522.2,837.43 1522.95,836.19 1523.7,834.97 1524.45,832.75 1525.2,831.55 1525.95,835.05 1526.7,835.65 1527.45,836.87 1528.2,836.49 1528.95,832.78 1529.7,833.39 1530.45,833.45 1531.2,838.16 1531.95,836.34 1532.7,836.11 1533.45,833.55 1534.2,832.53 1534.95,834.31 1535.7,836.03 1536.45,836.87 1537.2,832.93 1537.95,836.31 1538.7,834.25 1539.45,834.72 1540.2,835.32 1540.95,835.53 1541.7,837.89 1542.45,839.1 1543.2,837.62 1543.95,835.63 1544.7,837.68 1545.45,838.17 1546.2,839.15 1546.95,837.17 1547.7,832.64 1548.45,834.19 1549.2,835.96 1549.95,838.99 1550.7,837.33 1551.45,839.29 1552.2,837.62 1552.95,834.22 1553.7,836.92 1554.45,838.63 1555.2,837.76 1555.95,833.8 1556.7,837.41 1557.45,835.08 1558.2,831.54 1558.95,834.23 1559.7,831.66 1560.45,833.92 1561.2,841.32 1561.95,844.39 1562.7,841.09 1563.45,839.59 1564.2,842.38 1564.95,838.6 1565.7,834.17 1566.45,831.34 1567.2,837.86 1567.95,831.13 1568.7,829.27 1569.45,834.79 1570.2,837.09 1570.95,835.83 1571.7,839.76 1572.45,843.53 1573.2,838.24 1573.95,838.55 1574.7,836.42 1575.45,838.83 1576.2,843.14 1576.95,836.31 1577.7,837.92 1578.45,838.84 1579.2,836.54 1579.95,836.7 1580.7,833.26 1581.45,835.98 1582.2,838.11 1582.95,840.92 1583.7,840.33 1584.45,836.27 1585.2,835.51 1585.95,842.27 1586.7,839.99 1587.45,833.26 1588.2,835.86 1588.95,835.19 1589.7,835.28 1590.45,833.14 1591.2,835.91 1591.95,836.29 1592.7,837.46 1593.45,840.44 1594.2,838.34 1594.95,834.21 1595.7,832.82 1596.45,836.3 1597.2,840.89 1597.95,840.43 1598.7,837.21 1599.45,840.69 1600.2,839.15 1600.95,836.66 1601.7,838.64 1602.45,837.36 1603.2,834.82 1603.95,836.34 1604.7,838.54 1605.45,840.72 1606.2,835.76 1606.95,837.91 1607.7,837.81 1608.45,837.05 1609.2,835.03 1609.95,840.76 1610.7,841.91 1611.45,842.19 1612.2,839.82 1612.95,841.49 1613.7,839.65 1614.45,839.85 1615.2,836.85 1615.95,837.45 1616.7,835.95 1617.45,834.09 1618.2,835.03 1618.95,833.5 1619.7,833.48 1620.45,835.18 1621.2,835.94 1621.95,842.4 1622.7,842.4 1623.45,840.36 1624.2,838.65 1624.95,834.77 1625.7,836.23 1626.45,832.61 1627.2,833.97 1627.95,834.65 1628.7,835.42 1629.45,837.84 1630.2,835.39 1630.95,841.57 1631.7,835.96 1632.45,837.2 1633.2,832.55 1633.95,836.95 1634.7,833.07 1635.45,835.68 1636.2,836.02 1636.95,837.9 1637.7,837.56 1638.45,836.67 1639.2,836.03 1639.95,840.13 1640.7,835.03 1641.45,835.04 1642.2,834.23 1642.95,835.11 1643.7,832.77 1644.45,834.06 1645.2,836.15 1645.95,834.18 1646.7,835.95 1647.45,834.51 1648.2,838.52 1648.95,836.15 1649.7,839.8 1650.45,837.12 1651.2,835.47 1651.95,838.04 1652.7,839.17 1653.45,840.13 1654.2,839.75 1654.95,837.63 1655.7,833.09 1656.45,837.18 1657.2,835.67 1657.95,836.88 1658.7,838.48 1659.45,834.66 1660.2,839.51 1660.95,842.31 1661.7,837.78 1662.45,835.56 1663.2,839.04 1663.95,837.09 1664.7,838.94 1665.45,838.75 1666.2,827.73 1666.95,835.46 1667.7,831.9 1668.45,833.81 1669.2,836.78 1669.95,832.99 1670.7,833.63 1671.45,834.84 1672.2,836.96 1672.95,837.45 1673.7,837.37 1674.45,834.97 1675.2,834.49 1675.95,836.86 1676.7,834.17 1677.45,834.46 1678.2,837.76 1678.95,834.59 1679.7,834.58 1680.45,839.26 1681.2,836.28 1681.95,830.93 1682.7,834.92 1683.45,842.73 1684.2,844.85 1684.95,837.74 1685.7,839.07 1686.45,839.44 1687.2,837.59 1687.95,833.2 1688.7,839.22 1689.45,838.36 1690.2,836.27 1690.95,833.01 1691.7,835.19 1692.45,836.88 1693.2,836.97 1693.95,837.92 1694.7,837.16 1695.45,840.3 1696.2,839.23 1696.95,834.86 1697.7,835.98 1698.45,838.44 1699.2,837.21 1699.95,841 1700.7,837.25 1701.45,838.63 1702.2,839.2 1702.95,835.95 1703.7,840.71 1704.45,837.82 1705.2,836.02 1705.95,835.51 1706.7,833.16 1707.45,834.77 1708.2,841.5 1708.95,838.51 1709.7,837.71 1710.45,839.04 1711.2,839.68 1711.95,836.65 1712.7,837.8 1713.45,839.58 1714.2,841.37 1714.95,840.35 1715.7,842.88 1716.45,838.7 1717.2,837.28 1717.95,835.15 1718.7,838.43 1719.45,840.37 1720.2,838.47 1720.95,838.02 1721.7,836.22 1722.45,836.98 1723.2,837.66 1723.95,839.11 1724.7,841.99 1725.45,841.23 1726.2,842.17 1726.95,842.37 1727.7,839.11 1728.45,842.51 1729.2,839.47 1729.95,835.85 1730.7,837.35 1731.45,838.39 1732.2,836.52 1732.95,844.69 1733.7,840.7 1734.45,841.26 1735.2,836.99 1735.95,839.55 1736.7,840.1 1737.45,838.04 1738.2,840.12 1738.95,840.07 1739.7,840.32 1740.45,837.22 1741.2,840.64 1741.95,839.11 1742.7,836.87 1743.45,834.1 1744.2,838.57 1744.95,840.04 1745.7,845.48 1746.45,838.68 1747.2,843.97 1747.95,844.15 1748.7,841.92 1749.45,841.31 1750.2,841.13 1750.95,837.45 1751.7,843.27 1752.45,839.93 1753.2,838.52 1753.95,839.15 1754.7,833.15 1755.45,835.73 1756.2,836.54 1756.95,836.51 1757.7,842.2 1758.45,845 1759.2,841.33 1759.95,840.15 1760.7,841.35 1761.45,839.81 1762.2,836.8 1762.95,841.95 1763.7,840.43 1764.45,839.94 1765.2,841.11 1765.95,841.56 1766.7,842.27 1767.45,837.22 1768.2,837.62 1768.95,839.78 1769.7,841.8 1770.45,838.75 1771.2,844.44 1771.95,845.18 1772.7,840.59 1773.45,843.15 1774.2,836.65 1774.95,839.81 1775.7,837.9 1776.45,843.99 1777.2,844.38 1777.95,843.04 1778.7,839.98 1779.45,838.82 1780.2,842.15 1780.95,840.93 1781.7,842.68 1782.45,838.28 1783.2,842.53 1783.95,842.48 1784.7,835.95 1785.45,837.61 1786.2,839.5 1786.95,839.58 1787.7,837.52 1788.45,841.02 1789.2,839.28 1789.95,840.81 1790.7,837.11 1791.45,844.26 1792.2,842.88 1792.95,838.27 1793.7,842.15 1794.45,846.33 1795.2,844.5 1795.95,840.34 1796.7,847.33 1797.45,842.38 1798.2,845.06 1798.95,845.25 1799.7,842.47 1800.45,836.14 1801.2,836.07 1801.95,841.95 1802.7,843.08 1803.45,842.06 1804.2,843.45 1804.95,846 1805.7,845.47 1806.45,842.09 1807.2,845.2 1807.95,846.35 1808.7,843.99 1809.45,843.17 1810.2,836.55 1810.95,838.43 1811.7,842.96 1812.45,839.99 1813.2,845.31 1813.95,846.21 1814.7,840.91 1815.45,840.03 1816.2,842.59 1816.95,844.3 1817.7,845.59 1818.45,843.34 1819.2,843.21 1819.95,841.27 1820.7,843.69 1821.45,842.29 1822.2,846.24 1822.95,845.3 1823.7,840.13 1824.45,843.65 1825.2,841.67 1825.95,845.52 1826.7,842.27 1827.45,847.2 1828.2,848.01 1828.95,849.55 1829.7,845.76 1830.45,844.91 1831.2,846.8 1831.95,841.65 1832.7,843.58 1833.45,843.5 1834.2,843.47 1834.95,839.75 1835.7,838.93 1836.45,840.12 1837.2,847.39 1837.95,844.55 1838.7,845.98 1839.45,844.48 1840.2,844.54 1840.95,846.97 1841.7,839.37 1842.45,843.01 1843.2,842.41 1843.95,841.61 1844.7,839.88 1845.45,839.98 1846.2,841.8 1846.95,847.01 1847.7,843.58 1848.45,843.58 1849.2,844.76 1849.95,847.07 1850.7,848.13 1851.45,846.15 1852.2,845.58 1852.95,846.32 1853.7,843.66 1854.45,846.3 1855.2,849.5 1855.95,844.18 1856.7,842.51 1857.45,841.38 1858.2,845.36 1858.95,847.04 1859.7,844.72 1860.45,845.18 1861.2,848.58 1861.95,846.6 1862.7,847.43 1863.45,845.73 1864.2,849.36 1864.95,848.66 1865.7,845.74 1866.45,845.47 1867.2,851.75 1867.95,844.03 1868.7,842.31 1869.45,839.82 1870.2,846.96 1870.95,846.63 1871.7,845.49 1872.45,842.46 1873.2,845.47 1873.95,843.95 1874.7,843.09 1875.45,845.51 1876.2,847.11 1876.95,846.08 1877.7,845.54 1878.45,848.32 1879.2,847.38 1879.95,846.07 1880.7,848.11 1881.45,848.07 1882.2,849.49 1882.95,849.52 1883.7,848.77 1884.45,846.2 1885.2,850.34 1885.95,849.73 1886.7,846.5 1887.45,849.93 1888.2,847.36 1888.95,844.59 1889.7,846.1 1890.45,844.35 1891.2,848.96 1891.95,845.06 1892.7,850.03 1893.45,845.62 1894.2,847.11 1894.95,850.57 1895.7,848.07 1896.45,843.37 1897.2,845.71 1897.95,843.11 1898.7,848.02 1899.45,845.19 1900.2,846.85 1900.95,846.6 1901.7,843.92 1902.45,848.54 1903.2,851.84 1903.95,845.88 1904.7,846.06 1905.45,848.9 1906.2,850.57 1906.95,846.17 1907.7,848.11 1908.45,849.23 1909.2,850.31 1909.95,847.24 1910.7,854.53 1911.45,853.46 1912.2,845.11 1912.95,845.66 1913.7,848.39 1914.45,846.44 1915.2,846.57 1915.95,847.66 1916.7,846.12 1917.45,846.48 1918.2,848.36 1918.95,847.5 1919.7,849.44 1920.45,851.5 1921.2,851.57 1921.95,849.85 1922.7,853.38 1923.45,848.62 1924.2,851.24 1924.95,853.41 1925.7,850.04 1926.45,850.47 1927.2,847.51 1927.95,847.1 1928.7,849.12 1929.45,850.09 1930.2,850.06 1930.95,850.65 1931.7,849.79 1932.45,848.47 1933.2,847.24 1933.95,848.37 1934.7,848.96 1935.45,848.48 1936.2,846.75 1936.95,852.1 1937.7,852.28 1938.45,849.84 1939.2,848.4 1939.95,851.52 1940.7,848.89 1941.45,848.69 1942.2,850.33 1942.95,848.14 1943.7,849.15 1944.45,848.36 1945.2,850.77 1945.95,850.88 1946.7,851.45 1947.45,850.86 1948.2,850.53 1948.95,850.82 1949.7,851.2 1950.45,847 1951.2,846.31 1951.95,849.34 1952.7,849.92 1953.45,849.65 1954.2,853.41 1954.95,851.89 1955.7,853 1956.45,849.93 1957.2,845.92 1957.95,846.33 1958.7,851.95 1959.45,850.19 1960.2,849.22 1960.95,853.53 1961.7,854.79 1962.45,852.09 1963.2,853.17 1963.95,849.41 1964.7,847 1965.45,846.11 1966.2,851.55 1966.95,846.64 1967.7,848.62 1968.45,850.44 1969.2,850.95 1969.95,845.83 1970.7,848.67 1971.45,848.79 1972.2,853.5 1972.95,850.21 1973.7,849.38 1974.45,854.39 1975.2,851.8 1975.95,852.59 1976.7,851.54 1977.45,850.56 1978.2,852.03 1978.95,848.59 1979.7,846.72 1980.45,848.76 1981.2,851.81 1981.95,850.42 1982.7,853.45 1983.45,852.99 1984.2,852 1984.95,853.73 1985.7,852.31 1986.45,851.69 1987.2,850.32 1987.95,850.54 1988.7,851.15 1989.45,854.12 1990.2,855.67 1990.95,854.38 1991.7,852.04 1992.45,851 1993.2,851.49 1993.95,849.87 1994.7,850.81 1995.45,850.39 1996.2,850.12 1996.95,845.51 1997.7,850.63 1998.45,852.5 1999.2,849.68 1999.95,855.3 2000.7,852.22 2001.45,858.25 2002.2,854.32 2002.95,850.77 2003.7,857.45 2004.45,851.23 2005.2,854.13 2005.95,855.71 2006.7,853.93 2007.45,851.99 2008.2,849.99 2008.95,851.2 2009.7,852.62 2010.45,853.41 2011.2,847.07 2011.95,852.05 2012.7,849.15 2013.45,849.94 2014.2,851.21 2014.95,850.63 2015.7,852.58 2016.45,848.47 2017.2,852.17 2017.95,849.65 2018.7,850.79 2019.45,851.25 2020.2,848.86 2020.95,853.45 2021.7,857.26 2022.45,851.12 2023.2,850.41 2023.95,856.22 2024.7,856.13 2025.45,847.88 2026.2,850.4 2026.95,850.36 2027.7,852.46 2028.45,851.87 2029.2,849.81 2029.95,851.47 2030.7,860.35 2031.45,850.79 2032.2,853 2032.95,854.87 2033.7,857.2 2034.45,854.43 2035.2,853.07 2035.95,850.62 2036.7,853.51 2037.45,856.29 2038.2,854.89 2038.95,855.8 2039.7,852.49 2040.45,854.52 2041.2,852.34 2041.95,850.92 2042.7,851.66 2043.45,855.88 2044.2,854.83 2044.95,852.75 2045.7,852.71 2046.45,854.8 2047.2,852.81 2047.95,855.86 2048.7,854.4" fill="none" stroke="#E41A1C" stroke-width="2.3" stroke-linejoin="round" stroke-linecap="round" />
<polyline points="1513.2,882.57 1513.95,880.22 1514.7,888.76 1515.45,893.53 1516.2,887.77 1516.95,888.97 1517.7,889.21 1518.45,888.02 1519.2,888.01 1519.95,888.36 1520.7,884.12 1521.45,879.95 1522.2,880 1522.95,886.39 1523.7,886.69 1524.45,884.34 1525.2,878.88 1525.95,883.65 1526.7,884.67 1527.45,882.37 1528.2,883.91 1528.95,891.64 1529.7,890.52 1530.45,888.52 1531.2,886.67 1531.95,884.51 1532.7,884.93 1533.45,887.24 1534.2,883.81 1534.95,885.69 1535.7,889.85 1536.45,882.92 1537.2,884.19 1537.95,890.88 1538.7,888.11 1539.45,886.57 1540.2,883.52 1540.95,882.68 1541.7,888 1542.45,880.14 1543.2,886.45 1543.95,885.23 1544.7,885.25 1545.45,881.34 1546.2,888.54 1546.95,888.93 1547.7,888.07 1548.45,887.59 1549.2,883.5 1549.95,887.1 1550.7,888.4 1551.45,885.72 1552.2,878.43 1552.95,885.59 1553.7,887.01 1554.45,884.31 1555.2,887.6 1555.95,890.95 1556.7,888.36 1557.45,890.86 1558.2,886.36 1558.95,885.52 1559.7,887.71 1560.45,884.69 1561.2,882.94 1561.95,888.07 1562.7,888.33 1563.45,889.23 1564.2,885.73 1564.95,886.74 1565.7,889.1 1566.45,887 1567.2,887.58 1567.95,888.55 1568.7,886.53 1569.45,888.15 1570.2,884.79 1570.95,890.43 1571.7,896.45 1572.45,891.42 1573.2,887.2 1573.95,883.65 1574.7,884.8 1575.45,887.23 1576.2,886.88 1576.95,882.82 1577.7,889.94 1578.45,891.1 1579.2,889.14 1579.95,891.8 1580.7,892.86 1581.45,887.27 1582.2,888.48 1582.95,888.81 1583.7,889.48 1584.45,892.25 1585.2,888.51 1585.95,886.18 1586.7,884.69 1587.45,884.73 1588.2,888.86 1588.95,891.82 1589.7,889.58 1590.45,887.15 1591.2,888.19 1591.95,887.26 1592.7,891.8 1593.45,890.76 1594.2,893.67 1594.95,892.03 1595.7,890.89 1596.45,887.19 1597.2,890.05 1597.95,888.14 1598.7,887.58 1599.45,890.08 1600.2,893.81 1600.95,891.98 1601.7,895 1602.45,891.06 1603.2,885.25 1603.95,887.64 1604.7,893.95 1605.45,891.17 1606.2,888.96 1606.95,887.49 1607.7,888.99 1608.45,889.52 1609.2,887.43 1609.95,888.12 1610.7,888.52 1611.45,885.25 1612.2,886.63 1612.95,885.65 1613.7,885.53 1614.45,884.89 1615.2,878.66 1615.95,892.88 1616.7,891.86 1617.45,887.93 1618.2,887.99 1618.95,885.4 1619.7,887.46 1620.45,889.08 1621.2,892.27 1621.95,892.13 1622.7,887.19 1623.45,891.42 1624.2,888.16 1624.95,889.86 1625.7,887.11 1626.45,888.24 1627.2,885.72 1627.95,882.68 1628.7,886.82 1629.45,885.23 1630.2,885.38 1630.95,886.45 1631.7,887.99 1632.45,891.75 1633.2,883.2 1633.95,882.89 1634.7,882.74 1635.45,887.62 1636.2,884.18 1636.95,883.03 1637.7,885.44 1638.45,884.92 1639.2,885 1639.95,880.31 1640.7,883.57 1641.45,885.13 1642.2,882.89 1642.95,886.59 1643.7,883.41 1644.45,881.08 1645.2,882.06 1645.95,884.85 1646.7,885.89 1647.45,882.41 1648.2,884.1 1648.95,881.8 1649.7,879.81 1650.45,880 1651.2,883.98 1651.95,881.73 1652.7,883.4 1653.45,887.29 1654.2,885.55 1654.95,881.55 1655.7,881.49 1656.45,881.96 1657.2,877.03 1657.95,882.76 1658.7,880.84 1659.45,883.48 1660.2,880.4 1660.95,881.24 1661.7,884.41 1662.45,884.94 1663.2,887 1663.95,881.42 1664.7,880.99 1665.45,886.13 1666.2,883.79 1666.95,879.19 1667.7,880.71 1668.45,883 1669.2,880.63 1669.95,878.36 1670.7,882.14 1671.45,884.2 1672.2,886.55 1672.95,886.37 1673.7,884.86 1674.45,874.6 1675.2,878.81 1675.95,879.87 1676.7,884.35 1677.45,884.78 1678.2,878.68 1678.95,884.15 1679.7,886.38 1680.45,887.94 1681.2,886.35 1681.95,886.33 1682.7,884.36 1683.45,882.79 1684.2,883.08 1684.95,883.02 1685.7,880.65 1686.45,883.46 1687.2,886.38 1687.95,884.05 1688.7,886.83 1689.45,882.5 1690.2,884.64 1690.95,882.81 1691.7,887.13 1692.45,887.16 1693.2,887.69 1693.95,887.36 1694.7,886.82 1695.45,888 1696.2,884.8 1696.95,878.57 1697.7,884.54 1698.45,885.54 1699.2,879.81 1699.95,887.38 1700.7,886.07 1701.45,888.01 1702.2,885.26 1702.95,885.64 1703.7,883.48 1704.45,884.15 1705.2,881.73 1705.95,885.8 1706.7,884.84 1707.45,883.93 1708.2,883.57 1708.95,883.4 1709.7,885.86 1710.45,886.04 1711.2,886.27 1711.95,889.66 1712.7,884.26 1713.45,884.68 1714.2,883.11 1714.95,885.64 1715.7,885.7 1716.45,882.4 1717.2,886.51 1717.95,881.78 1718.7,884.98 1719.45,885.93 1720.2,884.53 1720.95,890.73 1721.7,888.15 1722.45,884.5 1723.2,888.44 1723.95,888.86 1724.7,886.31 1725.45,886.01 1726.2,891.26 1726.95,894.83 1727.7,890.78 1728.45,893.4 1729.2,884.09 1729.95,883.47 1730.7,887.85 1731.45,887.09 1732.2,889.89 1732.95,893.38 1733.7,887.07 1734.45,889.64 1735.2,888.55 1735.95,885.52 1736.7,887.5 1737.45,885.98 1738.2,888.75 1738.95,893.61 1739.7,893.27 1740.45,892.82 1741.2,890.15 1741.95,889.19 1742.7,895 1743.45,890.86 1744.2,891.44 1744.95,892.83 1745.7,890.23 1746.45,891.23 1747.2,890.35 1747.95,891.46 1748.7,892.21 1749.45,887.13 1750.2,889.81 1750.95,888.94 1751.7,889.86 1752.45,892.05 1753.2,893.8 1753.95,886.41 1754.7,894.12 1755.45,889.56 1756.2,894.01 1756.95,888.65 1757.7,891.15 1758.45,890.72 1759.2,885.7 1759.95,886.38 1760.7,892.98 1761.45,890.48 1762.2,885.96 1762.95,889.66 1763.7,891.04 1764.45,894.93 1765.2,889.68 1765.95,889.43 1766.7,890.34 1767.45,892.6 1768.2,893.38 1768.95,894.35 1769.7,896.63 1770.45,892.9 1771.2,896.09 1771.95,893.17 1772.7,894.51 1773.45,895.69 1774.2,896.88 1774.95,891.24 1775.7,896.95 1776.45,887.99 1777.2,891 1777.95,891.81 1778.7,892.84 1779.45,895.46 1780.2,888.05 1780.95,889.11 1781.7,895.35 1782.45,897.18 1783.2,890.22 1783.95,890.98 1784.7,894.52 1785.45,894.09 1786.2,888.92 1786.95,891.68 1787.7,890.91 1788.45,889.48 1789.2,891.66 1789.95,890.24 1790.7,890.24 1791.45,898.41 1792.2,892.26 1792.95,891.06 1793.7,897.69 1794.45,892.96 1795.2,890.99 1795.95,885.84 1796.7,888.85 1797.45,896.4 1798.2,891.75 1798.95,892.03 1799.7,893.01 1800.45,894.99 1801.2,898.38 1801.95,889.64 1802.7,889.57 1803.45,897.85 1804.2,896.96 1804.95,897.02 1805.7,898 1806.45,894.92 1807.2,896.67 1807.95,898.2 1808.7,898.88 1809.45,895.19 1810.2,891.17 1810.95,892.04 1811.7,893.57 1812.45,893.99 1813.2,897.17 1813.95,892.52 1814.7,895.51 1815.45,893.95 1816.2,895.82 1816.95,899.38 1817.7,898.17 1818.45,893.9 1819.2,895.3 1819.95,897.8 1820.7,896.14 1821.45,898.62 1822.2,899.14 1822.95,895.1 1823.7,897.59 1824.45,901.2 1825.2,897.75 1825.95,894.51 1826.7,898.9 1827.45,896.02 1828.2,895.15 1828.95,897.01 1829.7,897.74 1830.45,894.81 1831.2,896.84 1831.95,898.07 1832.7,898.42 1833.45,895.87 1834.2,894.07 1834.95,896.17 1835.7,897.32 1836.45,897.28 1837.2,898.92 1837.95,896.98 1838.7,893.04 1839.45,897.7 1840.2,898.37 1840.95,892.61 1841.7,898.08 1842.45,899.39 1843.2,898.4 1843.95,898.03 1844.7,895.14 1845.45,898.14 1846.2,897.99 1846.95,894.98 1847.7,898.62 1848.45,899.84 1849.2,897.75 1849.95,902.39 1850.7,899.01 1851.45,898.31 1852.2,899.16 1852.95,898.17 1853.7,897.22 1854.45,895.46 1855.2,892.28 1855.95,893.22 1856.7,897.81 1857.45,901.27 1858.2,895.87 1858.95,891.14 1859.7,898.04 1860.45,894.58 1861.2,895.04 1861.95,898.34 1862.7,898.4 1863.45,898.05 1864.2,896.2 1864.95,896.1 1865.7,899.41 1866.45,900.72 1867.2,900.79 1867.95,901.35 1868.7,900.51 1869.45,897.78 1870.2,899.36 1870.95,898.21 1871.7,896.83 1872.45,903.1 1873.2,901.91 1873.95,897.36 1874.7,897.21 1875.45,898.8 1876.2,898.58 1876.95,897.83 1877.7,898.64 1878.45,902.31 1879.2,898.25 1879.95,897.43 1880.7,901.85 1881.45,898.75 1882.2,897.56 1882.95,896.82 1883.7,898.44 1884.45,898.07 1885.2,898.16 1885.95,898.49 1886.7,898.98 1887.45,895.32 1888.2,895.97 1888.95,897.54 1889.7,898.78 1890.45,898.35 1891.2,899.15 1891.95,899.27 1892.7,898.36 1893.45,894.23 1894.2,903.96 1894.95,899.99 1895.7,898.62 1896.45,901.44 1897.2,900.43 1897.95,898 1898.7,902.08 1899.45,893.85 1900.2,899.99 1900.95,901.09 1901.7,901.6 1902.45,898.98 1903.2,893.01 1903.95,894.88 1904.7,899.46 1905.45,896.47 1906.2,903.22 1906.95,904.14 1907.7,896.72 1908.45,901.22 1909.2,903.34 1909.95,906.28 1910.7,899.44 1911.45,901.32 1912.2,902.04 1912.95,897.09 1913.7,897.49 1914.45,901.16 1915.2,899.66 1915.95,897.06 1916.7,896.66 1917.45,898.78 1918.2,898.34 1918.95,901.16 1919.7,900.83 1920.45,904.44 1921.2,899.84 1921.95,898.98 1922.7,901.64 1923.45,902.24 1924.2,897.91 1924.95,897.89 1925.7,897.24 1926.45,896.85 1927.2,899.79 1927.95,901.01 1928.7,898.48 1929.45,897.16 1930.2,898.11 1930.95,904.71 1931.7,902.18 1932.45,901.41 1933.2,898.77 1933.95,898.47 1934.7,899.6 1935.45,899.14 1936.2,897.17 1936.95,900.31 1937.7,899.61 1938.45,901.44 1939.2,902.96 1939.95,901.96 1940.7,900.47 1941.45,906.28 1942.2,905.77 1942.95,903.7 1943.7,904 1944.45,900.85 1945.2,903.06 1945.95,904.66 1946.7,903.66 1947.45,900.26 1948.2,900.41 1948.95,899.37 1949.7,901.11 1950.45,902.76 1951.2,896.38 1951.95,896.8 1952.7,901.15 1953.45,901.95 1954.2,901.87 1954.95,904.72 1955.7,900.2 1956.45,898.26 1957.2,900 1957.95,899.07 1958.7,905.34 1959.45,907.27 1960.2,902.22 1960.95,901.91 1961.7,902.8 1962.45,903.36 1963.2,901.11 1963.95,899.77 1964.7,903.63 1965.45,905.04 1966.2,899.76 1966.95,898.24 1967.7,901.52 1968.45,906.84 1969.2,900.55 1969.95,899.6 1970.7,902.95 1971.45,896.93 1972.2,901.25 1972.95,904.46 1973.7,899.39 1974.45,900.56 1975.2,905.61 1975.95,905.31 1976.7,904.71 1977.45,902.2 1978.2,902.48 1978.95,901.48 1979.7,904.88 1980.45,905.18 1981.2,905.29 1981.95,901.41 1982.7,902.41 1983.45,904.23 1984.2,905.57 1984.95,901.17 1985.7,903.96 1986.45,902.56 1987.2,902.21 1987.95,901.16 1988.7,904.24 1989.45,904.13 1990.2,900.82 1990.95,905.25 1991.7,901.24 1992.45,903.79 1993.2,905.93 1993.95,899.2 1994.7,898.19 1995.45,903.66 1996.2,904.93 1996.95,904.34 1997.7,904.65 1998.45,901.21 1999.2,903.94 1999.95,904.42 2000.7,904.63 2001.45,902.62 2002.2,909.43 2002.95,902.99 2003.7,898.16 2004.45,899.31 2005.2,900.36 2005.95,906.45 2006.7,906.39 2007.45,904.75 2008.2,905.17 2008.95,904.07 2009.7,906.12 2010.45,902.93 2011.2,907.68 2011.95,905.93 2012.7,907.06 2013.45,899.23 2014.2,901.26 2014.95,903.57 2015.7,903.22 2016.45,900.45 2017.2,905.68 2017.95,904.1 2018.7,899.77 2019.45,899.71 2020.2,901.11 2020.95,901.73 2021.7,903.9 2022.45,904.25 2023.2,905.69 2023.95,904.82 2024.7,900.05 2025.45,905.69 2026.2,899.4 2026.95,902.49 2027.7,901.32 2028.45,900.25 2029.2,905.15 2029.95,899.78 2030.7,901.57 2031.45,900.96 2032.2,904.16 2032.95,902.36 2033.7,903.64 2034.45,905.13 2035.2,904.63 2035.95,905.18 2036.7,905.21 2037.45,905.68 2038.2,900.98 2038.95,896.15 2039.7,899.84 2040.45,900.29 2041.2,902.06 2041.95,903.38 2042.7,902.97 2043.45,899.94 2044.2,899.08 2044.95,904.84 2045.7,905.68 2046.45,904.26 2047.2,906.54 2047.95,904.42 2048.7,901.61" fill="none" stroke="#EC6464" stroke-width="2.3" stroke-linejoin="round" stroke-linecap="round" />
<polyline points="1513.2,934.86 1513.95,941.91 1514.7,939.83 1515.45,937.62 1516.2,940.43 1516.95,937.42 1517.7,944.56 1518.45,941.36 1519.2,939.38 1519.95,940.59 1520.7,936.61 1521.45,940.56 1522.2,942.51 1522.95,942.55 1523.7,940.76 1524.45,937.1 1525.2,939.42 1525.95,936.35 1526.7,939.49 1527.45,938.01 1528.2,938 1528.95,942.48 1529.7,946.14 1530.45,944.69 1531.2,939.69 1531.95,938.66 1532.7,937.46 1533.45,938.56 1534.2,940.75 1534.95,941.57 1535.7,939.64 1536.45,940.03 1537.2,937.51 1537.95,939.47 1538.7,944.54 1539.45,945.1 1540.2,942.83 1540.95,941.5 1541.7,941.36 1542.45,938.93 1543.2,938.07 1543.95,941.61 1544.7,938.8 1545.45,941.41 1546.2,938.49 1546.95,941.4 1547.7,945.88 1548.45,943.67 1549.2,941.65 1549.95,941.63 1550.7,938.21 1551.45,943.21 1552.2,939.85 1552.95,939.15 1553.7,939.78 1554.45,941.56 1555.2,940 1555.95,940.34 1556.7,943.11 1557.45,943.34 1558.2,945.79 1558.95,945.35 1559.7,945.32 1560.45,940.09 1561.2,942.5 1561.95,944.33 1562.7,945.01 1563.45,942.54 1564.2,944.68 1564.95,945.52 1565.7,940.68 1566.45,940.12 1567.2,940.72 1567.95,942.93 1568.7,940.47 1569.45,942.66 1570.2,941.73 1570.95,939.94 1571.7,939.4 1572.45,949.04 1573.2,948.07 1573.95,946.14 1574.7,940.46 1575.45,945.17 1576.2,942.74 1576.95,940.29 1577.7,941.76 1578.45,943.16 1579.2,947.94 1579.95,945.03 1580.7,944.21 1581.45,945.46 1582.2,945.06 1582.95,941.7 1583.7,946.75 1584.45,945.69 1585.2,947.6 1585.95,948.83 1586.7,945.1 1587.45,949.93 1588.2,944.35 1588.95,942.65 1589.7,939.26 1590.45,946.89 1591.2,944.17 1591.95,942.58 1592.7,942.88 1593.45,939.84 1594.2,947.47 1594.95,946.29 1595.7,943.46 1596.45,941.46 1597.2,938.63 1597.95,941.62 1598.7,944.46 1599.45,943.56 1600.2,948.59 1600.95,946.45 1601.7,943.03 1602.45,944.28 1603.2,943.29 1603.95,940.7 1604.7,940.75 1605.45,938.21 1606.2,941.1 1606.95,944.2 1607.7,941.61 1608.45,945.57 1609.2,941.79 1609.95,943.11 1610.7,942.13 1611.45,938.79 1612.2,937.54 1612.95,941.22 1613.7,942.18 1614.45,939.99 1615.2,938.04 1615.95,931.82 1616.7,936.63 1617.45,941.23 1618.2,941.64 1618.95,939.25 1619.7,936.46 1620.45,939.42 1621.2,937.29 1621.95,945.58 1622.7,940.37 1623.45,934.63 1624.2,935.26 1624.95,936.63 1625.7,936.79 1626.45,936.15 1627.2,937.69 1627.95,937.29 1628.7,933.49 1629.45,934.23 1630.2,936.19 1630.95,931.3 1631.7,930.85 1632.45,927.45 1633.2,930.76 1633.95,938.14 1634.7,938.46 1635.45,932.89 1636.2,936.63 1636.95,933.9 1637.7,932.71 1638.45,931.61 1639.2,933.3 1639.95,928.18 1640.7,933.72 1641.45,931.48 1642.2,929.5 1642.95,926.4 1643.7,935.22 1644.45,932.55 1645.2,930.22 1645.95,929.66 1646.7,931.03 1647.45,927.84 1648.2,929.27 1648.95,929.98 1649.7,926.3 1650.45,926.29 1651.2,929.92 1651.95,925.33 1652.7,924.99 1653.45,928.83 1654.2,933 1654.95,931.74 1655.7,925.75 1656.45,930.73 1657.2,923.61 1657.95,924.69 1658.7,927.23 1659.45,928.67 1660.2,928.22 1660.95,926.46 1661.7,920.42 1662.45,920.6 1663.2,924.82 1663.95,926.44 1664.7,925.05 1665.45,923.52 1666.2,925.73 1666.95,926.19 1667.7,918.3 1668.45,927.44 1669.2,929.83 1669.95,926.83 1670.7,923.29 1671.45,924.41 1672.2,925.55 1672.95,929.96 1673.7,926.65 1674.45,927.25 1675.2,927.58 1675.95,925.26 1676.7,922.59 1677.45,920.08 1678.2,922.76 1678.95,926.87 1679.7,926.52 1680.45,920.28 1681.2,923.19 1681.95,925.23 1682.7,926.85 1683.45,924.22 1684.2,924.06 1684.95,925.2 1685.7,926.35 1686.45,925.23 1687.2,923.3 1687.95,924.54 1688.7,925.46 1689.45,924.11 1690.2,924.94 1690.95,924.51 1691.7,922.54 1692.45,929.75 1693.2,926.79 1693.95,928.83 1694.7,931.46 1695.45,927.53 1696.2,924.4 1696.95,925.71 1697.7,924.36 1698.45,925.68 1699.2,928.1 1699.95,925.43 1700.7,928.11 1701.45,928.37 1702.2,931.22 1702.95,929.36 1703.7,929.87 1704.45,929.12 1705.2,926.52 1705.95,926.27 1706.7,924.74 1707.45,925.36 1708.2,932.26 1708.95,926.71 1709.7,930.54 1710.45,927.72 1711.2,925.51 1711.95,928.48 1712.7,931.13 1713.45,931.85 1714.2,932.01 1714.95,929.41 1715.7,929.82 1716.45,927.33 1717.2,927.31 1717.95,931.19 1718.7,931.97 1719.45,929.45 1720.2,929.45 1720.95,928.41 1721.7,929.42 1722.45,922.5 1723.2,930.26 1723.95,930.41 1724.7,931.04 1725.45,935.64 1726.2,930.02 1726.95,931.89 1727.7,932.98 1728.45,930.28 1729.2,933.41 1729.95,930.36 1730.7,933.02 1731.45,933.64 1732.2,935.85 1732.95,930.05 1733.7,937.58 1734.45,941.35 1735.2,936.03 1735.95,931.66 1736.7,933.77 1737.45,931.84 1738.2,936.41 1738.95,935.37 1739.7,933.24 1740.45,939.55 1741.2,936.61 1741.95,939.76 1742.7,936.06 1743.45,935.18 1744.2,933.92 1744.95,937.56 1745.7,936.98 1746.45,936.2 1747.2,942.24 1747.95,939.58 1748.7,943.88 1749.45,939.87 1750.2,934.22 1750.95,935.1 1751.7,940.46 1752.45,944.37 1753.2,940.1 1753.95,937.74 1754.7,938.85 1755.45,944.12 1756.2,945.56 1756.95,941.42 1757.7,939.07 1758.45,939.23 1759.2,943.51 1759.95,940.36 1760.7,942.49 1761.45,943.5 1762.2,947.25 1762.95,939.55 1763.7,940.56 1764.45,943.25 1765.2,947.6 1765.95,944.94 1766.7,947.62 1767.45,943.58 1768.2,940.49 1768.95,943.81 1769.7,949.15 1770.45,945.46 1771.2,943.82 1771.95,945.82 1772.7,945.31 1773.45,948.09 1774.2,948.85 1774.95,950.61 1775.7,950.84 1776.45,954.11 1777.2,945.99 1777.95,949.9 1778.7,941.65 1779.45,949.25 1780.2,947.6 1780.95,947.77 1781.7,947.93 1782.45,950.34 1783.2,949.45 1783.95,951.7 1784.7,950.46 1785.45,953.64 1786.2,956.95 1786.95,952.57 1787.7,951.28 1788.45,948.8 1789.2,950.81 1789.95,949.92 1790.7,948.06 1791.45,949.27 1792.2,955.22 1792.95,946.75 1793.7,946.46 1794.45,947.81 1795.2,950.51 1795.95,950.62 1796.7,952.55 1797.45,952.65 1798.2,951.54 1798.95,948.75 1799.7,950.07 1800.45,954.48 1801.2,954.92 1801.95,951.65 1802.7,952.9 1803.45,949.98 1804.2,948.94 1804.95,948.73 1805.7,954.89 1806.45,957.94 1807.2,954.03 1807.95,954.34 1808.7,954.61 1809.45,951.79 1810.2,947.73 1810.95,954.67 1811.7,954.79 1812.45,956.61 1813.2,953.19 1813.95,952.87 1814.7,959.04 1815.45,958.93 1816.2,955.15 1816.95,949.94 1817.7,944.14 1818.45,951 1819.2,953.52 1819.95,953.2 1820.7,953.39 1821.45,954.96 1822.2,949.5 1822.95,948.52 1823.7,953.25 1824.45,955.07 1825.2,955.07 1825.95,958.72 1826.7,953.57 1827.45,952.8 1828.2,952.88 1828.95,951.87 1829.7,955.96 1830.45,955.92 1831.2,957.37 1831.95,949.5 1832.7,950.72 1833.45,956.89 1834.2,955.92 1834.95,954.33 1835.7,955.63 1836.45,956.57 1837.2,953.74 1837.95,957.82 1838.7,956.87 1839.45,954.82 1840.2,954.76 1840.95,957.73 1841.7,954.99 1842.45,953.01 1843.2,951.35 1843.95,953.22 1844.7,954.81 1845.45,952.63 1846.2,953.87 1846.95,957.66 1847.7,954.08 1848.45,957.09 1849.2,955.74 1849.95,949.14 1850.7,955.9 1851.45,955.13 1852.2,952.32 1852.95,954 1853.7,953.78 1854.45,954.65 1855.2,954.79 1855.95,957.92 1856.7,957.51 1857.45,959.12 1858.2,959 1858.95,954.48 1859.7,956.85 1860.45,957.18 1861.2,953.63 1861.95,959.16 1862.7,957.66 1863.45,956.64 1864.2,957.11 1864.95,954.53 1865.7,957.57 1866.45,959.88 1867.2,960.69 1867.95,957.98 1868.7,957.05 1869.45,954.99 1870.2,950.44 1870.95,954.5 1871.7,955.82 1872.45,958.32 1873.2,956.92 1873.95,957.01 1874.7,959.99 1875.45,958.3 1876.2,957.86 1876.95,953.88 1877.7,954.9 1878.45,954.56 1879.2,958.47 1879.95,956.42 1880.7,955.27 1881.45,955.91 1882.2,956.23 1882.95,960.68 1883.7,961.61 1884.45,959.54 1885.2,958.33 1885.95,961.93 1886.7,960.57 1887.45,959.92 1888.2,955.77 1888.95,957.15 1889.7,957.58 1890.45,953.3 1891.2,954.41 1891.95,958.14 1892.7,954.19 1893.45,958.91 1894.2,958.62 1894.95,957.69 1895.7,956.69 1896.45,957.66 1897.2,960.8 1897.95,954.64 1898.7,957.51 1899.45,959.42 1900.2,958.53 1900.95,957 1901.7,956.45 1902.45,957.98 1903.2,960.45 1903.95,958.02 1904.7,956.66 1905.45,956.42 1906.2,960.09 1906.95,955.75 1907.7,958.63 1908.45,958.16 1909.2,957.7 1909.95,960.66 1910.7,962.05 1911.45,959.81 1912.2,961.49 1912.95,959.25 1913.7,958.07 1914.45,956.04 1915.2,957.17 1915.95,962.9 1916.7,959.02 1917.45,954.53 1918.2,959.55 1918.95,959.55 1919.7,957.09 1920.45,960.45 1921.2,958.33 1921.95,953.14 1922.7,956.88 1923.45,958.48 1924.2,961.2 1924.95,959.79 1925.7,959.72 1926.45,958.66 1927.2,959.17 1927.95,959.3 1928.7,961.74 1929.45,960.1 1930.2,961.22 1930.95,961.32 1931.7,965.69 1932.45,959.4 1933.2,959.31 1933.95,955.32 1934.7,957.27 1935.45,967.83 1936.2,957.16 1936.95,958.27 1937.7,957.8 1938.45,957.42 1939.2,956.49 1939.95,958.76 1940.7,960.47 1941.45,960.27 1942.2,957.39 1942.95,959.07 1943.7,955.83 1944.45,962.46 1945.2,959.93 1945.95,961.13 1946.7,956.29 1947.45,963.86 1948.2,964.37 1948.95,960.43 1949.7,962.67 1950.45,960.52 1951.2,961.44 1951.95,959.52 1952.7,959.38 1953.45,955.14 1954.2,953.15 1954.95,957.22 1955.7,959.74 1956.45,965.88 1957.2,960.2 1957.95,964.2 1958.7,959.04 1959.45,956.55 1960.2,958.24 1960.95,959.88 1961.7,957.92 1962.45,963.66 1963.2,959.4 1963.95,959.15 1964.7,957.26 1965.45,958.78 1966.2,963.38 1966.95,957.51 1967.7,960.58 1968.45,958.98 1969.2,957.17 1969.95,958.94 1970.7,956.06 1971.45,961.95 1972.2,961.9 1972.95,960.31 1973.7,960.74 1974.45,962.2 1975.2,959.68 1975.95,960.21 1976.7,957.09 1977.45,959.71 1978.2,959.97 1978.95,959.11 1979.7,960.13 1980.45,963.44 1981.2,961.33 1981.95,965.58 1982.7,960.94 1983.45,960.61 1984.2,959.25 1984.95,960.09 1985.7,960.05 1986.45,958.42 1987.2,961.59 1987.95,960.11 1988.7,959 1989.45,956.58 1990.2,957.74 1990.95,964.53 1991.7,963.8 1992.45,955.81 1993.2,958.6 1993.95,959.92 1994.7,961.44 1995.45,959.74 1996.2,960.12 1996.95,958.69 1997.7,959.34 1998.45,961.74 1999.2,957.15 1999.95,957.24 2000.7,960.82 2001.45,961.26 2002.2,963.03 2002.95,957.95 2003.7,957.64 2004.45,964.15 2005.2,961.9 2005.95,966.62 2006.7,965.69 2007.45,960.61 2008.2,960.21 2008.95,963.13 2009.7,961.47 2010.45,964.37 2011.2,965.41 2011.95,965.95 2012.7,961.42 2013.45,963.01 2014.2,963.26 2014.95,965.65 2015.7,970.7 2016.45,964.12 2017.2,962.98 2017.95,960.67 2018.7,965.4 2019.45,967.08 2020.2,957.33 2020.95,964.2 2021.7,960.36 2022.45,958.08 2023.2,960.31 2023.95,961.69 2024.7,964.85 2025.45,965.34 2026.2,961.37 2026.95,963.69 2027.7,963.85 2028.45,961.07 2029.2,959.06 2029.95,961.61 2030.7,962.72 2031.45,960.66 2032.2,961.01 2032.95,964.13 2033.7,964.42 2034.45,964.69 2035.2,961.99 2035.95,957.76 2036.7,960.4 2037.45,964.87 2038.2,960.37 2038.95,962.14 2039.7,961.68 2040.45,959.12 2041.2,963.75 2041.95,964.03 2042.7,961.13 2043.45,960.27 2044.2,960.65 2044.95,961.14 2045.7,962.3 2046.45,964.28 2047.2,963.48 2047.95,960.5 2048.7,964.61" fill="none" stroke="#F08C8C" stroke-width="2.3" stroke-linejoin="round" stroke-linecap="round" />
<polyline points="1513.2,1003.93 1513.95,1002.73 1514.7,1005.51 1515.45,1008.42 1516.2,1009.23 1516.95,1006.62 1517.7,1004.69 1518.45,1003.63 1519.2,1002.84 1519.95,1001.09 1520.7,999.42 1521.45,999.81 1522.2,1006.56 1522.95,1005.4 1523.7,1006.71 1524.45,1001.73 1525.2,1004.96 1525.95,1005.25 1526.7,1006.57 1527.45,1005.04 1528.2,1007.75 1528.95,1008.54 1529.7,1008.11 1530.45,999.98 1531.2,1001.95 1531.95,1009.44 1532.7,1012.65 1533.45,1007.62 1534.2,1005.33 1534.95,1008.52 1535.7,1006.69 1536.45,1006.79 1537.2,1009.19 1537.95,1005.75 1538.7,1001.25 1539.45,1003.66 1540.2,1006.82 1540.95,1004.19 1541.7,1006.37 1542.45,1005 1543.2,1007.02 1543.95,1005.37 1544.7,1008.08 1545.45,1005.2 1546.2,1003.56 1546.95,1007.3 1547.7,1007.5 1548.45,1006.25 1549.2,1002.47 1549.95,1005.12 1550.7,1008.88 1551.45,1007.15 1552.2,1004.19 1552.95,1009.5 1553.7,1008.24 1554.45,1006.62 1555.2,1005.54 1555.95,1006.48 1556.7,1007.11 1557.45,1001.06 1558.2,1004.58 1558.95,1003.79 1559.7,1007.62 1560.45,1007.49 1561.2,1007.35 1561.95,1008.83 1562.7,1012.3 1563.45,1012.1 1564.2,1005.55 1564.95,1011.31 1565.7,1007.67 1566.45,1003.65 1567.2,1009.76 1567.95,1005.75 1568.7,1005.98 1569.45,1009.59 1570.2,1007.6 1570.95,1008.55 1571.7,1011.1 1572.45,1008.16 1573.2,1001.22 1573.95,1005.4 1574.7,1003.98 1575.45,1003.82 1576.2,1004.41 1576.95,1008.18 1577.7,1008.47 1578.45,1008.13 1579.2,1010.93 1579.95,1009.01 1580.7,1008.2 1581.45,1011.16 1582.2,1010.45 1582.95,1009.86 1583.7,1011.86 1584.45,1011.21 1585.2,1009.58 1585.95,1008.8 1586.7,1007.37 1587.45,1007.26 1588.2,1014.58 1588.95,1009.82 1589.7,1003.31 1590.45,1008.17 1591.2,1006.86 1591.95,1006.14 1592.7,1007.94 1593.45,1010.15 1594.2,1011.86 1594.95,1008.99 1595.7,1008.88 1596.45,1009.57 1597.2,1002.92 1597.95,1003.7 1598.7,1005.35 1599.45,1011.18 1600.2,1008.3 1600.95,1005.88 1601.7,1005.95 1602.45,1005.61 1603.2,1009.27 1603.95,1009.1 1604.7,1010.43 1605.45,1010.96 1606.2,1011.16 1606.95,1009.73 1607.7,1007.38 1608.45,1009.03 1609.2,1008.33 1609.95,1008.85 1610.7,1011.28 1611.45,1006.74 1612.2,1009.04 1612.95,1008.88 1613.7,1007.36 1614.45,1005.69 1615.2,1006.39 1615.95,1005.34 1616.7,1002.88 1617.45,1002.04 1618.2,1000.49 1618.95,1004.25 1619.7,1010.77 1620.45,1003.02 1621.2,1006.28 1621.95,1005.3 1622.7,1006.74 1623.45,1006.01 1624.2,1003.44 1624.95,1003.62 1625.7,1002.37 1626.45,1001.58 1627.2,1001.2 1627.95,1001.59 1628.7,995.9 1629.45,998.5 1630.2,998.76 1630.95,996.98 1631.7,999.06 1632.45,1002.74 1633.2,992.13 1633.95,1001.74 1634.7,1001.07 1635.45,996.75 1636.2,995.72 1636.95,996.12 1637.7,996.32 1638.45,1001.55 1639.2,996.8 1639.95,994.75 1640.7,992.34 1641.45,992.02 1642.2,991.58 1642.95,991.81 1643.7,993.15 1644.45,994.08 1645.2,990.74 1645.95,988.24 1646.7,994.54 1647.45,992.1 1648.2,990.26 1648.95,987.26 1649.7,989.53 1650.45,989.67 1651.2,989.97 1651.95,988.6 1652.7,988.9 1653.45,989.03 1654.2,994.26 1654.95,983.12 1655.7,985.17 1656.45,980.34 1657.2,985.05 1657.95,984.16 1658.7,982.72 1659.45,986.55 1660.2,982.57 1660.95,979.82 1661.7,982.5 1662.45,981.41 1663.2,978.67 1663.95,985.54 1664.7,981.85 1665.45,979.94 1666.2,976.9 1666.95,984.13 1667.7,982.39 1668.45,983.09 1669.2,982.73 1669.95,978.25 1670.7,979.61 1671.45,983.47 1672.2,982.37 1672.95,985.52 1673.7,982.1 1674.45,985.49 1675.2,985.69 1675.95,981.03 1676.7,981.59 1677.45,983.47 1678.2,982.15 1678.95,982.86 1679.7,983.01 1680.45,980.15 1681.2,981 1681.95,983.71 1682.7,982.48 1683.45,980.76 1684.2,981.96 1684.95,984.49 1685.7,985.16 1686.45,984.91 1687.2,985.51 1687.95,988.49 1688.7,984.15 1689.45,983.47 1690.2,986.62 1690.95,985.54 1691.7,984.1 1692.45,983.17 1693.2,983.89 1693.95,985.71 1694.7,985.93 1695.45,981.54 1696.2,978.76 1696.95,987.3 1697.7,984.51 1698.45,985.41 1699.2,982.96 1699.95,979.83 1700.7,981.08 1701.45,981.78 1702.2,984.12 1702.95,985.89 1703.7,986.27 1704.45,986.84 1705.2,990.09 1705.95,987.93 1706.7,989.62 1707.45,987.82 1708.2,983.72 1708.95,984.15 1709.7,989.29 1710.45,987.58 1711.2,990 1711.95,986.04 1712.7,983.17 1713.45,985.39 1714.2,987.06 1714.95,985.78 1715.7,990.62 1716.45,989.51 1717.2,988.59 1717.95,987.35 1718.7,993.93 1719.45,990.64 1720.2,987.54 1720.95,992.2 1721.7,989.28 1722.45,991.36 1723.2,987.7 1723.95,988.79 1724.7,992.97 1725.45,989.32 1726.2,989.09 1726.95,993.29 1727.7,991.09 1728.45,987.86 1729.2,994.1 1729.95,993.02 1730.7,994.14 1731.45,991.11 1732.2,993.31 1732.95,993.51 1733.7,988.75 1734.45,991.82 1735.2,993.47 1735.95,991.94 1736.7,996.15 1737.45,995.35 1738.2,992.44 1738.95,993.17 1739.7,994.25 1740.45,996.62 1741.2,995.2 1741.95,996.81 1742.7,996.06 1743.45,996.77 1744.2,1001.82 1744.95,1003.85 1745.7,1001.67 1746.45,999.44 1747.2,998.16 1747.95,998.96 1748.7,997.29 1749.45,1003.89 1750.2,996.77 1750.95,998.66 1751.7,999.76 1752.45,1003.04 1753.2,1003.19 1753.95,1000.85 1754.7,1001.81 1755.45,996.68 1756.2,1002.29 1756.95,1007.43 1757.7,1005.58 1758.45,1002.29 1759.2,1006.31 1759.95,1004.52 1760.7,1003.5 1761.45,1006.12 1762.2,1006.24 1762.95,1013.29 1763.7,1010.85 1764.45,1009.51 1765.2,1010.46 1765.95,1008.54 1766.7,1006.03 1767.45,1004.76 1768.2,1009.7 1768.95,1012.03 1769.7,1010.45 1770.45,1009.5 1771.2,1006.64 1771.95,1008.45 1772.7,1015.5 1773.45,1009.21 1774.2,1007.59 1774.95,1013.22 1775.7,1016.79 1776.45,1012.95 1777.2,1013.94 1777.95,1017.56 1778.7,1011.96 1779.45,1013.88 1780.2,1017.33 1780.95,1018.85 1781.7,1014.89 1782.45,1014.23 1783.2,1015.23 1783.95,1015.27 1784.7,1011.41 1785.45,1013.6 1786.2,1014.74 1786.95,1016.51 1787.7,1013.75 1788.45,1017.9 1789.2,1017.46 1789.95,1016.21 1790.7,1012.75 1791.45,1011.18 1792.2,1014.83 1792.95,1015.74 1793.7,1014.68 1794.45,1016.09 1795.2,1014.94 1795.95,1016.17 1796.7,1017.76 1797.45,1023.27 1798.2,1016.89 1798.95,1019.62 1799.7,1020.5 1800.45,1017.73 1801.2,1016.88 1801.95,1019.65 1802.7,1021.3 1803.45,1022.76 1804.2,1021.53 1804.95,1017.18 1805.7,1016.91 1806.45,1017.55 1807.2,1020.46 1807.95,1020.22 1808.7,1022.45 1809.45,1020.34 1810.2,1016.83 1810.95,1013.36 1811.7,1016.1 1812.45,1020.81 1813.2,1021.73 1813.95,1020.48 1814.7,1020.47 1815.45,1017.9 1816.2,1016 1816.95,1017.24 1817.7,1019.58 1818.45,1022.06 1819.2,1024.01 1819.95,1023.47 1820.7,1022.82 1821.45,1016.78 1822.2,1019.56 1822.95,1019.81 1823.7,1021.69 1824.45,1021.81 1825.2,1022.98 1825.95,1023.18 1826.7,1018.59 1827.45,1018.66 1828.2,1020.53 1828.95,1020.48 1829.7,1021.05 1830.45,1022.41 1831.2,1022.93 1831.95,1021.1 1832.7,1016.48 1833.45,1013.82 1834.2,1018.1 1834.95,1019.64 1835.7,1017.66 1836.45,1020.42 1837.2,1023.13 1837.95,1025.28 1838.7,1024.1 1839.45,1019.53 1840.2,1023.77 1840.95,1024.54 1841.7,1025.64 1842.45,1021.21 1843.2,1020.67 1843.95,1023.21 1844.7,1022.19 1845.45,1020.85 1846.2,1027.52 1846.95,1021.55 1847.7,1020.49 1848.45,1020.8 1849.2,1019.32 1849.95,1019.97 1850.7,1022.79 1851.45,1022.07 1852.2,1019.75 1852.95,1022.97 1853.7,1026.02 1854.45,1025.94 1855.2,1021.61 1855.95,1021.01 1856.7,1022.52 1857.45,1019.22 1858.2,1020.37 1858.95,1025.31 1859.7,1023.99 1860.45,1023.42 1861.2,1021.4 1861.95,1019.87 1862.7,1021.24 1863.45,1024.76 1864.2,1022.54 1864.95,1021.94 1865.7,1022.09 1866.45,1022.42 1867.2,1024.89 1867.95,1022.46 1868.7,1020.4 1869.45,1021.02 1870.2,1024.52 1870.95,1025.51 1871.7,1029.46 1872.45,1022.17 1873.2,1025.65 1873.95,1020.58 1874.7,1025.05 1875.45,1023.25 1876.2,1024.48 1876.95,1025.43 1877.7,1023.69 1878.45,1018.06 1879.2,1021.61 1879.95,1026.11 1880.7,1023.65 1881.45,1024.19 1882.2,1025.12 1882.95,1022.94 1883.7,1024.75 1884.45,1024.19 1885.2,1026.38 1885.95,1024.36 1886.7,1020.15 1887.45,1018.81 1888.2,1019.4 1888.95,1023.09 1889.7,1026.64 1890.45,1025.31 1891.2,1023.19 1891.95,1025.16 1892.7,1025.6 1893.45,1025.23 1894.2,1025.74 1894.95,1026.4 1895.7,1024.89 1896.45,1024.64 1897.2,1020.59 1897.95,1021.62 1898.7,1023.39 1899.45,1022.31 1900.2,1020.04 1900.95,1024.41 1901.7,1024.52 1902.45,1027.81 1903.2,1024.26 1903.95,1025.71 1904.7,1021.88 1905.45,1027.26 1906.2,1025.78 1906.95,1024 1907.7,1022.84 1908.45,1020.78 1909.2,1023.58 1909.95,1024.66 1910.7,1026.99 1911.45,1017.12 1912.2,1021.79 1912.95,1025.45 1913.7,1025.8 1914.45,1027 1915.2,1028.98 1915.95,1025.28 1916.7,1025.98 1917.45,1026.05 1918.2,1025.54 1918.95,1025.31 1919.7,1028.23 1920.45,1025.69 1921.2,1024.58 1921.95,1022.51 1922.7,1027.54 1923.45,1025.65 1924.2,1027.61 1924.95,1024.14 1925.7,1024.41 1926.45,1028.04 1927.2,1026.46 1927.95,1027.74 1928.7,1023.98 1929.45,1021.36 1930.2,1027.74 1930.95,1028.5 1931.7,1024.59 1932.45,1022.84 1933.2,1024.68 1933.95,1021.96 1934.7,1024.69 1935.45,1026.24 1936.2,1026.36 1936.95,1025.15 1937.7,1030.37 1938.45,1030.76 1939.2,1028.51 1939.95,1024.54 1940.7,1023.81 1941.45,1026.32 1942.2,1026.54 1942.95,1024.33 1943.7,1030.27 1944.45,1024.96 1945.2,1027.08 1945.95,1030.03 1946.7,1024.09 1947.45,1025.35 1948.2,1027.08 1948.95,1027.55 1949.7,1028.5 1950.45,1028.53 1951.2,1021.77 1951.95,1024.75 1952.7,1025.75 1953.45,1024.39 1954.2,1021.95 1954.95,1030.16 1955.7,1028.8 1956.45,1027.69 1957.2,1023.28 1957.95,1029.22 1958.7,1026.88 1959.45,1031.29 1960.2,1027.28 1960.95,1026.86 1961.7,1030.48 1962.45,1029.99 1963.2,1025.74 1963.95,1025.72 1964.7,1023.9 1965.45,1023.48 1966.2,1029.82 1966.95,1032.76 1967.7,1026.76 1968.45,1027.06 1969.2,1027.53 1969.95,1027.99 1970.7,1025.81 1971.45,1028.29 1972.2,1023.6 1972.95,1027.24 1973.7,1027.05 1974.45,1026.96 1975.2,1018.84 1975.95,1025.49 1976.7,1029.83 1977.45,1029.46 1978.2,1021.52 1978.95,1027.65 1979.7,1032.64 1980.45,1034.51 1981.2,1028.55 1981.95,1027.79 1982.7,1025.97 1983.45,1026.27 1984.2,1031.2 1984.95,1025.08 1985.7,1027.99 1986.45,1022.74 1987.2,1025.14 1987.95,1027.75 1988.7,1024.67 1989.45,1030.66 1990.2,1030.97 1990.95,1029.45 1991.7,1025.91 1992.45,1030.51 1993.2,1030.71 1993.95,1027.72 1994.7,1026.18 1995.45,1026.68 1996.2,1027.65 1996.95,1025.4 1997.7,1023.74 1998.45,1028.15 1999.2,1029.5 1999.95,1030.98 2000.7,1029.82 2001.45,1025.72 2002.2,1032.21 2002.95,1027.28 2003.7,1025.03 2004.45,1028.48 2005.2,1026.24 2005.95,1026.65 2006.7,1024.83 2007.45,1023.15 2008.2,1024.86 2008.95,1029.41 2009.7,1028.68 2010.45,1031.17 2011.2,1030.68 2011.95,1029.59 2012.7,1030.07 2013.45,1026.29 2014.2,1029.66 2014.95,1032.67 2015.7,1030.4 2016.45,1033.15 2017.2,1027.72 2017.95,1027.42 2018.7,1029.93 2019.45,1027.67 2020.2,1030.18 2020.95,1028.98 2021.7,1030.12 2022.45,1027.71 2023.2,1028.4 2023.95,1029.65 2024.7,1030.89 2025.45,1028.65 2026.2,1031.13 2026.95,1027.92 2027.7,1027.85 2028.45,1028.62 2029.2,1032.27 2029.95,1029.6 2030.7,1026.71 2031.45,1028.54 2032.2,1033.75 2032.95,1033.24 2033.7,1034.44 2034.45,1033.63 2035.2,1028.68 2035.95,1030.5 2036.7,1033.45 2037.45,1029.46 2038.2,1028.16 2038.95,1024.88 2039.7,1025.76 2040.45,1030.13 2041.2,1028.68 2041.95,1031.63 2042.7,1032.03 2043.45,1033.88 2044.2,1031.68 2044.95,1031.39 2045.7,1034.95 2046.45,1030.56 2047.2,1029.45 2047.95,1028.48 2048.7,1032.44" fill="none" stroke="#F5B8B8" stroke-width="2.3" stroke-linejoin="round" stroke-linecap="round" />
<line x1="1511.6" y1="628.7" x2="2050.5" y2="628.7" stroke="#000" stroke-width="2.3" />
<line x1="2049.4" y1="628.7" x2="2049.4" y2="1061" stroke="#000" stroke-width="2.3" />
<line x1="1511.6" y1="1061" x2="2050.5" y2="1061" stroke="#000" stroke-width="2.3" />
<line x1="1512.7" y1="628.7" x2="1512.7" y2="1061" stroke="#000" stroke-width="2.3" />
<text transform="translate(2046.5,667.8) scale(1,1.055)" font-size="32" text-anchor="end" >50 h EA (0.6 V<tspan dy="8.3" font-size="21.5">RHE</tspan><tspan dy="-8.3">), @ 0.6 V</tspan><tspan dy="8.3" font-size="21.5">RHE</tspan></text>
<text transform="translate(2044.3,735.8) scale(1,1.055)" font-size="32" text-anchor="end" >300 s</text>
<text transform="translate(2044.3,786.5) scale(1,1.055)" font-size="32" text-anchor="end" >180 s</text>
<text transform="translate(2044.3,838.5) scale(1,1.055)" font-size="32" text-anchor="end" >120 s</text>
<text transform="translate(2044.3,889.9) scale(1,1.055)" font-size="32" text-anchor="end" >60 s</text>
<text transform="translate(2044.3,949) scale(1,1.055)" font-size="32" text-anchor="end" >30 s</text>
<text transform="translate(2044.3,1016) scale(1,1.055)" font-size="32" text-anchor="end" >10 s</text>
<text transform="translate(1651,1151) scale(1,1.055)" font-size="32" >Raman shift <tspan font-size="21">(</tspan>cm<tspan dy="-9.5" font-size="21.5">−1</tspan><tspan dy="9.5" font-size="21">)</tspan></text>
<text transform="translate(1483,846) rotate(-90) scale(1,1.055)" text-anchor="middle" font-size="32">Intensity (arb.units )</text>
</svg>
</body></html>
